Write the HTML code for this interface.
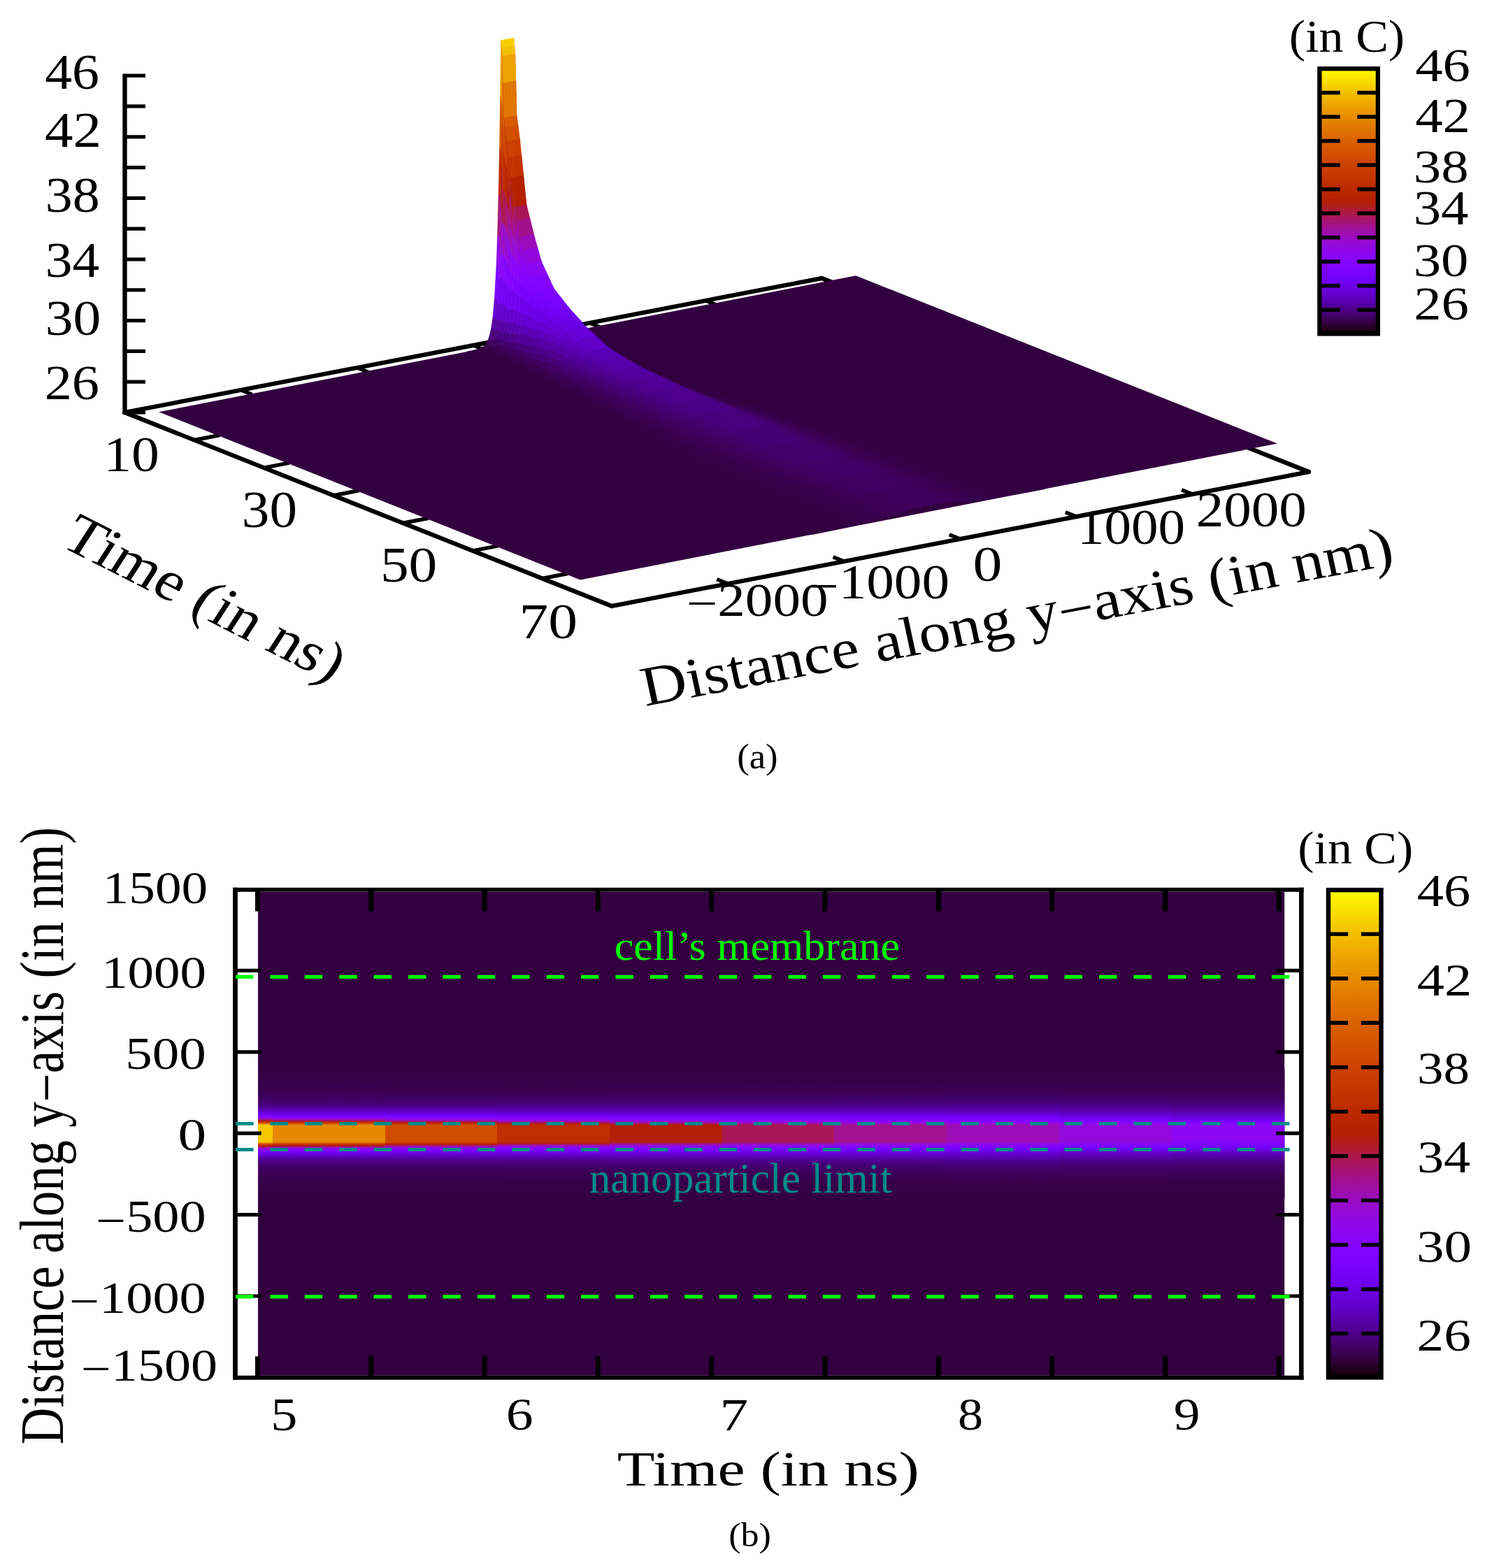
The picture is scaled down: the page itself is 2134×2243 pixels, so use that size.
<!DOCTYPE html>
<html><head><meta charset="utf-8"><title>Temperature plots</title>
<style>html,body{margin:0;padding:0;background:#fff;overflow:hidden;}svg{display:block;}</style></head>
<body><svg width="2134" height="2243" viewBox="0 0 2134 2243" font-family='"Liberation Serif", "DejaVu Serif", serif'>
<rect width="2134" height="2243" fill="#fff"/>
<g id="back">
<line x1="178.50" y1="590.00" x2="1175.50" y2="398.00" stroke="#000" stroke-width="6.2" stroke-linecap="round" />
<line x1="1175.50" y1="398.00" x2="1872.00" y2="675.00" stroke="#000" stroke-width="6.2" stroke-linecap="round" />
<line x1="178.50" y1="590.00" x2="194.30" y2="596.28" stroke="#000" stroke-width="5.5" stroke-linecap="butt" />
<line x1="344.67" y1="558.00" x2="360.46" y2="564.28" stroke="#000" stroke-width="5.5" stroke-linecap="butt" />
<line x1="510.83" y1="526.00" x2="526.63" y2="532.28" stroke="#000" stroke-width="5.5" stroke-linecap="butt" />
<line x1="677.00" y1="494.00" x2="692.80" y2="500.28" stroke="#000" stroke-width="5.5" stroke-linecap="butt" />
<line x1="843.17" y1="462.00" x2="858.96" y2="468.28" stroke="#000" stroke-width="5.5" stroke-linecap="butt" />
<line x1="1009.33" y1="430.00" x2="1025.13" y2="436.28" stroke="#000" stroke-width="5.5" stroke-linecap="butt" />
<line x1="1175.50" y1="398.00" x2="1191.30" y2="404.28" stroke="#000" stroke-width="5.5" stroke-linecap="butt" />
<line x1="1175.50" y1="398.00" x2="1139.17" y2="405.00" stroke="#000" stroke-width="5.5" stroke-linecap="butt" />
<line x1="1275.00" y1="437.57" x2="1238.67" y2="444.57" stroke="#000" stroke-width="5.5" stroke-linecap="butt" />
<line x1="1374.50" y1="477.14" x2="1338.17" y2="484.14" stroke="#000" stroke-width="5.5" stroke-linecap="butt" />
<line x1="1474.00" y1="516.71" x2="1437.67" y2="523.71" stroke="#000" stroke-width="5.5" stroke-linecap="butt" />
<line x1="1573.50" y1="556.29" x2="1537.17" y2="563.28" stroke="#000" stroke-width="5.5" stroke-linecap="butt" />
<line x1="1673.00" y1="595.86" x2="1636.67" y2="602.85" stroke="#000" stroke-width="5.5" stroke-linecap="butt" />
<line x1="1772.50" y1="635.43" x2="1736.17" y2="642.43" stroke="#000" stroke-width="5.5" stroke-linecap="butt" />
<line x1="1872.00" y1="675.00" x2="1835.67" y2="682.00" stroke="#000" stroke-width="5.5" stroke-linecap="butt" />
<line x1="178.50" y1="590.00" x2="214.83" y2="583.00" stroke="#000" stroke-width="5.5" stroke-linecap="butt" />
<line x1="278.00" y1="629.57" x2="314.33" y2="622.57" stroke="#000" stroke-width="5.5" stroke-linecap="butt" />
<line x1="377.50" y1="669.14" x2="413.83" y2="662.15" stroke="#000" stroke-width="5.5" stroke-linecap="butt" />
<line x1="477.00" y1="708.71" x2="513.33" y2="701.72" stroke="#000" stroke-width="5.5" stroke-linecap="butt" />
<line x1="576.50" y1="748.29" x2="612.83" y2="741.29" stroke="#000" stroke-width="5.5" stroke-linecap="butt" />
<line x1="676.00" y1="787.86" x2="712.33" y2="780.86" stroke="#000" stroke-width="5.5" stroke-linecap="butt" />
<line x1="775.50" y1="827.43" x2="811.83" y2="820.43" stroke="#000" stroke-width="5.5" stroke-linecap="butt" />
<line x1="875.00" y1="867.00" x2="911.33" y2="860.00" stroke="#000" stroke-width="5.5" stroke-linecap="butt" />
</g>
<polygon points="227.1,589.3 829.9,829.5 1826.9,634.5 1224.1,394.3" fill="#33003f" />
<g id="surf" stroke-linejoin="round">
<polygon points="775.5,481.9 776.4,482.3 784.8,480.8 783.8,480.4" fill="#330040" stroke="#330040" stroke-width="0.6"/>
<polygon points="768.8,482.9 769.8,483.3 776.4,482.3 775.5,481.9" fill="#330040" stroke="#330040" stroke-width="0.6"/>
<polygon points="763.8,483.1 764.8,483.4 769.8,483.3 768.8,482.9" fill="#340042" stroke="#340042" stroke-width="0.6"/>
<polygon points="758.8,481.9 759.8,482.1 764.8,483.4 763.8,483.1" fill="#360047" stroke="#360047" stroke-width="0.6"/>
<polygon points="755.5,479.4 756.5,479.5 759.8,482.1 758.8,481.9" fill="#390050" stroke="#390050" stroke-width="0.6"/>
<polygon points="752.2,473.9 753.2,473.7 756.5,479.5 755.5,479.4" fill="#3f005f" stroke="#3f005f" stroke-width="0.6"/>
<polygon points="748.9,462.5 749.9,461.9 753.2,473.7 752.2,473.9" fill="#48007a" stroke="#48007a" stroke-width="0.6"/>
<polygon points="746.4,446.9 747.4,446.0 749.9,461.9 748.9,462.5" fill="#5400a2" stroke="#5400a2" stroke-width="0.6"/>
<polygon points="743.9,420.8 744.9,419.7 747.4,446.0 746.4,446.9" fill="#6401d2" stroke="#6401d2" stroke-width="0.6"/>
<polygon points="741.4,377.6 742.4,376.6 744.9,419.7 743.9,420.8" fill="#7903fc" stroke="#7903fc" stroke-width="0.6"/>
<polygon points="739.7,334.0 740.7,333.4 742.4,376.6 741.4,377.6" fill="#9008e8" stroke="#9008e8" stroke-width="0.6"/>
<polygon points="738.1,272.9 739.1,273.8 740.7,333.4 739.7,334.0" fill="#a61473" stroke="#a61473" stroke-width="0.6"/>
<polygon points="736.7,207.1 737.7,210.0 739.1,273.8 738.1,272.9" fill="#be2c00" stroke="#be2c00" stroke-width="0.6"/>
<polygon points="735.6,133.0 736.6,139.3 737.7,210.0 736.7,207.1" fill="#d55700" stroke="#d55700" stroke-width="0.6"/>
<polygon points="734.6,54.2 735.6,65.6 736.6,139.3 735.6,133.0" fill="#ec9f00" stroke="#ec9f00" stroke-width="0.6"/>
<polygon points="733.1,54.5 734.1,65.9 735.6,65.6 734.6,54.2" fill="#f6cf00" stroke="#f6cf00" stroke-width="0.6"/>
<polygon points="730.6,55.0 731.6,66.4 734.1,65.9 733.1,54.5" fill="#f6cf00" stroke="#f6cf00" stroke-width="0.6"/>
<polygon points="728.1,55.5 729.1,66.9 731.6,66.4 730.6,55.0" fill="#f6cf00" stroke="#f6cf00" stroke-width="0.6"/>
<polygon points="725.6,56.0 726.6,67.3 729.1,66.9 728.1,55.5" fill="#f6cf00" stroke="#f6cf00" stroke-width="0.6"/>
<polygon points="723.1,56.5 724.1,67.8 726.6,67.3 725.6,56.0" fill="#f6cf00" stroke="#f6cf00" stroke-width="0.6"/>
<polygon points="720.6,57.0 721.6,68.3 724.1,67.8 723.1,56.5" fill="#f6cf00" stroke="#f6cf00" stroke-width="0.6"/>
<polygon points="718.1,57.5 719.1,68.8 721.6,68.3 720.6,57.0" fill="#f6cf00" stroke="#f6cf00" stroke-width="0.6"/>
<polygon points="716.6,57.7 717.6,69.1 719.1,68.8 718.1,57.5" fill="#f6cf00" stroke="#f6cf00" stroke-width="0.6"/>
<polygon points="715.6,136.9 716.6,143.2 717.6,69.1 716.6,57.7" fill="#ec9f00" stroke="#ec9f00" stroke-width="0.6"/>
<polygon points="714.5,211.4 715.5,214.4 716.6,143.2 715.6,136.9" fill="#d55700" stroke="#d55700" stroke-width="0.6"/>
<polygon points="713.1,277.8 714.1,278.6 715.5,214.4 714.5,211.4" fill="#be2c00" stroke="#be2c00" stroke-width="0.6"/>
<polygon points="711.5,339.5 712.5,339.0 714.1,278.6 713.1,277.8" fill="#a61473" stroke="#a61473" stroke-width="0.6"/>
<polygon points="709.8,383.8 710.8,382.7 712.5,339.0 711.5,339.5" fill="#9008e8" stroke="#9008e8" stroke-width="0.6"/>
<polygon points="707.3,428.0 708.3,426.9 710.8,382.7 709.8,383.8" fill="#7903fc" stroke="#7903fc" stroke-width="0.6"/>
<polygon points="704.8,455.0 705.8,454.2 708.3,426.9 707.3,428.0" fill="#6401d2" stroke="#6401d2" stroke-width="0.6"/>
<polygon points="702.3,471.6 703.3,471.0 705.8,454.2 704.8,455.0" fill="#5400a2" stroke="#5400a2" stroke-width="0.6"/>
<polygon points="699.0,484.3 700.0,484.1 703.3,471.0 702.3,471.6" fill="#48007a" stroke="#48007a" stroke-width="0.6"/>
<polygon points="695.7,491.1 696.7,491.2 700.0,484.1 699.0,484.3" fill="#3f005f" stroke="#3f005f" stroke-width="0.6"/>
<polygon points="692.4,494.9 693.4,495.1 696.7,491.2 695.7,491.1" fill="#390050" stroke="#390050" stroke-width="0.6"/>
<polygon points="687.4,498.0 688.4,498.4 693.4,495.1 692.4,494.9" fill="#360047" stroke="#360047" stroke-width="0.6"/>
<polygon points="682.4,499.8 683.4,500.2 688.4,498.4 687.4,498.0" fill="#340042" stroke="#340042" stroke-width="0.6"/>
<polygon points="675.8,501.4 676.7,501.8 683.4,500.2 682.4,499.8" fill="#330040" stroke="#330040" stroke-width="0.6"/>
<polygon points="667.4,503.2 668.4,503.5 676.7,501.8 675.8,501.4" fill="#330040" stroke="#330040" stroke-width="0.6"/>
<polygon points="776.4,482.3 777.4,482.7 785.8,481.2 784.8,480.8" fill="#330040" stroke="#330040" stroke-width="0.6"/>
<polygon points="769.8,483.3 770.8,483.6 777.4,482.7 776.4,482.3" fill="#330040" stroke="#330040" stroke-width="0.6"/>
<polygon points="764.8,483.4 765.8,483.7 770.8,483.6 769.8,483.3" fill="#340042" stroke="#340042" stroke-width="0.6"/>
<polygon points="759.8,482.1 760.8,482.3 765.8,483.7 764.8,483.4" fill="#360047" stroke="#360047" stroke-width="0.6"/>
<polygon points="756.5,479.5 757.5,479.5 760.8,482.3 759.8,482.1" fill="#3a0050" stroke="#3a0050" stroke-width="0.6"/>
<polygon points="753.2,473.7 754.2,473.5 757.5,479.5 756.5,479.5" fill="#3f0060" stroke="#3f0060" stroke-width="0.6"/>
<polygon points="749.9,461.9 750.9,461.4 754.2,473.5 753.2,473.7" fill="#49007d" stroke="#49007d" stroke-width="0.6"/>
<polygon points="747.4,446.0 748.4,445.3 750.9,461.4 749.9,461.9" fill="#5500a4" stroke="#5500a4" stroke-width="0.6"/>
<polygon points="744.9,419.7 745.9,418.8 748.4,445.3 747.4,446.0" fill="#6501d4" stroke="#6501d4" stroke-width="0.6"/>
<polygon points="742.4,376.6 743.4,375.8 745.9,418.8 744.9,419.7" fill="#7a03fd" stroke="#7a03fd" stroke-width="0.6"/>
<polygon points="740.7,333.4 741.7,333.2 743.4,375.8 742.4,376.6" fill="#9008e7" stroke="#9008e7" stroke-width="0.6"/>
<polygon points="739.1,273.8 740.1,274.9 741.7,333.2 740.7,333.4" fill="#a61472" stroke="#a61472" stroke-width="0.6"/>
<polygon points="737.7,210.0 738.7,213.4 740.1,274.9 739.1,273.8" fill="#be2b00" stroke="#be2b00" stroke-width="0.6"/>
<polygon points="736.6,139.3 737.6,145.9 738.7,213.4 737.7,210.0" fill="#d45400" stroke="#d45400" stroke-width="0.6"/>
<polygon points="735.6,65.6 736.6,76.9 737.6,145.9 736.6,139.3" fill="#e99500" stroke="#e99500" stroke-width="0.6"/>
<polygon points="734.1,65.9 735.1,77.2 736.6,76.9 735.6,65.6" fill="#f3c000" stroke="#f3c000" stroke-width="0.6"/>
<polygon points="731.6,66.4 732.6,77.7 735.1,77.2 734.1,65.9" fill="#f3c000" stroke="#f3c000" stroke-width="0.6"/>
<polygon points="729.1,66.9 730.1,78.2 732.6,77.7 731.6,66.4" fill="#f3c000" stroke="#f3c000" stroke-width="0.6"/>
<polygon points="726.6,67.3 727.6,78.7 730.1,78.2 729.1,66.9" fill="#f3c000" stroke="#f3c000" stroke-width="0.6"/>
<polygon points="724.1,67.8 725.1,79.2 727.6,78.7 726.6,67.3" fill="#f3c000" stroke="#f3c000" stroke-width="0.6"/>
<polygon points="721.6,68.3 722.6,79.7 725.1,79.2 724.1,67.8" fill="#f3c000" stroke="#f3c000" stroke-width="0.6"/>
<polygon points="719.1,68.8 720.1,80.1 722.6,79.7 721.6,68.3" fill="#f3c000" stroke="#f3c000" stroke-width="0.6"/>
<polygon points="717.6,69.1 718.6,80.4 720.1,80.1 719.1,68.8" fill="#f3c000" stroke="#f3c000" stroke-width="0.6"/>
<polygon points="716.6,143.2 717.6,149.8 718.6,80.4 717.6,69.1" fill="#e99500" stroke="#e99500" stroke-width="0.6"/>
<polygon points="715.5,214.4 716.5,217.7 717.6,149.8 716.6,143.2" fill="#d45400" stroke="#d45400" stroke-width="0.6"/>
<polygon points="714.1,278.6 715.1,279.8 716.5,217.7 715.5,214.4" fill="#be2b00" stroke="#be2b00" stroke-width="0.6"/>
<polygon points="712.5,339.0 713.5,338.8 715.1,279.8 714.1,278.6" fill="#a61472" stroke="#a61472" stroke-width="0.6"/>
<polygon points="710.8,382.7 711.8,381.9 713.5,338.8 712.5,339.0" fill="#9008e7" stroke="#9008e7" stroke-width="0.6"/>
<polygon points="708.3,426.9 709.3,425.9 711.8,381.9 710.8,382.7" fill="#7a03fd" stroke="#7a03fd" stroke-width="0.6"/>
<polygon points="705.8,454.2 706.8,453.4 709.3,425.9 708.3,426.9" fill="#6501d4" stroke="#6501d4" stroke-width="0.6"/>
<polygon points="703.3,471.0 704.3,470.5 706.8,453.4 705.8,454.2" fill="#5500a4" stroke="#5500a4" stroke-width="0.6"/>
<polygon points="700.0,484.1 701.0,483.9 704.3,470.5 703.3,471.0" fill="#49007d" stroke="#49007d" stroke-width="0.6"/>
<polygon points="696.7,491.2 697.7,491.2 701.0,483.9 700.0,484.1" fill="#3f0060" stroke="#3f0060" stroke-width="0.6"/>
<polygon points="693.4,495.1 694.4,495.3 697.7,491.2 696.7,491.2" fill="#3a0050" stroke="#3a0050" stroke-width="0.6"/>
<polygon points="688.4,498.4 689.4,498.7 694.4,495.3 693.4,495.1" fill="#360047" stroke="#360047" stroke-width="0.6"/>
<polygon points="683.4,500.2 684.4,500.5 689.4,498.7 688.4,498.4" fill="#340042" stroke="#340042" stroke-width="0.6"/>
<polygon points="676.7,501.8 677.7,502.2 684.4,500.5 683.4,500.2" fill="#330040" stroke="#330040" stroke-width="0.6"/>
<polygon points="668.4,503.5 669.4,503.9 677.7,502.2 676.7,501.8" fill="#330040" stroke="#330040" stroke-width="0.6"/>
<polygon points="777.4,482.7 778.4,483.1 786.8,481.6 785.8,481.2" fill="#330040" stroke="#330040" stroke-width="0.6"/>
<polygon points="770.8,483.6 771.8,484.0 778.4,483.1 777.4,482.7" fill="#330040" stroke="#330040" stroke-width="0.6"/>
<polygon points="765.8,483.7 766.8,484.1 771.8,484.0 770.8,483.6" fill="#340042" stroke="#340042" stroke-width="0.6"/>
<polygon points="760.8,482.3 761.8,482.8 766.8,484.1 765.8,483.7" fill="#360048" stroke="#360048" stroke-width="0.6"/>
<polygon points="757.5,479.5 758.5,480.1 761.8,482.8 760.8,482.3" fill="#3a0051" stroke="#3a0051" stroke-width="0.6"/>
<polygon points="754.2,473.5 755.2,474.3 758.5,480.1 757.5,479.5" fill="#3f0060" stroke="#3f0060" stroke-width="0.6"/>
<polygon points="750.9,461.4 751.9,462.9 755.2,474.3 754.2,473.5" fill="#49007d" stroke="#49007d" stroke-width="0.6"/>
<polygon points="748.4,445.3 749.4,447.6 751.9,462.9 750.9,461.4" fill="#5500a4" stroke="#5500a4" stroke-width="0.6"/>
<polygon points="745.9,418.8 746.9,422.8 749.4,447.6 748.4,445.3" fill="#6401d3" stroke="#6401d3" stroke-width="0.6"/>
<polygon points="743.4,375.8 744.4,382.9 746.9,422.8 745.9,418.8" fill="#7903fc" stroke="#7903fc" stroke-width="0.6"/>
<polygon points="741.7,333.2 742.7,343.9 744.4,382.9 743.4,375.8" fill="#8e08ec" stroke="#8e08ec" stroke-width="0.6"/>
<polygon points="740.1,274.9 741.1,290.9 742.7,343.9 741.7,333.2" fill="#a41285" stroke="#a41285" stroke-width="0.6"/>
<polygon points="738.7,213.4 739.7,235.5 741.1,290.9 740.1,274.9" fill="#ba2600" stroke="#ba2600" stroke-width="0.6"/>
<polygon points="737.6,145.9 738.6,175.5 739.7,235.5 738.7,213.4" fill="#cf4900" stroke="#cf4900" stroke-width="0.6"/>
<polygon points="736.6,76.9 737.6,115.4 738.6,175.5 737.6,145.9" fill="#e37f00" stroke="#e37f00" stroke-width="0.6"/>
<polygon points="735.1,77.2 736.1,115.7 737.6,115.4 736.6,76.9" fill="#eca200" stroke="#eca200" stroke-width="0.6"/>
<polygon points="732.6,77.7 733.6,116.2 736.1,115.7 735.1,77.2" fill="#eca200" stroke="#eca200" stroke-width="0.6"/>
<polygon points="730.1,78.2 731.1,116.7 733.6,116.2 732.6,77.7" fill="#eca200" stroke="#eca200" stroke-width="0.6"/>
<polygon points="727.6,78.7 728.6,117.2 731.1,116.7 730.1,78.2" fill="#eca200" stroke="#eca200" stroke-width="0.6"/>
<polygon points="725.1,79.2 726.1,117.7 728.6,117.2 727.6,78.7" fill="#eca200" stroke="#eca200" stroke-width="0.6"/>
<polygon points="722.6,79.7 723.6,118.1 726.1,117.7 725.1,79.2" fill="#eca200" stroke="#eca200" stroke-width="0.6"/>
<polygon points="720.1,80.1 721.1,118.6 723.6,118.1 722.6,79.7" fill="#eca200" stroke="#eca200" stroke-width="0.6"/>
<polygon points="718.6,80.4 719.6,118.9 721.1,118.6 720.1,80.1" fill="#eca200" stroke="#eca200" stroke-width="0.6"/>
<polygon points="717.6,149.8 718.6,179.4 719.6,118.9 718.6,80.4" fill="#e37f00" stroke="#e37f00" stroke-width="0.6"/>
<polygon points="716.5,217.7 717.5,239.9 718.6,179.4 717.6,149.8" fill="#cf4900" stroke="#cf4900" stroke-width="0.6"/>
<polygon points="715.1,279.8 716.1,295.8 717.5,239.9 716.5,217.7" fill="#ba2600" stroke="#ba2600" stroke-width="0.6"/>
<polygon points="713.5,338.8 714.5,349.4 716.1,295.8 715.1,279.8" fill="#a41285" stroke="#a41285" stroke-width="0.6"/>
<polygon points="711.8,381.9 712.8,389.1 714.5,349.4 713.5,338.8" fill="#8e08ec" stroke="#8e08ec" stroke-width="0.6"/>
<polygon points="709.3,425.9 710.3,430.0 712.8,389.1 711.8,381.9" fill="#7903fc" stroke="#7903fc" stroke-width="0.6"/>
<polygon points="706.8,453.4 707.8,455.7 710.3,430.0 709.3,425.9" fill="#6401d3" stroke="#6401d3" stroke-width="0.6"/>
<polygon points="704.3,470.5 705.3,472.0 707.8,455.7 706.8,453.4" fill="#5500a4" stroke="#5500a4" stroke-width="0.6"/>
<polygon points="701.0,483.9 702.0,484.7 705.3,472.0 704.3,470.5" fill="#49007d" stroke="#49007d" stroke-width="0.6"/>
<polygon points="697.7,491.2 698.7,491.8 702.0,484.7 701.0,483.9" fill="#3f0060" stroke="#3f0060" stroke-width="0.6"/>
<polygon points="694.4,495.3 695.4,495.8 698.7,491.8 697.7,491.2" fill="#3a0051" stroke="#3a0051" stroke-width="0.6"/>
<polygon points="689.4,498.7 690.4,499.1 695.4,495.8 694.4,495.3" fill="#360048" stroke="#360048" stroke-width="0.6"/>
<polygon points="684.4,500.5 685.4,500.9 690.4,499.1 689.4,498.7" fill="#340042" stroke="#340042" stroke-width="0.6"/>
<polygon points="677.7,502.2 678.7,502.6 685.4,500.9 684.4,500.5" fill="#330040" stroke="#330040" stroke-width="0.6"/>
<polygon points="669.4,503.9 670.4,504.3 678.7,502.6 677.7,502.2" fill="#330040" stroke="#330040" stroke-width="0.6"/>
<polygon points="778.4,483.1 779.7,483.6 788.1,482.1 786.8,481.6" fill="#330040" stroke="#330040" stroke-width="0.6"/>
<polygon points="771.8,484.0 773.1,484.6 779.7,483.6 778.4,483.1" fill="#330040" stroke="#330040" stroke-width="0.6"/>
<polygon points="766.8,484.1 768.1,484.7 773.1,484.6 771.8,484.0" fill="#340042" stroke="#340042" stroke-width="0.6"/>
<polygon points="761.8,482.8 763.1,483.5 768.1,484.7 766.8,484.1" fill="#360047" stroke="#360047" stroke-width="0.6"/>
<polygon points="758.5,480.1 759.8,481.0 763.1,483.5 761.8,482.8" fill="#3a0050" stroke="#3a0050" stroke-width="0.6"/>
<polygon points="755.2,474.3 756.5,475.7 759.8,481.0 758.5,480.1" fill="#3f005f" stroke="#3f005f" stroke-width="0.6"/>
<polygon points="751.9,462.9 753.2,465.1 756.5,475.7 755.2,474.3" fill="#48007a" stroke="#48007a" stroke-width="0.6"/>
<polygon points="749.4,447.6 750.7,451.2 753.2,465.1 751.9,462.9" fill="#53009f" stroke="#53009f" stroke-width="0.6"/>
<polygon points="746.9,422.8 748.2,428.9 750.7,451.2 749.4,447.6" fill="#6201cc" stroke="#6201cc" stroke-width="0.6"/>
<polygon points="744.4,382.9 745.7,393.4 748.2,428.9 746.9,422.8" fill="#7502f8" stroke="#7502f8" stroke-width="0.6"/>
<polygon points="742.7,343.9 744.0,359.1 745.7,393.4 744.4,382.9" fill="#8906f7" stroke="#8906f7" stroke-width="0.6"/>
<polygon points="741.1,290.9 742.4,313.0 744.0,359.1 742.7,343.9" fill="#9d0eae" stroke="#9d0eae" stroke-width="0.6"/>
<polygon points="739.7,235.5 741.0,265.6 742.4,313.0 741.1,290.9" fill="#b21d17" stroke="#b21d17" stroke-width="0.6"/>
<polygon points="738.6,175.5 739.9,214.9 741.0,265.6 739.7,235.5" fill="#c53600" stroke="#c53600" stroke-width="0.6"/>
<polygon points="737.6,115.4 738.9,165.4 739.9,214.9 738.6,175.5" fill="#d75c00" stroke="#d75c00" stroke-width="0.6"/>
<polygon points="736.1,115.7 737.4,165.7 738.9,165.4 737.6,115.4" fill="#e07400" stroke="#e07400" stroke-width="0.6"/>
<polygon points="733.6,116.2 734.9,166.2 737.4,165.7 736.1,115.7" fill="#e07400" stroke="#e07400" stroke-width="0.6"/>
<polygon points="731.1,116.7 732.4,166.7 734.9,166.2 733.6,116.2" fill="#e07400" stroke="#e07400" stroke-width="0.6"/>
<polygon points="728.6,117.2 729.9,167.2 732.4,166.7 731.1,116.7" fill="#e07400" stroke="#e07400" stroke-width="0.6"/>
<polygon points="726.1,117.7 727.4,167.7 729.9,167.2 728.6,117.2" fill="#e07400" stroke="#e07400" stroke-width="0.6"/>
<polygon points="723.6,118.1 724.9,168.2 727.4,167.7 726.1,117.7" fill="#e07400" stroke="#e07400" stroke-width="0.6"/>
<polygon points="721.1,118.6 722.4,168.7 724.9,168.2 723.6,118.1" fill="#e07400" stroke="#e07400" stroke-width="0.6"/>
<polygon points="719.6,118.9 720.9,169.0 722.4,168.7 721.1,118.6" fill="#e07400" stroke="#e07400" stroke-width="0.6"/>
<polygon points="718.6,179.4 719.9,218.8 720.9,169.0 719.6,118.9" fill="#d75c00" stroke="#d75c00" stroke-width="0.6"/>
<polygon points="717.5,239.9 718.8,269.9 719.9,218.8 718.6,179.4" fill="#c53600" stroke="#c53600" stroke-width="0.6"/>
<polygon points="716.1,295.8 717.4,317.9 718.8,269.9 717.5,239.9" fill="#b21d17" stroke="#b21d17" stroke-width="0.6"/>
<polygon points="714.5,349.4 715.8,364.6 717.4,317.9 716.1,295.8" fill="#9d0eae" stroke="#9d0eae" stroke-width="0.6"/>
<polygon points="712.8,389.1 714.1,399.6 715.8,364.6 714.5,349.4" fill="#8906f7" stroke="#8906f7" stroke-width="0.6"/>
<polygon points="710.3,430.0 711.6,436.0 714.1,399.6 712.8,389.1" fill="#7502f8" stroke="#7502f8" stroke-width="0.6"/>
<polygon points="707.8,455.7 709.1,459.3 711.6,436.0 710.3,430.0" fill="#6201cc" stroke="#6201cc" stroke-width="0.6"/>
<polygon points="705.3,472.0 706.6,474.2 709.1,459.3 707.8,455.7" fill="#53009f" stroke="#53009f" stroke-width="0.6"/>
<polygon points="702.0,484.7 703.3,486.1 706.6,474.2 705.3,472.0" fill="#48007a" stroke="#48007a" stroke-width="0.6"/>
<polygon points="698.7,491.8 700.0,492.7 703.3,486.1 702.0,484.7" fill="#3f005f" stroke="#3f005f" stroke-width="0.6"/>
<polygon points="695.4,495.8 696.7,496.5 700.0,492.7 698.7,491.8" fill="#3a0050" stroke="#3a0050" stroke-width="0.6"/>
<polygon points="690.4,499.1 691.7,499.7 696.7,496.5 695.4,495.8" fill="#360047" stroke="#360047" stroke-width="0.6"/>
<polygon points="685.4,500.9 686.7,501.5 691.7,499.7 690.4,499.1" fill="#340042" stroke="#340042" stroke-width="0.6"/>
<polygon points="678.7,502.6 680.0,503.1 686.7,501.5 685.4,500.9" fill="#330040" stroke="#330040" stroke-width="0.6"/>
<polygon points="670.4,504.3 671.7,504.9 680.0,503.1 678.7,502.6" fill="#330040" stroke="#330040" stroke-width="0.6"/>
<polygon points="779.7,483.6 781.4,484.3 789.8,482.8 788.1,482.1" fill="#330040" stroke="#330040" stroke-width="0.6"/>
<polygon points="773.1,484.6 774.8,485.2 781.4,484.3 779.7,483.6" fill="#330041" stroke="#330041" stroke-width="0.6"/>
<polygon points="768.1,484.7 769.8,485.3 774.8,485.2 773.1,484.6" fill="#340043" stroke="#340043" stroke-width="0.6"/>
<polygon points="763.1,483.5 764.8,483.9 769.8,485.3 768.1,484.7" fill="#360048" stroke="#360048" stroke-width="0.6"/>
<polygon points="759.8,481.0 761.5,481.1 764.8,483.9 763.1,483.5" fill="#3a0050" stroke="#3a0050" stroke-width="0.6"/>
<polygon points="756.5,475.7 758.2,475.5 761.5,481.1 759.8,481.0" fill="#3f005f" stroke="#3f005f" stroke-width="0.6"/>
<polygon points="753.2,465.1 754.9,464.5 758.2,475.5 756.5,475.7" fill="#480079" stroke="#480079" stroke-width="0.6"/>
<polygon points="750.7,451.2 752.4,450.3 754.9,464.5 753.2,465.1" fill="#53009d" stroke="#53009d" stroke-width="0.6"/>
<polygon points="748.2,428.9 749.9,427.8 752.4,450.3 750.7,451.2" fill="#6101c9" stroke="#6101c9" stroke-width="0.6"/>
<polygon points="745.7,393.4 747.4,392.6 749.9,427.8 748.2,428.9" fill="#7402f5" stroke="#7402f5" stroke-width="0.6"/>
<polygon points="744.0,359.1 745.7,359.0 747.4,392.6 745.7,393.4" fill="#8706fb" stroke="#8706fb" stroke-width="0.6"/>
<polygon points="742.4,313.0 744.1,314.7 745.7,359.0 744.0,359.1" fill="#990cc3" stroke="#990cc3" stroke-width="0.6"/>
<polygon points="741.0,265.6 742.7,269.9 744.1,314.7 742.4,313.0" fill="#ac1845" stroke="#ac1845" stroke-width="0.6"/>
<polygon points="739.9,214.9 741.6,222.9 742.7,269.9 741.0,265.6" fill="#be2c00" stroke="#be2c00" stroke-width="0.6"/>
<polygon points="738.9,165.4 740.6,178.4 741.6,222.9 739.9,214.9" fill="#ce4800" stroke="#ce4800" stroke-width="0.6"/>
<polygon points="737.4,165.7 739.1,178.7 740.6,178.4 738.9,165.4" fill="#d65900" stroke="#d65900" stroke-width="0.6"/>
<polygon points="734.9,166.2 736.6,179.2 739.1,178.7 737.4,165.7" fill="#d65900" stroke="#d65900" stroke-width="0.6"/>
<polygon points="732.4,166.7 734.1,179.7 736.6,179.2 734.9,166.2" fill="#d65900" stroke="#d65900" stroke-width="0.6"/>
<polygon points="729.9,167.2 731.6,180.1 734.1,179.7 732.4,166.7" fill="#d65900" stroke="#d65900" stroke-width="0.6"/>
<polygon points="727.4,167.7 729.1,180.6 731.6,180.1 729.9,167.2" fill="#d65900" stroke="#d65900" stroke-width="0.6"/>
<polygon points="724.9,168.2 726.6,181.1 729.1,180.6 727.4,167.7" fill="#d65900" stroke="#d65900" stroke-width="0.6"/>
<polygon points="722.4,168.7 724.1,181.6 726.6,181.1 724.9,168.2" fill="#d65900" stroke="#d65900" stroke-width="0.6"/>
<polygon points="720.9,169.0 722.6,181.9 724.1,181.6 722.4,168.7" fill="#d65900" stroke="#d65900" stroke-width="0.6"/>
<polygon points="719.9,218.8 721.6,226.8 722.6,181.9 720.9,169.0" fill="#ce4800" stroke="#ce4800" stroke-width="0.6"/>
<polygon points="718.8,269.9 720.5,274.2 721.6,226.8 719.9,218.8" fill="#be2c00" stroke="#be2c00" stroke-width="0.6"/>
<polygon points="717.4,317.9 719.1,319.6 720.5,274.2 718.8,269.9" fill="#ac1845" stroke="#ac1845" stroke-width="0.6"/>
<polygon points="715.8,364.6 717.5,364.5 719.1,319.6 717.4,317.9" fill="#990cc3" stroke="#990cc3" stroke-width="0.6"/>
<polygon points="714.1,399.6 715.8,398.7 717.5,364.5 715.8,364.6" fill="#8706fb" stroke="#8706fb" stroke-width="0.6"/>
<polygon points="711.6,436.0 713.3,434.9 715.8,398.7 714.1,399.6" fill="#7402f5" stroke="#7402f5" stroke-width="0.6"/>
<polygon points="709.1,459.3 710.8,458.4 713.3,434.9 711.6,436.0" fill="#6101c9" stroke="#6101c9" stroke-width="0.6"/>
<polygon points="706.6,474.2 708.3,473.6 710.8,458.4 709.1,459.3" fill="#53009d" stroke="#53009d" stroke-width="0.6"/>
<polygon points="703.3,486.1 705.0,485.9 708.3,473.6 706.6,474.2" fill="#480079" stroke="#480079" stroke-width="0.6"/>
<polygon points="700.0,492.7 701.7,492.8 705.0,485.9 703.3,486.1" fill="#3f005f" stroke="#3f005f" stroke-width="0.6"/>
<polygon points="696.7,496.5 698.4,496.9 701.7,492.8 700.0,492.7" fill="#3a0050" stroke="#3a0050" stroke-width="0.6"/>
<polygon points="691.7,499.7 693.4,500.2 698.4,496.9 696.7,496.5" fill="#360048" stroke="#360048" stroke-width="0.6"/>
<polygon points="686.7,501.5 688.4,502.1 693.4,500.2 691.7,499.7" fill="#340043" stroke="#340043" stroke-width="0.6"/>
<polygon points="680.0,503.1 681.7,503.8 688.4,502.1 686.7,501.5" fill="#330041" stroke="#330041" stroke-width="0.6"/>
<polygon points="671.7,504.9 673.4,505.5 681.7,503.8 680.0,503.1" fill="#330040" stroke="#330040" stroke-width="0.6"/>
<polygon points="781.4,484.3 784.1,485.3 792.5,483.9 789.8,482.8" fill="#330040" stroke="#330040" stroke-width="0.6"/>
<polygon points="774.8,485.2 777.5,486.2 784.1,485.3 781.4,484.3" fill="#340041" stroke="#340041" stroke-width="0.6"/>
<polygon points="769.8,485.3 772.5,486.1 777.5,486.2 774.8,485.2" fill="#340043" stroke="#340043" stroke-width="0.6"/>
<polygon points="764.8,483.9 767.5,484.5 772.5,486.1 769.8,485.3" fill="#370048" stroke="#370048" stroke-width="0.6"/>
<polygon points="761.5,481.1 764.2,481.5 767.5,484.5 764.8,483.9" fill="#3a0052" stroke="#3a0052" stroke-width="0.6"/>
<polygon points="758.2,475.5 760.9,475.4 764.2,481.5 761.5,481.1" fill="#400062" stroke="#400062" stroke-width="0.6"/>
<polygon points="754.9,464.5 757.6,463.9 760.9,475.4 758.2,475.5" fill="#49007d" stroke="#49007d" stroke-width="0.6"/>
<polygon points="752.4,450.3 755.1,449.3 757.6,463.9 754.9,464.5" fill="#5400a2" stroke="#5400a2" stroke-width="0.6"/>
<polygon points="749.9,427.8 752.6,426.6 755.1,449.3 752.4,450.3" fill="#6201cd" stroke="#6201cd" stroke-width="0.6"/>
<polygon points="747.4,392.6 750.1,392.1 752.6,426.6 749.9,427.8" fill="#7502f7" stroke="#7502f7" stroke-width="0.6"/>
<polygon points="745.7,359.0 748.4,360.1 750.1,392.1 747.4,392.6" fill="#8706fa" stroke="#8706fa" stroke-width="0.6"/>
<polygon points="744.1,314.7 746.8,318.7 748.4,360.1 745.7,359.0" fill="#990cc5" stroke="#990cc5" stroke-width="0.6"/>
<polygon points="742.7,269.9 745.4,277.9 746.8,318.7 744.1,314.7" fill="#ab1750" stroke="#ab1750" stroke-width="0.6"/>
<polygon points="741.6,222.9 744.3,236.4 745.4,277.9 742.7,269.9" fill="#bb2800" stroke="#bb2800" stroke-width="0.6"/>
<polygon points="740.6,178.4 743.3,199.0 744.3,236.4 741.6,222.9" fill="#ca3f00" stroke="#ca3f00" stroke-width="0.6"/>
<polygon points="739.1,178.7 741.8,199.2 743.3,199.0 740.6,178.4" fill="#d14d00" stroke="#d14d00" stroke-width="0.6"/>
<polygon points="736.6,179.2 739.3,199.7 741.8,199.2 739.1,178.7" fill="#d14d00" stroke="#d14d00" stroke-width="0.6"/>
<polygon points="734.1,179.7 736.8,200.2 739.3,199.7 736.6,179.2" fill="#d14d00" stroke="#d14d00" stroke-width="0.6"/>
<polygon points="731.6,180.1 734.3,200.7 736.8,200.2 734.1,179.7" fill="#d14d00" stroke="#d14d00" stroke-width="0.6"/>
<polygon points="729.1,180.6 731.8,201.2 734.3,200.7 731.6,180.1" fill="#d14d00" stroke="#d14d00" stroke-width="0.6"/>
<polygon points="726.6,181.1 729.3,201.7 731.8,201.2 729.1,180.6" fill="#d14d00" stroke="#d14d00" stroke-width="0.6"/>
<polygon points="724.1,181.6 726.8,202.2 729.3,201.7 726.6,181.1" fill="#d14d00" stroke="#d14d00" stroke-width="0.6"/>
<polygon points="722.6,181.9 725.3,202.5 726.8,202.2 724.1,181.6" fill="#d14d00" stroke="#d14d00" stroke-width="0.6"/>
<polygon points="721.6,226.8 724.3,240.3 725.3,202.5 722.6,181.9" fill="#ca3f00" stroke="#ca3f00" stroke-width="0.6"/>
<polygon points="720.5,274.2 723.2,282.2 724.3,240.3 721.6,226.8" fill="#bb2800" stroke="#bb2800" stroke-width="0.6"/>
<polygon points="719.1,319.6 721.8,323.6 723.2,282.2 720.5,274.2" fill="#ab1750" stroke="#ab1750" stroke-width="0.6"/>
<polygon points="717.5,364.5 720.2,365.6 721.8,323.6 719.1,319.6" fill="#990cc5" stroke="#990cc5" stroke-width="0.6"/>
<polygon points="715.8,398.7 718.5,398.3 720.2,365.6 717.5,364.5" fill="#8706fa" stroke="#8706fa" stroke-width="0.6"/>
<polygon points="713.3,434.9 716.0,433.8 718.5,398.3 715.8,398.7" fill="#7502f7" stroke="#7502f7" stroke-width="0.6"/>
<polygon points="710.8,458.4 713.5,457.4 716.0,433.8 713.3,434.9" fill="#6201cd" stroke="#6201cd" stroke-width="0.6"/>
<polygon points="708.3,473.6 711.0,473.0 713.5,457.4 710.8,458.4" fill="#5400a2" stroke="#5400a2" stroke-width="0.6"/>
<polygon points="705.0,485.9 707.7,485.8 711.0,473.0 708.3,473.6" fill="#49007d" stroke="#49007d" stroke-width="0.6"/>
<polygon points="701.7,492.8 704.4,493.2 707.7,485.8 705.0,485.9" fill="#400062" stroke="#400062" stroke-width="0.6"/>
<polygon points="698.4,496.9 701.1,497.5 704.4,493.2 701.7,492.8" fill="#3a0052" stroke="#3a0052" stroke-width="0.6"/>
<polygon points="693.4,500.2 696.1,501.1 701.1,497.5 698.4,496.9" fill="#370048" stroke="#370048" stroke-width="0.6"/>
<polygon points="688.4,502.1 691.1,503.1 696.1,501.1 693.4,500.2" fill="#340043" stroke="#340043" stroke-width="0.6"/>
<polygon points="681.7,503.8 684.4,504.8 691.1,503.1 688.4,502.1" fill="#340041" stroke="#340041" stroke-width="0.6"/>
<polygon points="673.4,505.5 676.1,506.6 684.4,504.8 681.7,503.8" fill="#330040" stroke="#330040" stroke-width="0.6"/>
<polygon points="784.1,485.3 786.4,486.2 794.8,484.8 792.5,483.9" fill="#330040" stroke="#330040" stroke-width="0.6"/>
<polygon points="777.5,486.2 779.8,487.0 786.4,486.2 784.1,485.3" fill="#340041" stroke="#340041" stroke-width="0.6"/>
<polygon points="772.5,486.1 774.8,486.9 779.8,487.0 777.5,486.2" fill="#350043" stroke="#350043" stroke-width="0.6"/>
<polygon points="767.5,484.5 769.8,485.1 774.8,486.9 772.5,486.1" fill="#370049" stroke="#370049" stroke-width="0.6"/>
<polygon points="764.2,481.5 766.5,482.0 769.8,485.1 767.5,484.5" fill="#3b0053" stroke="#3b0053" stroke-width="0.6"/>
<polygon points="760.9,475.4 763.2,475.7 766.5,482.0 764.2,481.5" fill="#410064" stroke="#410064" stroke-width="0.6"/>
<polygon points="757.6,463.9 759.9,464.1 763.2,475.7 760.9,475.4" fill="#4a0080" stroke="#4a0080" stroke-width="0.6"/>
<polygon points="755.1,449.3 757.4,449.6 759.9,464.1 757.6,463.9" fill="#5500a5" stroke="#5500a5" stroke-width="0.6"/>
<polygon points="752.6,426.6 754.9,427.5 757.4,449.6 755.1,449.3" fill="#6301d0" stroke="#6301d0" stroke-width="0.6"/>
<polygon points="750.1,392.1 752.4,394.5 754.9,427.5 752.6,426.6" fill="#7502f7" stroke="#7502f7" stroke-width="0.6"/>
<polygon points="748.4,360.1 750.7,364.4 752.4,394.5 750.1,392.1" fill="#8706fb" stroke="#8706fb" stroke-width="0.6"/>
<polygon points="746.8,318.7 749.1,326.4 750.7,364.4 748.4,360.1" fill="#970bcc" stroke="#970bcc" stroke-width="0.6"/>
<polygon points="745.4,277.9 747.7,289.6 749.1,326.4 746.8,318.7" fill="#a81565" stroke="#a81565" stroke-width="0.6"/>
<polygon points="744.3,236.4 746.6,253.1 747.7,289.6 745.4,277.9" fill="#b72300" stroke="#b72300" stroke-width="0.6"/>
<polygon points="743.3,199.0 745.6,221.5 746.6,253.1 744.3,236.4" fill="#c43500" stroke="#c43500" stroke-width="0.6"/>
<polygon points="741.8,199.2 744.1,221.8 745.6,221.5 743.3,199.0" fill="#ca3f00" stroke="#ca3f00" stroke-width="0.6"/>
<polygon points="739.3,199.7 741.6,222.3 744.1,221.8 741.8,199.2" fill="#ca3f00" stroke="#ca3f00" stroke-width="0.6"/>
<polygon points="736.8,200.2 739.1,222.8 741.6,222.3 739.3,199.7" fill="#ca3f00" stroke="#ca3f00" stroke-width="0.6"/>
<polygon points="734.3,200.7 736.6,223.2 739.1,222.8 736.8,200.2" fill="#ca3f00" stroke="#ca3f00" stroke-width="0.6"/>
<polygon points="731.8,201.2 734.1,223.7 736.6,223.2 734.3,200.7" fill="#ca3f00" stroke="#ca3f00" stroke-width="0.6"/>
<polygon points="729.3,201.7 731.6,224.2 734.1,223.7 731.8,201.2" fill="#ca3f00" stroke="#ca3f00" stroke-width="0.6"/>
<polygon points="726.8,202.2 729.1,224.7 731.6,224.2 729.3,201.7" fill="#ca3f00" stroke="#ca3f00" stroke-width="0.6"/>
<polygon points="725.3,202.5 727.6,225.0 729.1,224.7 726.8,202.2" fill="#ca3f00" stroke="#ca3f00" stroke-width="0.6"/>
<polygon points="724.3,240.3 726.6,257.0 727.6,225.0 725.3,202.5" fill="#c43500" stroke="#c43500" stroke-width="0.6"/>
<polygon points="723.2,282.2 725.5,294.0 726.6,257.0 724.3,240.3" fill="#b72300" stroke="#b72300" stroke-width="0.6"/>
<polygon points="721.8,323.6 724.1,331.3 725.5,294.0 723.2,282.2" fill="#a81565" stroke="#a81565" stroke-width="0.6"/>
<polygon points="720.2,365.6 722.5,370.0 724.1,331.3 721.8,323.6" fill="#970bcc" stroke="#970bcc" stroke-width="0.6"/>
<polygon points="718.5,398.3 720.8,400.7 722.5,370.0 720.2,365.6" fill="#8706fb" stroke="#8706fb" stroke-width="0.6"/>
<polygon points="716.0,433.8 718.3,434.6 720.8,400.7 718.5,398.3" fill="#7502f7" stroke="#7502f7" stroke-width="0.6"/>
<polygon points="713.5,457.4 715.8,457.7 718.3,434.6 716.0,433.8" fill="#6301d0" stroke="#6301d0" stroke-width="0.6"/>
<polygon points="711.0,473.0 713.3,473.2 715.8,457.7 713.5,457.4" fill="#5500a5" stroke="#5500a5" stroke-width="0.6"/>
<polygon points="707.7,485.8 710.0,486.1 713.3,473.2 711.0,473.0" fill="#4a0080" stroke="#4a0080" stroke-width="0.6"/>
<polygon points="704.4,493.2 706.7,493.7 710.0,486.1 707.7,485.8" fill="#410064" stroke="#410064" stroke-width="0.6"/>
<polygon points="701.1,497.5 703.4,498.1 706.7,493.7 704.4,493.2" fill="#3b0053" stroke="#3b0053" stroke-width="0.6"/>
<polygon points="696.1,501.1 698.4,501.9 703.4,498.1 701.1,497.5" fill="#370049" stroke="#370049" stroke-width="0.6"/>
<polygon points="691.1,503.1 693.4,503.9 698.4,501.9 696.1,501.1" fill="#350043" stroke="#350043" stroke-width="0.6"/>
<polygon points="684.4,504.8 686.7,505.7 693.4,503.9 691.1,503.1" fill="#340041" stroke="#340041" stroke-width="0.6"/>
<polygon points="676.1,506.6 678.4,507.5 686.7,505.7 684.4,504.8" fill="#330040" stroke="#330040" stroke-width="0.6"/>
<polygon points="786.4,486.2 789.4,487.4 797.8,486.0 794.8,484.8" fill="#330040" stroke="#330040" stroke-width="0.6"/>
<polygon points="779.8,487.0 782.8,488.2 789.4,487.4 786.4,486.2" fill="#340041" stroke="#340041" stroke-width="0.6"/>
<polygon points="774.8,486.9 777.8,488.0 782.8,488.2 779.8,487.0" fill="#350044" stroke="#350044" stroke-width="0.6"/>
<polygon points="769.8,485.1 772.8,486.0 777.8,488.0 774.8,486.9" fill="#37004a" stroke="#37004a" stroke-width="0.6"/>
<polygon points="766.5,482.0 769.5,482.7 772.8,486.0 769.8,485.1" fill="#3b0055" stroke="#3b0055" stroke-width="0.6"/>
<polygon points="763.2,475.7 766.2,476.4 769.5,482.7 766.5,482.0" fill="#410065" stroke="#410065" stroke-width="0.6"/>
<polygon points="759.9,464.1 762.9,464.8 766.2,476.4 763.2,475.7" fill="#4a0082" stroke="#4a0082" stroke-width="0.6"/>
<polygon points="757.4,449.6 760.4,450.7 762.9,464.8 759.9,464.1" fill="#5600a6" stroke="#5600a6" stroke-width="0.6"/>
<polygon points="754.9,427.5 757.9,429.7 760.4,450.7 757.4,449.6" fill="#6301cf" stroke="#6301cf" stroke-width="0.6"/>
<polygon points="752.4,394.5 755.4,399.1 757.9,429.7 754.9,427.5" fill="#7402f6" stroke="#7402f6" stroke-width="0.6"/>
<polygon points="750.7,364.4 753.7,371.9 755.4,399.1 752.4,394.5" fill="#8505fd" stroke="#8505fd" stroke-width="0.6"/>
<polygon points="749.1,326.4 752.1,338.2 753.7,371.9 750.7,364.4" fill="#940ad8" stroke="#940ad8" stroke-width="0.6"/>
<polygon points="747.7,289.6 750.7,306.6 752.1,338.2 749.1,326.4" fill="#a41286" stroke="#a41286" stroke-width="0.6"/>
<polygon points="746.6,253.1 749.6,276.0 750.7,306.6 747.7,289.6" fill="#b11d1b" stroke="#b11d1b" stroke-width="0.6"/>
<polygon points="745.6,221.5 748.6,250.9 749.6,276.0 746.6,253.1" fill="#bd2a00" stroke="#bd2a00" stroke-width="0.6"/>
<polygon points="744.1,221.8 747.1,251.2 748.6,250.9 745.6,221.5" fill="#c23100" stroke="#c23100" stroke-width="0.6"/>
<polygon points="741.6,222.3 744.6,251.7 747.1,251.2 744.1,221.8" fill="#c23100" stroke="#c23100" stroke-width="0.6"/>
<polygon points="739.1,222.8 742.1,252.1 744.6,251.7 741.6,222.3" fill="#c23100" stroke="#c23100" stroke-width="0.6"/>
<polygon points="736.6,223.2 739.6,252.6 742.1,252.1 739.1,222.8" fill="#c23100" stroke="#c23100" stroke-width="0.6"/>
<polygon points="734.1,223.7 737.1,253.1 739.6,252.6 736.6,223.2" fill="#c23100" stroke="#c23100" stroke-width="0.6"/>
<polygon points="731.6,224.2 734.6,253.6 737.1,253.1 734.1,223.7" fill="#c23100" stroke="#c23100" stroke-width="0.6"/>
<polygon points="729.1,224.7 732.1,254.1 734.6,253.6 731.6,224.2" fill="#c23100" stroke="#c23100" stroke-width="0.6"/>
<polygon points="727.6,225.0 730.6,254.4 732.1,254.1 729.1,224.7" fill="#c23100" stroke="#c23100" stroke-width="0.6"/>
<polygon points="726.6,257.0 729.6,279.9 730.6,254.4 727.6,225.0" fill="#bd2a00" stroke="#bd2a00" stroke-width="0.6"/>
<polygon points="725.5,294.0 728.5,310.9 729.6,279.9 726.6,257.0" fill="#b11d1b" stroke="#b11d1b" stroke-width="0.6"/>
<polygon points="724.1,331.3 727.1,343.1 728.5,310.9 725.5,294.0" fill="#a41286" stroke="#a41286" stroke-width="0.6"/>
<polygon points="722.5,370.0 725.5,377.4 727.1,343.1 724.1,331.3" fill="#940ad8" stroke="#940ad8" stroke-width="0.6"/>
<polygon points="720.8,400.7 723.8,405.3 725.5,377.4 722.5,370.0" fill="#8505fd" stroke="#8505fd" stroke-width="0.6"/>
<polygon points="718.3,434.6 721.3,436.8 723.8,405.3 720.8,400.7" fill="#7402f6" stroke="#7402f6" stroke-width="0.6"/>
<polygon points="715.8,457.7 718.8,458.8 721.3,436.8 718.3,434.6" fill="#6301cf" stroke="#6301cf" stroke-width="0.6"/>
<polygon points="713.3,473.2 716.3,473.9 718.8,458.8 715.8,457.7" fill="#5600a6" stroke="#5600a6" stroke-width="0.6"/>
<polygon points="710.0,486.1 713.0,486.8 716.3,473.9 713.3,473.2" fill="#4a0082" stroke="#4a0082" stroke-width="0.6"/>
<polygon points="706.7,493.7 709.7,494.4 713.0,486.8 710.0,486.1" fill="#410065" stroke="#410065" stroke-width="0.6"/>
<polygon points="703.4,498.1 706.4,499.0 709.7,494.4 706.7,493.7" fill="#3b0055" stroke="#3b0055" stroke-width="0.6"/>
<polygon points="698.4,501.9 701.4,502.9 706.4,499.0 703.4,498.1" fill="#37004a" stroke="#37004a" stroke-width="0.6"/>
<polygon points="693.4,503.9 696.4,505.1 701.4,502.9 698.4,501.9" fill="#350044" stroke="#350044" stroke-width="0.6"/>
<polygon points="686.7,505.7 689.7,506.9 696.4,505.1 693.4,503.9" fill="#340041" stroke="#340041" stroke-width="0.6"/>
<polygon points="678.4,507.5 681.4,508.7 689.7,506.9 686.7,505.7" fill="#330040" stroke="#330040" stroke-width="0.6"/>
<polygon points="789.4,487.4 793.7,489.1 802.1,487.7 797.8,486.0" fill="#330040" stroke="#330040" stroke-width="0.6"/>
<polygon points="782.8,488.2 787.1,489.8 793.7,489.1 789.4,487.4" fill="#340041" stroke="#340041" stroke-width="0.6"/>
<polygon points="777.8,488.0 782.1,489.6 787.1,489.8 782.8,488.2" fill="#350044" stroke="#350044" stroke-width="0.6"/>
<polygon points="772.8,486.0 777.1,487.6 782.1,489.6 777.8,488.0" fill="#37004b" stroke="#37004b" stroke-width="0.6"/>
<polygon points="769.5,482.7 773.8,484.2 777.1,487.6 772.8,486.0" fill="#3b0055" stroke="#3b0055" stroke-width="0.6"/>
<polygon points="766.2,476.4 770.5,478.0 773.8,484.2 769.5,482.7" fill="#410066" stroke="#410066" stroke-width="0.6"/>
<polygon points="762.9,464.8 767.2,467.0 770.5,478.0 766.2,476.4" fill="#4a0082" stroke="#4a0082" stroke-width="0.6"/>
<polygon points="760.4,450.7 764.7,454.0 767.2,467.0 762.9,464.8" fill="#5500a5" stroke="#5500a5" stroke-width="0.6"/>
<polygon points="757.9,429.7 762.2,435.2 764.7,454.0 760.4,450.7" fill="#6201cc" stroke="#6201cc" stroke-width="0.6"/>
<polygon points="755.4,399.1 759.7,408.6 762.2,435.2 757.9,429.7" fill="#7202f2" stroke="#7202f2" stroke-width="0.6"/>
<polygon points="753.7,371.9 758.0,385.8 759.7,408.6 755.4,399.1" fill="#8104ff" stroke="#8104ff" stroke-width="0.6"/>
<polygon points="752.1,338.2 756.4,358.5 758.0,385.8 753.7,371.9" fill="#8f08eb" stroke="#8f08eb" stroke-width="0.6"/>
<polygon points="750.7,306.6 755.0,333.7 756.4,358.5 752.1,338.2" fill="#9c0eb4" stroke="#9c0eb4" stroke-width="0.6"/>
<polygon points="749.6,276.0 753.9,310.7 755.0,333.7 750.7,306.6" fill="#a81568" stroke="#a81568" stroke-width="0.6"/>
<polygon points="748.6,250.9 752.9,293.0 753.9,310.7 749.6,276.0" fill="#b11d1a" stroke="#b11d1a" stroke-width="0.6"/>
<polygon points="747.1,251.2 751.4,293.3 752.9,293.0 748.6,250.9" fill="#b52100" stroke="#b52100" stroke-width="0.6"/>
<polygon points="744.6,251.7 748.9,293.8 751.4,293.3 747.1,251.2" fill="#b52100" stroke="#b52100" stroke-width="0.6"/>
<polygon points="742.1,252.1 746.4,294.3 748.9,293.8 744.6,251.7" fill="#b52100" stroke="#b52100" stroke-width="0.6"/>
<polygon points="739.6,252.6 743.9,294.8 746.4,294.3 742.1,252.1" fill="#b52100" stroke="#b52100" stroke-width="0.6"/>
<polygon points="737.1,253.1 741.4,295.3 743.9,294.8 739.6,252.6" fill="#b52100" stroke="#b52100" stroke-width="0.6"/>
<polygon points="734.6,253.6 738.9,295.7 741.4,295.3 737.1,253.1" fill="#b52100" stroke="#b52100" stroke-width="0.6"/>
<polygon points="732.1,254.1 736.4,296.2 738.9,295.7 734.6,253.6" fill="#b52100" stroke="#b52100" stroke-width="0.6"/>
<polygon points="730.6,254.4 734.9,296.5 736.4,296.2 732.1,254.1" fill="#b52100" stroke="#b52100" stroke-width="0.6"/>
<polygon points="729.6,279.9 733.9,314.6 734.9,296.5 730.6,254.4" fill="#b11d1a" stroke="#b11d1a" stroke-width="0.6"/>
<polygon points="728.5,310.9 732.8,338.0 733.9,314.6 729.6,279.9" fill="#a81568" stroke="#a81568" stroke-width="0.6"/>
<polygon points="727.1,343.1 731.4,363.4 732.8,338.0 728.5,310.9" fill="#9c0eb4" stroke="#9c0eb4" stroke-width="0.6"/>
<polygon points="725.5,377.4 729.8,391.3 731.4,363.4 727.1,343.1" fill="#8f08eb" stroke="#8f08eb" stroke-width="0.6"/>
<polygon points="723.8,405.3 728.1,414.8 729.8,391.3 725.5,377.4" fill="#8104ff" stroke="#8104ff" stroke-width="0.6"/>
<polygon points="721.3,436.8 725.6,442.3 728.1,414.8 723.8,405.3" fill="#7202f2" stroke="#7202f2" stroke-width="0.6"/>
<polygon points="718.8,458.8 723.1,462.1 725.6,442.3 721.3,436.8" fill="#6201cc" stroke="#6201cc" stroke-width="0.6"/>
<polygon points="716.3,473.9 720.6,476.1 723.1,462.1 718.8,458.8" fill="#5500a5" stroke="#5500a5" stroke-width="0.6"/>
<polygon points="713.0,486.8 717.3,488.4 720.6,476.1 716.3,473.9" fill="#4a0082" stroke="#4a0082" stroke-width="0.6"/>
<polygon points="709.7,494.4 714.0,495.9 717.3,488.4 713.0,486.8" fill="#410066" stroke="#410066" stroke-width="0.6"/>
<polygon points="706.4,499.0 710.7,500.6 714.0,495.9 709.7,494.4" fill="#3b0055" stroke="#3b0055" stroke-width="0.6"/>
<polygon points="701.4,502.9 705.7,504.5 710.7,500.6 706.4,499.0" fill="#37004b" stroke="#37004b" stroke-width="0.6"/>
<polygon points="696.4,505.1 700.7,506.7 705.7,504.5 701.4,502.9" fill="#350044" stroke="#350044" stroke-width="0.6"/>
<polygon points="689.7,506.9 694.0,508.6 700.7,506.7 696.4,505.1" fill="#340041" stroke="#340041" stroke-width="0.6"/>
<polygon points="681.4,508.7 685.7,510.4 694.0,508.6 689.7,506.9" fill="#330040" stroke="#330040" stroke-width="0.6"/>
<polygon points="802.1,487.7 806.8,489.5 815.1,488.0 810.4,486.1" fill="#330040" stroke="#330040" stroke-width="0.6"/>
<polygon points="793.7,489.1 798.4,490.9 806.8,489.5 802.1,487.7" fill="#330040" stroke="#330040" stroke-width="0.6"/>
<polygon points="787.1,489.8 791.8,491.5 798.4,490.9 793.7,489.1" fill="#340041" stroke="#340041" stroke-width="0.6"/>
<polygon points="782.1,489.6 786.8,491.1 791.8,491.5 787.1,489.8" fill="#350044" stroke="#350044" stroke-width="0.6"/>
<polygon points="777.1,487.6 781.8,488.7 786.8,491.1 782.1,489.6" fill="#38004c" stroke="#38004c" stroke-width="0.6"/>
<polygon points="773.8,484.2 778.5,485.0 781.8,488.7 777.1,487.6" fill="#3c0057" stroke="#3c0057" stroke-width="0.6"/>
<polygon points="770.5,478.0 775.2,478.3 778.5,485.0 773.8,484.2" fill="#420069" stroke="#420069" stroke-width="0.6"/>
<polygon points="767.2,467.0 771.9,466.9 775.2,478.3 770.5,478.0" fill="#4b0084" stroke="#4b0084" stroke-width="0.6"/>
<polygon points="764.7,454.0 769.4,453.7 771.9,466.9 767.2,467.0" fill="#5600a7" stroke="#5600a7" stroke-width="0.6"/>
<polygon points="762.2,435.2 766.9,435.3 769.4,453.7 764.7,454.0" fill="#6201cc" stroke="#6201cc" stroke-width="0.6"/>
<polygon points="759.7,408.6 764.4,410.2 766.9,435.3 762.2,435.2" fill="#7002f0" stroke="#7002f0" stroke-width="0.6"/>
<polygon points="758.0,385.8 762.7,389.4 764.4,410.2 759.7,408.6" fill="#7e04ff" stroke="#7e04ff" stroke-width="0.6"/>
<polygon points="756.4,358.5 761.1,365.3 762.7,389.4 758.0,385.8" fill="#8a07f5" stroke="#8a07f5" stroke-width="0.6"/>
<polygon points="755.0,333.7 759.7,344.2 761.1,365.3 756.4,358.5" fill="#960bd2" stroke="#960bd2" stroke-width="0.6"/>
<polygon points="753.9,310.7 758.6,325.5 759.7,344.2 755.0,333.7" fill="#a00fa0" stroke="#a00fa0" stroke-width="0.6"/>
<polygon points="752.9,293.0 757.6,312.0 758.6,325.5 753.9,310.7" fill="#a7146d" stroke="#a7146d" stroke-width="0.6"/>
<polygon points="751.4,293.3 756.1,312.3 757.6,312.0 752.9,293.0" fill="#aa1754" stroke="#aa1754" stroke-width="0.6"/>
<polygon points="748.9,293.8 753.6,312.8 756.1,312.3 751.4,293.3" fill="#aa1754" stroke="#aa1754" stroke-width="0.6"/>
<polygon points="746.4,294.3 751.1,313.3 753.6,312.8 748.9,293.8" fill="#aa1754" stroke="#aa1754" stroke-width="0.6"/>
<polygon points="743.9,294.8 748.6,313.8 751.1,313.3 746.4,294.3" fill="#aa1754" stroke="#aa1754" stroke-width="0.6"/>
<polygon points="741.4,295.3 746.1,314.3 748.6,313.8 743.9,294.8" fill="#aa1754" stroke="#aa1754" stroke-width="0.6"/>
<polygon points="738.9,295.7 743.6,314.8 746.1,314.3 741.4,295.3" fill="#aa1754" stroke="#aa1754" stroke-width="0.6"/>
<polygon points="736.4,296.2 741.1,315.3 743.6,314.8 738.9,295.7" fill="#aa1754" stroke="#aa1754" stroke-width="0.6"/>
<polygon points="734.9,296.5 739.6,315.5 741.1,315.3 736.4,296.2" fill="#aa1754" stroke="#aa1754" stroke-width="0.6"/>
<polygon points="733.9,314.6 738.6,329.4 739.6,315.5 734.9,296.5" fill="#a7146d" stroke="#a7146d" stroke-width="0.6"/>
<polygon points="732.8,338.0 737.5,348.5 738.6,329.4 733.9,314.6" fill="#a00fa0" stroke="#a00fa0" stroke-width="0.6"/>
<polygon points="731.4,363.4 736.1,370.2 737.5,348.5 732.8,338.0" fill="#960bd2" stroke="#960bd2" stroke-width="0.6"/>
<polygon points="729.8,391.3 734.5,394.9 736.1,370.2 731.4,363.4" fill="#8a07f5" stroke="#8a07f5" stroke-width="0.6"/>
<polygon points="728.1,414.8 732.8,416.4 734.5,394.9 729.8,391.3" fill="#7e04ff" stroke="#7e04ff" stroke-width="0.6"/>
<polygon points="725.6,442.3 730.3,442.4 732.8,416.4 728.1,414.8" fill="#7002f0" stroke="#7002f0" stroke-width="0.6"/>
<polygon points="723.1,462.1 727.8,461.8 730.3,442.4 725.6,442.3" fill="#6201cc" stroke="#6201cc" stroke-width="0.6"/>
<polygon points="720.6,476.1 725.3,476.0 727.8,461.8 723.1,462.1" fill="#5600a7" stroke="#5600a7" stroke-width="0.6"/>
<polygon points="717.3,488.4 722.0,488.7 725.3,476.0 720.6,476.1" fill="#4b0084" stroke="#4b0084" stroke-width="0.6"/>
<polygon points="714.0,495.9 718.7,496.7 722.0,488.7 717.3,488.4" fill="#420069" stroke="#420069" stroke-width="0.6"/>
<polygon points="710.7,500.6 715.4,501.7 718.7,496.7 714.0,495.9" fill="#3c0057" stroke="#3c0057" stroke-width="0.6"/>
<polygon points="705.7,504.5 710.4,506.0 715.4,501.7 710.7,500.6" fill="#38004c" stroke="#38004c" stroke-width="0.6"/>
<polygon points="700.7,506.7 705.4,508.4 710.4,506.0 705.7,504.5" fill="#350044" stroke="#350044" stroke-width="0.6"/>
<polygon points="694.0,508.6 698.7,510.4 705.4,508.4 700.7,506.7" fill="#340041" stroke="#340041" stroke-width="0.6"/>
<polygon points="685.7,510.4 690.4,512.3 698.7,510.4 694.0,508.6" fill="#330040" stroke="#330040" stroke-width="0.6"/>
<polygon points="677.4,512.1 682.1,514.0 690.4,512.3 685.7,510.4" fill="#330040" stroke="#330040" stroke-width="0.6"/>
<polygon points="806.8,489.5 812.5,491.8 820.9,490.3 815.1,488.0" fill="#330040" stroke="#330040" stroke-width="0.6"/>
<polygon points="798.4,490.9 804.2,493.2 812.5,491.8 806.8,489.5" fill="#330040" stroke="#330040" stroke-width="0.6"/>
<polygon points="791.8,491.5 797.6,493.7 804.2,493.2 798.4,490.9" fill="#340042" stroke="#340042" stroke-width="0.6"/>
<polygon points="786.8,491.1 792.6,493.1 797.6,493.7 791.8,491.5" fill="#350045" stroke="#350045" stroke-width="0.6"/>
<polygon points="781.8,488.7 787.6,490.4 792.6,493.1 786.8,491.1" fill="#38004d" stroke="#38004d" stroke-width="0.6"/>
<polygon points="778.5,485.0 784.3,486.3 787.6,490.4 781.8,488.7" fill="#3d005a" stroke="#3d005a" stroke-width="0.6"/>
<polygon points="775.2,478.3 781.0,479.2 784.3,486.3 778.5,485.0" fill="#43006c" stroke="#43006c" stroke-width="0.6"/>
<polygon points="771.9,466.9 777.7,467.4 781.0,479.2 775.2,478.3" fill="#4d0089" stroke="#4d0089" stroke-width="0.6"/>
<polygon points="769.4,453.7 775.2,454.4 777.7,467.4 771.9,466.9" fill="#5700ab" stroke="#5700ab" stroke-width="0.6"/>
<polygon points="766.9,435.3 772.7,436.8 775.2,454.4 769.4,453.7" fill="#6301cf" stroke="#6301cf" stroke-width="0.6"/>
<polygon points="764.4,410.2 770.2,413.9 772.7,436.8 766.9,435.3" fill="#7102f0" stroke="#7102f0" stroke-width="0.6"/>
<polygon points="762.7,389.4 768.5,395.6 770.2,413.9 764.4,410.2" fill="#7d04ff" stroke="#7d04ff" stroke-width="0.6"/>
<polygon points="761.1,365.3 766.9,375.5 768.5,395.6 762.7,389.4" fill="#8806f9" stroke="#8806f9" stroke-width="0.6"/>
<polygon points="759.7,344.2 765.5,358.7 766.9,375.5 761.1,365.3" fill="#9209e1" stroke="#9209e1" stroke-width="0.6"/>
<polygon points="758.6,325.5 764.4,344.6 765.5,358.7 759.7,344.2" fill="#9a0cbf" stroke="#9a0cbf" stroke-width="0.6"/>
<polygon points="757.6,312.0 763.4,335.5 764.4,344.6 758.6,325.5" fill="#a0109d" stroke="#a0109d" stroke-width="0.6"/>
<polygon points="756.1,312.3 761.9,335.8 763.4,335.5 757.6,312.0" fill="#a3118d" stroke="#a3118d" stroke-width="0.6"/>
<polygon points="753.6,312.8 759.4,336.3 761.9,335.8 756.1,312.3" fill="#a3118d" stroke="#a3118d" stroke-width="0.6"/>
<polygon points="751.1,313.3 756.9,336.8 759.4,336.3 753.6,312.8" fill="#a3118d" stroke="#a3118d" stroke-width="0.6"/>
<polygon points="748.6,313.8 754.4,337.3 756.9,336.8 751.1,313.3" fill="#a3118d" stroke="#a3118d" stroke-width="0.6"/>
<polygon points="746.1,314.3 751.9,337.8 754.4,337.3 748.6,313.8" fill="#a3118d" stroke="#a3118d" stroke-width="0.6"/>
<polygon points="743.6,314.8 749.4,338.2 751.9,337.8 746.1,314.3" fill="#a3118d" stroke="#a3118d" stroke-width="0.6"/>
<polygon points="741.1,315.3 746.9,338.7 749.4,338.2 743.6,314.8" fill="#a3118d" stroke="#a3118d" stroke-width="0.6"/>
<polygon points="739.6,315.5 745.4,339.0 746.9,338.7 741.1,315.3" fill="#a3118d" stroke="#a3118d" stroke-width="0.6"/>
<polygon points="738.6,329.4 744.4,348.5 745.4,339.0 739.6,315.5" fill="#a0109d" stroke="#a0109d" stroke-width="0.6"/>
<polygon points="737.5,348.5 743.3,363.0 744.4,348.5 738.6,329.4" fill="#9a0cbf" stroke="#9a0cbf" stroke-width="0.6"/>
<polygon points="736.1,370.2 741.9,380.3 743.3,363.0 737.5,348.5" fill="#9209e1" stroke="#9209e1" stroke-width="0.6"/>
<polygon points="734.5,394.9 740.3,401.2 741.9,380.3 736.1,370.2" fill="#8806f9" stroke="#8806f9" stroke-width="0.6"/>
<polygon points="732.8,416.4 738.6,420.1 740.3,401.2 734.5,394.9" fill="#7d04ff" stroke="#7d04ff" stroke-width="0.6"/>
<polygon points="730.3,442.4 736.1,443.9 738.6,420.1 732.8,416.4" fill="#7102f0" stroke="#7102f0" stroke-width="0.6"/>
<polygon points="727.8,461.8 733.6,462.5 736.1,443.9 730.3,442.4" fill="#6301cf" stroke="#6301cf" stroke-width="0.6"/>
<polygon points="725.3,476.0 731.1,476.5 733.6,462.5 727.8,461.8" fill="#5700ab" stroke="#5700ab" stroke-width="0.6"/>
<polygon points="722.0,488.7 727.8,489.6 731.1,476.5 725.3,476.0" fill="#4d0089" stroke="#4d0089" stroke-width="0.6"/>
<polygon points="718.7,496.7 724.5,498.0 727.8,489.6 722.0,488.7" fill="#43006c" stroke="#43006c" stroke-width="0.6"/>
<polygon points="715.4,501.7 721.2,503.4 724.5,498.0 718.7,496.7" fill="#3d005a" stroke="#3d005a" stroke-width="0.6"/>
<polygon points="710.4,506.0 716.2,508.1 721.2,503.4 715.4,501.7" fill="#38004d" stroke="#38004d" stroke-width="0.6"/>
<polygon points="705.4,508.4 711.2,510.6 716.2,508.1 710.4,506.0" fill="#350045" stroke="#350045" stroke-width="0.6"/>
<polygon points="698.7,510.4 704.5,512.7 711.2,510.6 705.4,508.4" fill="#340042" stroke="#340042" stroke-width="0.6"/>
<polygon points="690.4,512.3 696.2,514.6 704.5,512.7 698.7,510.4" fill="#330040" stroke="#330040" stroke-width="0.6"/>
<polygon points="682.1,514.0 687.9,516.3 696.2,514.6 690.4,512.3" fill="#330040" stroke="#330040" stroke-width="0.6"/>
<polygon points="812.5,491.8 817.7,493.9 826.1,492.3 820.9,490.3" fill="#330040" stroke="#330040" stroke-width="0.6"/>
<polygon points="804.2,493.2 809.4,495.3 817.7,493.9 812.5,491.8" fill="#330040" stroke="#330040" stroke-width="0.6"/>
<polygon points="797.6,493.7 802.8,495.7 809.4,495.3 804.2,493.2" fill="#340042" stroke="#340042" stroke-width="0.6"/>
<polygon points="792.6,493.1 797.8,494.9 802.8,495.7 797.6,493.7" fill="#360046" stroke="#360046" stroke-width="0.6"/>
<polygon points="787.6,490.4 792.8,491.9 797.8,494.9 792.6,493.1" fill="#39004f" stroke="#39004f" stroke-width="0.6"/>
<polygon points="784.3,486.3 789.5,487.5 792.8,491.9 787.6,490.4" fill="#3e005c" stroke="#3e005c" stroke-width="0.6"/>
<polygon points="781.0,479.2 786.2,480.1 789.5,487.5 784.3,486.3" fill="#450070" stroke="#450070" stroke-width="0.6"/>
<polygon points="777.7,467.4 782.9,468.2 786.2,480.1 781.0,479.2" fill="#4e008d" stroke="#4e008d" stroke-width="0.6"/>
<polygon points="775.2,454.4 780.4,455.4 782.9,468.2 777.7,467.4" fill="#5800af" stroke="#5800af" stroke-width="0.6"/>
<polygon points="772.7,436.8 777.9,438.7 780.4,455.4 775.2,454.4" fill="#6401d1" stroke="#6401d1" stroke-width="0.6"/>
<polygon points="770.2,413.9 775.4,417.8 777.9,438.7 772.7,436.8" fill="#7002ef" stroke="#7002ef" stroke-width="0.6"/>
<polygon points="768.5,395.6 773.7,401.8 775.4,417.8 770.2,413.9" fill="#7c03fe" stroke="#7c03fe" stroke-width="0.6"/>
<polygon points="766.9,375.5 772.1,384.7 773.7,401.8 768.5,395.6" fill="#8505fc" stroke="#8505fc" stroke-width="0.6"/>
<polygon points="765.5,358.7 770.7,371.1 772.1,384.7 766.9,375.5" fill="#8e08ee" stroke="#8e08ee" stroke-width="0.6"/>
<polygon points="764.4,344.6 769.6,360.3 770.7,371.1 765.5,358.7" fill="#940ad9" stroke="#940ad9" stroke-width="0.6"/>
<polygon points="763.4,335.5 768.6,353.9 769.6,360.3 764.4,344.6" fill="#990cc5" stroke="#990cc5" stroke-width="0.6"/>
<polygon points="761.9,335.8 767.1,354.2 768.6,353.9 763.4,335.5" fill="#9b0dbc" stroke="#9b0dbc" stroke-width="0.6"/>
<polygon points="759.4,336.3 764.6,354.7 767.1,354.2 761.9,335.8" fill="#9b0dbc" stroke="#9b0dbc" stroke-width="0.6"/>
<polygon points="756.9,336.8 762.1,355.2 764.6,354.7 759.4,336.3" fill="#9b0dbc" stroke="#9b0dbc" stroke-width="0.6"/>
<polygon points="754.4,337.3 759.6,355.6 762.1,355.2 756.9,336.8" fill="#9b0dbc" stroke="#9b0dbc" stroke-width="0.6"/>
<polygon points="751.9,337.8 757.1,356.1 759.6,355.6 754.4,337.3" fill="#9b0dbc" stroke="#9b0dbc" stroke-width="0.6"/>
<polygon points="749.4,338.2 754.6,356.6 757.1,356.1 751.9,337.8" fill="#9b0dbc" stroke="#9b0dbc" stroke-width="0.6"/>
<polygon points="746.9,338.7 752.1,357.1 754.6,356.6 749.4,338.2" fill="#9b0dbc" stroke="#9b0dbc" stroke-width="0.6"/>
<polygon points="745.4,339.0 750.6,357.4 752.1,357.1 746.9,338.7" fill="#9b0dbc" stroke="#9b0dbc" stroke-width="0.6"/>
<polygon points="744.4,348.5 749.6,364.2 750.6,357.4 745.4,339.0" fill="#990cc5" stroke="#990cc5" stroke-width="0.6"/>
<polygon points="743.3,363.0 748.5,375.5 749.6,364.2 744.4,348.5" fill="#940ad9" stroke="#940ad9" stroke-width="0.6"/>
<polygon points="741.9,380.3 747.1,389.6 748.5,375.5 743.3,363.0" fill="#8e08ee" stroke="#8e08ee" stroke-width="0.6"/>
<polygon points="740.3,401.2 745.5,407.3 747.1,389.6 741.9,380.3" fill="#8505fc" stroke="#8505fc" stroke-width="0.6"/>
<polygon points="738.6,420.1 743.8,424.0 745.5,407.3 740.3,401.2" fill="#7c03fe" stroke="#7c03fe" stroke-width="0.6"/>
<polygon points="736.1,443.9 741.3,445.9 743.8,424.0 738.6,420.1" fill="#7002ef" stroke="#7002ef" stroke-width="0.6"/>
<polygon points="733.6,462.5 738.8,463.6 741.3,445.9 736.1,443.9" fill="#6401d1" stroke="#6401d1" stroke-width="0.6"/>
<polygon points="731.1,476.5 736.3,477.3 738.8,463.6 733.6,462.5" fill="#5800af" stroke="#5800af" stroke-width="0.6"/>
<polygon points="727.8,489.6 733.0,490.5 736.3,477.3 731.1,476.5" fill="#4e008d" stroke="#4e008d" stroke-width="0.6"/>
<polygon points="724.5,498.0 729.7,499.2 733.0,490.5 727.8,489.6" fill="#450070" stroke="#450070" stroke-width="0.6"/>
<polygon points="721.2,503.4 726.4,504.9 729.7,499.2 724.5,498.0" fill="#3e005c" stroke="#3e005c" stroke-width="0.6"/>
<polygon points="716.2,508.1 721.4,509.9 726.4,504.9 721.2,503.4" fill="#39004f" stroke="#39004f" stroke-width="0.6"/>
<polygon points="711.2,510.6 716.4,512.6 721.4,509.9 716.2,508.1" fill="#360046" stroke="#360046" stroke-width="0.6"/>
<polygon points="704.5,512.7 709.7,514.8 716.4,512.6 711.2,510.6" fill="#340042" stroke="#340042" stroke-width="0.6"/>
<polygon points="696.2,514.6 701.4,516.7 709.7,514.8 704.5,512.7" fill="#330040" stroke="#330040" stroke-width="0.6"/>
<polygon points="687.9,516.3 693.1,518.3 701.4,516.7 696.2,514.6" fill="#330040" stroke="#330040" stroke-width="0.6"/>
<polygon points="817.7,493.9 823.4,496.2 831.8,494.6 826.1,492.3" fill="#330040" stroke="#330040" stroke-width="0.6"/>
<polygon points="809.4,495.3 815.1,497.5 823.4,496.2 817.7,493.9" fill="#330040" stroke="#330040" stroke-width="0.6"/>
<polygon points="802.8,495.7 808.5,497.9 815.1,497.5 809.4,495.3" fill="#340042" stroke="#340042" stroke-width="0.6"/>
<polygon points="797.8,494.9 803.5,496.9 808.5,497.9 802.8,495.7" fill="#360046" stroke="#360046" stroke-width="0.6"/>
<polygon points="792.8,491.9 798.5,493.7 803.5,496.9 797.8,494.9" fill="#390050" stroke="#390050" stroke-width="0.6"/>
<polygon points="789.5,487.5 795.2,489.1 798.5,493.7 792.8,491.9" fill="#3f005e" stroke="#3f005e" stroke-width="0.6"/>
<polygon points="786.2,480.1 791.9,481.5 795.2,489.1 789.5,487.5" fill="#450072" stroke="#450072" stroke-width="0.6"/>
<polygon points="782.9,468.2 788.6,469.9 791.9,481.5 786.2,480.1" fill="#4f0090" stroke="#4f0090" stroke-width="0.6"/>
<polygon points="780.4,455.4 786.1,457.8 788.6,469.9 782.9,468.2" fill="#5900b1" stroke="#5900b1" stroke-width="0.6"/>
<polygon points="777.9,438.7 783.6,442.5 786.1,457.8 780.4,455.4" fill="#6301d0" stroke="#6301d0" stroke-width="0.6"/>
<polygon points="775.4,417.8 781.1,424.1 783.6,442.5 777.9,438.7" fill="#6f02ed" stroke="#6f02ed" stroke-width="0.6"/>
<polygon points="773.7,401.8 779.4,410.6 781.1,424.1 775.4,417.8" fill="#7903fc" stroke="#7903fc" stroke-width="0.6"/>
<polygon points="772.1,384.7 777.7,396.8 779.4,410.6 773.7,401.8" fill="#8204ff" stroke="#8204ff" stroke-width="0.6"/>
<polygon points="770.7,371.1 776.4,386.2 777.7,396.8 772.1,384.7" fill="#8906f8" stroke="#8906f8" stroke-width="0.6"/>
<polygon points="769.6,360.3 775.3,378.3 776.4,386.2 770.7,371.1" fill="#8e08ed" stroke="#8e08ed" stroke-width="0.6"/>
<polygon points="768.6,353.9 774.3,374.0 775.3,378.3 769.6,360.3" fill="#9209e2" stroke="#9209e2" stroke-width="0.6"/>
<polygon points="767.1,354.2 772.8,374.3 774.3,374.0 768.6,353.9" fill="#9309de" stroke="#9309de" stroke-width="0.6"/>
<polygon points="764.6,354.7 770.3,374.8 772.8,374.3 767.1,354.2" fill="#9309de" stroke="#9309de" stroke-width="0.6"/>
<polygon points="762.1,355.2 767.8,375.3 770.3,374.8 764.6,354.7" fill="#9309de" stroke="#9309de" stroke-width="0.6"/>
<polygon points="759.6,355.6 765.3,375.8 767.8,375.3 762.1,355.2" fill="#9309de" stroke="#9309de" stroke-width="0.6"/>
<polygon points="757.1,356.1 762.8,376.3 765.3,375.8 759.6,355.6" fill="#9309de" stroke="#9309de" stroke-width="0.6"/>
<polygon points="754.6,356.6 760.3,376.8 762.8,376.3 757.1,356.1" fill="#9309de" stroke="#9309de" stroke-width="0.6"/>
<polygon points="752.1,357.1 757.8,377.2 760.3,376.8 754.6,356.6" fill="#9309de" stroke="#9309de" stroke-width="0.6"/>
<polygon points="750.6,357.4 756.3,377.5 757.8,377.2 752.1,357.1" fill="#9309de" stroke="#9309de" stroke-width="0.6"/>
<polygon points="749.6,364.2 755.3,382.2 756.3,377.5 750.6,357.4" fill="#9209e2" stroke="#9209e2" stroke-width="0.6"/>
<polygon points="748.5,375.5 754.2,390.6 755.3,382.2 749.6,364.2" fill="#8e08ed" stroke="#8e08ed" stroke-width="0.6"/>
<polygon points="747.1,389.6 752.8,401.6 754.2,390.6 748.5,375.5" fill="#8906f8" stroke="#8906f8" stroke-width="0.6"/>
<polygon points="745.5,407.3 751.2,416.1 752.8,401.6 747.1,389.6" fill="#8204ff" stroke="#8204ff" stroke-width="0.6"/>
<polygon points="743.8,424.0 749.5,430.3 751.2,416.1 745.5,407.3" fill="#7903fc" stroke="#7903fc" stroke-width="0.6"/>
<polygon points="741.3,445.9 747.0,449.6 749.5,430.3 743.8,424.0" fill="#6f02ed" stroke="#6f02ed" stroke-width="0.6"/>
<polygon points="738.8,463.6 744.5,465.9 747.0,449.6 741.3,445.9" fill="#6301d0" stroke="#6301d0" stroke-width="0.6"/>
<polygon points="736.3,477.3 742.0,479.0 744.5,465.9 738.8,463.6" fill="#5900b1" stroke="#5900b1" stroke-width="0.6"/>
<polygon points="733.0,490.5 738.7,491.9 742.0,479.0 736.3,477.3" fill="#4f0090" stroke="#4f0090" stroke-width="0.6"/>
<polygon points="729.7,499.2 735.4,500.8 738.7,491.9 733.0,490.5" fill="#450072" stroke="#450072" stroke-width="0.6"/>
<polygon points="726.4,504.9 732.1,506.7 735.4,500.8 729.7,499.2" fill="#3f005e" stroke="#3f005e" stroke-width="0.6"/>
<polygon points="721.4,509.9 727.1,511.9 732.1,506.7 726.4,504.9" fill="#390050" stroke="#390050" stroke-width="0.6"/>
<polygon points="716.4,512.6 722.1,514.8 727.1,511.9 721.4,509.9" fill="#360046" stroke="#360046" stroke-width="0.6"/>
<polygon points="709.7,514.8 715.4,517.0 722.1,514.8 716.4,512.6" fill="#340042" stroke="#340042" stroke-width="0.6"/>
<polygon points="701.4,516.7 707.1,518.9 715.4,517.0 709.7,514.8" fill="#330040" stroke="#330040" stroke-width="0.6"/>
<polygon points="693.1,518.3 698.8,520.6 707.1,518.9 701.4,516.7" fill="#330040" stroke="#330040" stroke-width="0.6"/>
<polygon points="823.4,496.2 831.7,499.5 840.1,497.9 831.8,494.6" fill="#330040" stroke="#330040" stroke-width="0.6"/>
<polygon points="815.1,497.5 823.4,500.8 831.7,499.5 823.4,496.2" fill="#330040" stroke="#330040" stroke-width="0.6"/>
<polygon points="808.5,497.9 816.8,500.9 823.4,500.8 815.1,497.5" fill="#340042" stroke="#340042" stroke-width="0.6"/>
<polygon points="803.5,496.9 811.8,499.7 816.8,500.9 808.5,497.9" fill="#360047" stroke="#360047" stroke-width="0.6"/>
<polygon points="798.5,493.7 806.8,495.8 811.8,499.7 803.5,496.9" fill="#3a0052" stroke="#3a0052" stroke-width="0.6"/>
<polygon points="795.2,489.1 803.5,490.7 806.8,495.8 798.5,493.7" fill="#400061" stroke="#400061" stroke-width="0.6"/>
<polygon points="791.9,481.5 800.2,482.6 803.5,490.7 795.2,489.1" fill="#470076" stroke="#470076" stroke-width="0.6"/>
<polygon points="788.6,469.9 796.8,470.9 800.2,482.6 791.9,481.5" fill="#500094" stroke="#500094" stroke-width="0.6"/>
<polygon points="786.1,457.8 794.4,459.2 796.8,470.9 788.6,469.9" fill="#5a00b3" stroke="#5a00b3" stroke-width="0.6"/>
<polygon points="783.6,442.5 791.9,445.2 794.4,459.2 786.1,457.8" fill="#6401d1" stroke="#6401d1" stroke-width="0.6"/>
<polygon points="781.1,424.1 789.4,429.4 791.9,445.2 783.6,442.5" fill="#6e02eb" stroke="#6e02eb" stroke-width="0.6"/>
<polygon points="779.4,410.6 787.7,418.4 789.4,429.4 781.1,424.1" fill="#7703fa" stroke="#7703fa" stroke-width="0.6"/>
<polygon points="777.7,396.8 786.0,407.8 787.7,418.4 779.4,410.6" fill="#7e04ff" stroke="#7e04ff" stroke-width="0.6"/>
<polygon points="776.4,386.2 784.7,400.2 786.0,407.8 777.7,396.8" fill="#8405fe" stroke="#8405fe" stroke-width="0.6"/>
<polygon points="775.3,378.3 783.6,394.8 784.7,400.2 776.4,386.2" fill="#8806f9" stroke="#8806f9" stroke-width="0.6"/>
<polygon points="774.3,374.0 782.6,392.4 783.6,394.8 775.3,378.3" fill="#8a07f5" stroke="#8a07f5" stroke-width="0.6"/>
<polygon points="772.8,374.3 781.1,392.6 782.6,392.4 774.3,374.0" fill="#8b07f3" stroke="#8b07f3" stroke-width="0.6"/>
<polygon points="770.3,374.8 778.6,393.1 781.1,392.6 772.8,374.3" fill="#8b07f3" stroke="#8b07f3" stroke-width="0.6"/>
<polygon points="767.8,375.3 776.1,393.6 778.6,393.1 770.3,374.8" fill="#8b07f3" stroke="#8b07f3" stroke-width="0.6"/>
<polygon points="765.3,375.8 773.6,394.1 776.1,393.6 767.8,375.3" fill="#8b07f3" stroke="#8b07f3" stroke-width="0.6"/>
<polygon points="762.8,376.3 771.1,394.6 773.6,394.1 765.3,375.8" fill="#8b07f3" stroke="#8b07f3" stroke-width="0.6"/>
<polygon points="760.3,376.8 768.6,395.1 771.1,394.6 762.8,376.3" fill="#8b07f3" stroke="#8b07f3" stroke-width="0.6"/>
<polygon points="757.8,377.2 766.1,395.6 768.6,395.1 760.3,376.8" fill="#8b07f3" stroke="#8b07f3" stroke-width="0.6"/>
<polygon points="756.3,377.5 764.6,395.9 766.1,395.6 757.8,377.2" fill="#8b07f3" stroke="#8b07f3" stroke-width="0.6"/>
<polygon points="755.3,382.2 763.6,398.7 764.6,395.9 756.3,377.5" fill="#8a07f5" stroke="#8a07f5" stroke-width="0.6"/>
<polygon points="754.2,390.6 762.5,404.5 763.6,398.7 755.3,382.2" fill="#8806f9" stroke="#8806f9" stroke-width="0.6"/>
<polygon points="752.8,401.6 761.1,412.6 762.5,404.5 754.2,390.6" fill="#8405fe" stroke="#8405fe" stroke-width="0.6"/>
<polygon points="751.2,416.1 759.5,423.9 761.1,412.6 752.8,401.6" fill="#7e04ff" stroke="#7e04ff" stroke-width="0.6"/>
<polygon points="749.5,430.3 757.8,435.6 759.5,423.9 751.2,416.1" fill="#7703fa" stroke="#7703fa" stroke-width="0.6"/>
<polygon points="747.0,449.6 755.3,452.4 757.8,435.6 749.5,430.3" fill="#6e02eb" stroke="#6e02eb" stroke-width="0.6"/>
<polygon points="744.5,465.9 752.8,467.4 755.3,452.4 747.0,449.6" fill="#6401d1" stroke="#6401d1" stroke-width="0.6"/>
<polygon points="742.0,479.0 750.3,480.0 752.8,467.4 744.5,465.9" fill="#5a00b3" stroke="#5a00b3" stroke-width="0.6"/>
<polygon points="738.7,491.9 747.0,493.0 750.3,480.0 742.0,479.0" fill="#500094" stroke="#500094" stroke-width="0.6"/>
<polygon points="735.4,500.8 743.7,502.4 747.0,493.0 738.7,491.9" fill="#470076" stroke="#470076" stroke-width="0.6"/>
<polygon points="732.1,506.7 740.4,508.8 743.7,502.4 735.4,500.8" fill="#400061" stroke="#400061" stroke-width="0.6"/>
<polygon points="727.1,511.9 735.4,514.6 740.4,508.8 732.1,506.7" fill="#3a0052" stroke="#3a0052" stroke-width="0.6"/>
<polygon points="722.1,514.8 730.4,517.8 735.4,514.6 727.1,511.9" fill="#360047" stroke="#360047" stroke-width="0.6"/>
<polygon points="715.4,517.0 723.7,520.3 730.4,517.8 722.1,514.8" fill="#340042" stroke="#340042" stroke-width="0.6"/>
<polygon points="707.1,518.9 715.4,522.2 723.7,520.3 715.4,517.0" fill="#330040" stroke="#330040" stroke-width="0.6"/>
<polygon points="698.8,520.6 707.1,523.9 715.4,522.2 707.1,518.9" fill="#330040" stroke="#330040" stroke-width="0.6"/>
<polygon points="831.7,499.5 840.7,503.1 849.0,501.5 840.1,497.9" fill="#330040" stroke="#330040" stroke-width="0.6"/>
<polygon points="823.4,500.8 832.4,504.3 840.7,503.1 831.7,499.5" fill="#330040" stroke="#330040" stroke-width="0.6"/>
<polygon points="816.8,500.9 825.8,504.3 832.4,504.3 823.4,500.8" fill="#340043" stroke="#340043" stroke-width="0.6"/>
<polygon points="811.8,499.7 820.8,502.7 825.8,504.3 816.8,500.9" fill="#370049" stroke="#370049" stroke-width="0.6"/>
<polygon points="806.8,495.8 815.8,498.4 820.8,502.7 811.8,499.7" fill="#3b0054" stroke="#3b0054" stroke-width="0.6"/>
<polygon points="803.5,490.7 812.5,493.0 815.8,498.4 806.8,495.8" fill="#410065" stroke="#410065" stroke-width="0.6"/>
<polygon points="800.2,482.6 809.2,484.9 812.5,493.0 803.5,490.7" fill="#48007b" stroke="#48007b" stroke-width="0.6"/>
<polygon points="796.8,470.9 805.8,473.6 809.2,484.9 800.2,482.6" fill="#510098" stroke="#510098" stroke-width="0.6"/>
<polygon points="794.4,459.2 803.4,463.1 805.8,473.6 796.8,470.9" fill="#5b01b6" stroke="#5b01b6" stroke-width="0.6"/>
<polygon points="791.9,445.2 800.9,451.0 803.4,463.1 794.4,459.2" fill="#6401d1" stroke="#6401d1" stroke-width="0.6"/>
<polygon points="789.4,429.4 798.4,438.2 800.9,451.0 791.9,445.2" fill="#6d02e8" stroke="#6d02e8" stroke-width="0.6"/>
<polygon points="787.7,418.4 796.7,429.7 798.4,438.2 789.4,429.4" fill="#7402f6" stroke="#7402f6" stroke-width="0.6"/>
<polygon points="786.0,407.8 795.0,422.0 796.7,429.7 787.7,418.4" fill="#7a03fd" stroke="#7a03fd" stroke-width="0.6"/>
<polygon points="784.7,400.2 793.7,416.9 795.0,422.0 786.0,407.8" fill="#7e04ff" stroke="#7e04ff" stroke-width="0.6"/>
<polygon points="783.6,394.8 792.6,413.6 793.7,416.9 784.7,400.2" fill="#8104ff" stroke="#8104ff" stroke-width="0.6"/>
<polygon points="782.6,392.4 791.6,412.2 792.6,413.6 783.6,394.8" fill="#8305fe" stroke="#8305fe" stroke-width="0.6"/>
<polygon points="781.1,392.6 790.1,412.5 791.6,412.2 782.6,392.4" fill="#8305fe" stroke="#8305fe" stroke-width="0.6"/>
<polygon points="778.6,393.1 787.6,413.0 790.1,412.5 781.1,392.6" fill="#8305fe" stroke="#8305fe" stroke-width="0.6"/>
<polygon points="776.1,393.6 785.1,413.5 787.6,413.0 778.6,393.1" fill="#8305fe" stroke="#8305fe" stroke-width="0.6"/>
<polygon points="773.6,394.1 782.6,414.0 785.1,413.5 776.1,393.6" fill="#8305fe" stroke="#8305fe" stroke-width="0.6"/>
<polygon points="771.1,394.6 780.1,414.5 782.6,414.0 773.6,394.1" fill="#8305fe" stroke="#8305fe" stroke-width="0.6"/>
<polygon points="768.6,395.1 777.6,415.0 780.1,414.5 771.1,394.6" fill="#8305fe" stroke="#8305fe" stroke-width="0.6"/>
<polygon points="766.1,395.6 775.1,415.4 777.6,415.0 768.6,395.1" fill="#8305fe" stroke="#8305fe" stroke-width="0.6"/>
<polygon points="764.6,395.9 773.6,415.7 775.1,415.4 766.1,395.6" fill="#8305fe" stroke="#8305fe" stroke-width="0.6"/>
<polygon points="763.6,398.7 772.6,417.5 773.6,415.7 764.6,395.9" fill="#8305fe" stroke="#8305fe" stroke-width="0.6"/>
<polygon points="762.5,404.5 771.4,421.2 772.6,417.5 763.6,398.7" fill="#8104ff" stroke="#8104ff" stroke-width="0.6"/>
<polygon points="761.1,412.6 770.1,426.9 771.4,421.2 762.5,404.5" fill="#7e04ff" stroke="#7e04ff" stroke-width="0.6"/>
<polygon points="759.5,423.9 768.5,435.3 770.1,426.9 761.1,412.6" fill="#7a03fd" stroke="#7a03fd" stroke-width="0.6"/>
<polygon points="757.8,435.6 766.8,444.3 768.5,435.3 759.5,423.9" fill="#7402f6" stroke="#7402f6" stroke-width="0.6"/>
<polygon points="755.3,452.4 764.3,458.2 766.8,444.3 757.8,435.6" fill="#6d02e8" stroke="#6d02e8" stroke-width="0.6"/>
<polygon points="752.8,467.4 761.8,471.2 764.3,458.2 755.3,452.4" fill="#6401d1" stroke="#6401d1" stroke-width="0.6"/>
<polygon points="750.3,480.0 759.3,482.7 761.8,471.2 752.8,467.4" fill="#5b01b6" stroke="#5b01b6" stroke-width="0.6"/>
<polygon points="747.0,493.0 756.0,495.3 759.3,482.7 750.3,480.0" fill="#510098" stroke="#510098" stroke-width="0.6"/>
<polygon points="743.7,502.4 752.7,504.7 756.0,495.3 747.0,493.0" fill="#48007b" stroke="#48007b" stroke-width="0.6"/>
<polygon points="740.4,508.8 749.3,511.4 752.7,504.7 743.7,502.4" fill="#410065" stroke="#410065" stroke-width="0.6"/>
<polygon points="735.4,514.6 744.4,517.7 749.3,511.4 740.4,508.8" fill="#3b0054" stroke="#3b0054" stroke-width="0.6"/>
<polygon points="730.4,517.8 739.4,521.2 744.4,517.7 735.4,514.6" fill="#370049" stroke="#370049" stroke-width="0.6"/>
<polygon points="723.7,520.3 732.7,523.8 739.4,521.2 730.4,517.8" fill="#340043" stroke="#340043" stroke-width="0.6"/>
<polygon points="715.4,522.2 724.4,525.8 732.7,523.8 723.7,520.3" fill="#330040" stroke="#330040" stroke-width="0.6"/>
<polygon points="707.1,523.9 716.1,527.5 724.4,525.8 715.4,522.2" fill="#330040" stroke="#330040" stroke-width="0.6"/>
<polygon points="840.7,503.1 850.7,507.0 859.0,505.5 849.0,501.5" fill="#330040" stroke="#330040" stroke-width="0.6"/>
<polygon points="832.4,504.3 842.4,508.1 850.7,507.0 840.7,503.1" fill="#330040" stroke="#330040" stroke-width="0.6"/>
<polygon points="825.8,504.3 835.8,507.8 842.4,508.1 832.4,504.3" fill="#350043" stroke="#350043" stroke-width="0.6"/>
<polygon points="820.8,502.7 830.8,505.8 835.8,507.8 825.8,504.3" fill="#37004a" stroke="#37004a" stroke-width="0.6"/>
<polygon points="815.8,498.4 825.8,500.6 830.8,505.8 820.8,502.7" fill="#3c0058" stroke="#3c0058" stroke-width="0.6"/>
<polygon points="812.5,493.0 822.5,494.7 825.8,500.6 815.8,498.4" fill="#43006a" stroke="#43006a" stroke-width="0.6"/>
<polygon points="809.2,484.9 819.2,486.2 822.5,494.7 812.5,493.0" fill="#4a0081" stroke="#4a0081" stroke-width="0.6"/>
<polygon points="805.8,473.6 815.8,475.0 819.2,486.2 809.2,484.9" fill="#53009d" stroke="#53009d" stroke-width="0.6"/>
<polygon points="803.4,463.1 813.3,465.2 815.8,475.0 805.8,473.6" fill="#5c01b9" stroke="#5c01b9" stroke-width="0.6"/>
<polygon points="800.9,451.0 810.9,454.5 813.3,465.2 803.4,463.1" fill="#6401d1" stroke="#6401d1" stroke-width="0.6"/>
<polygon points="798.4,438.2 808.4,443.9 810.9,454.5 800.9,451.0" fill="#6b01e5" stroke="#6b01e5" stroke-width="0.6"/>
<polygon points="796.7,429.7 806.7,437.3 808.4,443.9 798.4,438.2" fill="#7202f2" stroke="#7202f2" stroke-width="0.6"/>
<polygon points="795.0,422.0 805.0,431.7 806.7,437.3 796.7,429.7" fill="#7602f8" stroke="#7602f8" stroke-width="0.6"/>
<polygon points="793.7,416.9 803.7,428.2 805.0,431.7 795.0,422.0" fill="#7903fc" stroke="#7903fc" stroke-width="0.6"/>
<polygon points="792.6,413.6 802.5,426.1 803.7,428.2 793.7,416.9" fill="#7b03fe" stroke="#7b03fe" stroke-width="0.6"/>
<polygon points="791.6,412.2 801.6,425.5 802.5,426.1 792.6,413.6" fill="#7c03fe" stroke="#7c03fe" stroke-width="0.6"/>
<polygon points="790.1,412.5 800.1,425.7 801.6,425.5 791.6,412.2" fill="#7d03fe" stroke="#7d03fe" stroke-width="0.6"/>
<polygon points="787.6,413.0 797.6,426.2 800.1,425.7 790.1,412.5" fill="#7d03fe" stroke="#7d03fe" stroke-width="0.6"/>
<polygon points="785.1,413.5 795.1,426.7 797.6,426.2 787.6,413.0" fill="#7d03fe" stroke="#7d03fe" stroke-width="0.6"/>
<polygon points="782.6,414.0 792.6,427.2 795.1,426.7 785.1,413.5" fill="#7d03fe" stroke="#7d03fe" stroke-width="0.6"/>
<polygon points="780.1,414.5 790.1,427.7 792.6,427.2 782.6,414.0" fill="#7d03fe" stroke="#7d03fe" stroke-width="0.6"/>
<polygon points="777.6,415.0 787.6,428.2 790.1,427.7 780.1,414.5" fill="#7d03fe" stroke="#7d03fe" stroke-width="0.6"/>
<polygon points="775.1,415.4 785.1,428.7 787.6,428.2 777.6,415.0" fill="#7d03fe" stroke="#7d03fe" stroke-width="0.6"/>
<polygon points="773.6,415.7 783.6,429.0 785.1,428.7 775.1,415.4" fill="#7d03fe" stroke="#7d03fe" stroke-width="0.6"/>
<polygon points="772.6,417.5 782.6,430.0 783.6,429.0 773.6,415.7" fill="#7c03fe" stroke="#7c03fe" stroke-width="0.6"/>
<polygon points="771.4,421.2 781.4,432.5 782.6,430.0 772.6,417.5" fill="#7b03fe" stroke="#7b03fe" stroke-width="0.6"/>
<polygon points="770.1,426.9 780.1,436.6 781.4,432.5 771.4,421.2" fill="#7903fc" stroke="#7903fc" stroke-width="0.6"/>
<polygon points="768.5,435.3 778.5,442.9 780.1,436.6 770.1,426.9" fill="#7602f8" stroke="#7602f8" stroke-width="0.6"/>
<polygon points="766.8,444.3 776.8,450.1 778.5,442.9 768.5,435.3" fill="#7202f2" stroke="#7202f2" stroke-width="0.6"/>
<polygon points="764.3,458.2 774.3,461.7 776.8,450.1 766.8,444.3" fill="#6b01e5" stroke="#6b01e5" stroke-width="0.6"/>
<polygon points="761.8,471.2 771.8,473.3 774.3,461.7 764.3,458.2" fill="#6401d1" stroke="#6401d1" stroke-width="0.6"/>
<polygon points="759.3,482.7 769.3,484.1 771.8,473.3 761.8,471.2" fill="#5c01b9" stroke="#5c01b9" stroke-width="0.6"/>
<polygon points="756.0,495.3 766.0,496.6 769.3,484.1 759.3,482.7" fill="#53009d" stroke="#53009d" stroke-width="0.6"/>
<polygon points="752.7,504.7 762.7,506.4 766.0,496.6 756.0,495.3" fill="#4a0081" stroke="#4a0081" stroke-width="0.6"/>
<polygon points="749.3,511.4 759.3,513.6 762.7,506.4 752.7,504.7" fill="#43006a" stroke="#43006a" stroke-width="0.6"/>
<polygon points="744.4,517.7 754.4,520.7 759.3,513.6 749.3,511.4" fill="#3c0058" stroke="#3c0058" stroke-width="0.6"/>
<polygon points="739.4,521.2 749.4,524.7 754.4,520.7 744.4,517.7" fill="#37004a" stroke="#37004a" stroke-width="0.6"/>
<polygon points="732.7,523.8 742.7,527.6 749.4,524.7 739.4,521.2" fill="#350043" stroke="#350043" stroke-width="0.6"/>
<polygon points="724.4,525.8 734.4,529.8 742.7,527.6 732.7,523.8" fill="#330040" stroke="#330040" stroke-width="0.6"/>
<polygon points="716.1,527.5 726.1,531.5 734.4,529.8 724.4,525.8" fill="#330040" stroke="#330040" stroke-width="0.6"/>
<polygon points="850.7,507.0 861.8,511.4 870.1,509.9 859.0,505.5" fill="#330040" stroke="#330040" stroke-width="0.6"/>
<polygon points="842.4,508.1 853.5,512.4 861.8,511.4 850.7,507.0" fill="#340041" stroke="#340041" stroke-width="0.6"/>
<polygon points="835.8,507.8 846.9,511.7 853.5,512.4 842.4,508.1" fill="#350044" stroke="#350044" stroke-width="0.6"/>
<polygon points="830.8,505.8 841.9,509.1 846.9,511.7 835.8,507.8" fill="#38004d" stroke="#38004d" stroke-width="0.6"/>
<polygon points="825.8,500.6 836.9,503.2 841.9,509.1 830.8,505.8" fill="#3e005c" stroke="#3e005c" stroke-width="0.6"/>
<polygon points="822.5,494.7 833.6,496.9 836.9,503.2 825.8,500.6" fill="#450070" stroke="#450070" stroke-width="0.6"/>
<polygon points="819.2,486.2 830.3,488.4 833.6,496.9 822.5,494.7" fill="#4c0087" stroke="#4c0087" stroke-width="0.6"/>
<polygon points="815.8,475.0 826.9,478.0 830.3,488.4 819.2,486.2" fill="#5500a3" stroke="#5500a3" stroke-width="0.6"/>
<polygon points="813.3,465.2 824.4,469.3 826.9,478.0 815.8,475.0" fill="#5d01bc" stroke="#5d01bc" stroke-width="0.6"/>
<polygon points="810.9,454.5 822.0,460.5 824.4,469.3 813.3,465.2" fill="#6401d1" stroke="#6401d1" stroke-width="0.6"/>
<polygon points="808.4,443.9 819.5,452.3 822.0,460.5 810.9,454.5" fill="#6a01e2" stroke="#6a01e2" stroke-width="0.6"/>
<polygon points="806.7,437.3 817.8,447.5 819.5,452.3 808.4,443.9" fill="#6f02ed" stroke="#6f02ed" stroke-width="0.6"/>
<polygon points="805.0,431.7 816.1,443.7 817.8,447.5 806.7,437.3" fill="#7302f3" stroke="#7302f3" stroke-width="0.6"/>
<polygon points="803.7,428.2 814.8,441.5 816.1,443.7 805.0,431.7" fill="#7502f7" stroke="#7502f7" stroke-width="0.6"/>
<polygon points="802.5,426.1 813.6,440.4 814.8,441.5 803.7,428.2" fill="#7603f9" stroke="#7603f9" stroke-width="0.6"/>
<polygon points="801.6,425.5 812.6,440.1 813.6,440.4 802.5,426.1" fill="#7703fa" stroke="#7703fa" stroke-width="0.6"/>
<polygon points="800.1,425.7 811.2,440.4 812.6,440.1 801.6,425.5" fill="#7703fa" stroke="#7703fa" stroke-width="0.6"/>
<polygon points="797.6,426.2 808.7,440.9 811.2,440.4 800.1,425.7" fill="#7703fa" stroke="#7703fa" stroke-width="0.6"/>
<polygon points="795.1,426.7 806.2,441.4 808.7,440.9 797.6,426.2" fill="#7703fa" stroke="#7703fa" stroke-width="0.6"/>
<polygon points="792.6,427.2 803.7,441.9 806.2,441.4 795.1,426.7" fill="#7703fa" stroke="#7703fa" stroke-width="0.6"/>
<polygon points="790.1,427.7 801.2,442.4 803.7,441.9 792.6,427.2" fill="#7703fa" stroke="#7703fa" stroke-width="0.6"/>
<polygon points="787.6,428.2 798.7,442.9 801.2,442.4 790.1,427.7" fill="#7703fa" stroke="#7703fa" stroke-width="0.6"/>
<polygon points="785.1,428.7 796.2,443.3 798.7,442.9 787.6,428.2" fill="#7703fa" stroke="#7703fa" stroke-width="0.6"/>
<polygon points="783.6,429.0 794.7,443.6 796.2,443.3 785.1,428.7" fill="#7703fa" stroke="#7703fa" stroke-width="0.6"/>
<polygon points="782.6,430.0 793.7,444.3 794.7,443.6 783.6,429.0" fill="#7703fa" stroke="#7703fa" stroke-width="0.6"/>
<polygon points="781.4,432.5 792.5,445.9 793.7,444.3 782.6,430.0" fill="#7603f9" stroke="#7603f9" stroke-width="0.6"/>
<polygon points="780.1,436.6 791.2,448.6 792.5,445.9 781.4,432.5" fill="#7502f7" stroke="#7502f7" stroke-width="0.6"/>
<polygon points="778.5,442.9 789.5,453.1 791.2,448.6 780.1,436.6" fill="#7302f3" stroke="#7302f3" stroke-width="0.6"/>
<polygon points="776.8,450.1 787.9,458.4 789.5,453.1 778.5,442.9" fill="#6f02ed" stroke="#6f02ed" stroke-width="0.6"/>
<polygon points="774.3,461.7 785.4,467.7 787.9,458.4 776.8,450.1" fill="#6a01e2" stroke="#6a01e2" stroke-width="0.6"/>
<polygon points="771.8,473.3 782.9,477.4 785.4,467.7 774.3,461.7" fill="#6401d1" stroke="#6401d1" stroke-width="0.6"/>
<polygon points="769.3,484.1 780.4,487.1 782.9,477.4 771.8,473.3" fill="#5d01bc" stroke="#5d01bc" stroke-width="0.6"/>
<polygon points="766.0,496.6 777.1,498.8 780.4,487.1 769.3,484.1" fill="#5500a3" stroke="#5500a3" stroke-width="0.6"/>
<polygon points="762.7,506.4 773.8,508.6 777.1,498.8 766.0,496.6" fill="#4c0087" stroke="#4c0087" stroke-width="0.6"/>
<polygon points="759.3,513.6 770.4,516.2 773.8,508.6 762.7,506.4" fill="#450070" stroke="#450070" stroke-width="0.6"/>
<polygon points="754.4,520.7 765.5,524.1 770.4,516.2 759.3,513.6" fill="#3e005c" stroke="#3e005c" stroke-width="0.6"/>
<polygon points="749.4,524.7 760.5,528.6 765.5,524.1 754.4,520.7" fill="#38004d" stroke="#38004d" stroke-width="0.6"/>
<polygon points="742.7,527.6 753.8,531.9 760.5,528.6 749.4,524.7" fill="#350044" stroke="#350044" stroke-width="0.6"/>
<polygon points="734.4,529.8 745.5,534.2 753.8,531.9 742.7,527.6" fill="#340041" stroke="#340041" stroke-width="0.6"/>
<polygon points="726.1,531.5 737.2,535.9 745.5,534.2 734.4,529.8" fill="#330040" stroke="#330040" stroke-width="0.6"/>
<polygon points="861.8,511.4 872.7,515.7 881.0,514.2 870.1,509.9" fill="#330040" stroke="#330040" stroke-width="0.6"/>
<polygon points="853.5,512.4 864.4,516.5 872.7,515.7 861.8,511.4" fill="#340041" stroke="#340041" stroke-width="0.6"/>
<polygon points="846.9,511.7 857.8,515.4 864.4,516.5 853.5,512.4" fill="#360046" stroke="#360046" stroke-width="0.6"/>
<polygon points="841.9,509.1 852.8,512.3 857.8,515.4 846.9,511.7" fill="#39004f" stroke="#39004f" stroke-width="0.6"/>
<polygon points="836.9,503.2 847.8,505.8 852.8,512.3 841.9,509.1" fill="#3f0061" stroke="#3f0061" stroke-width="0.6"/>
<polygon points="833.6,496.9 844.5,499.3 847.8,505.8 836.9,503.2" fill="#470076" stroke="#470076" stroke-width="0.6"/>
<polygon points="830.3,488.4 841.2,491.1 844.5,499.3 833.6,496.9" fill="#4e008d" stroke="#4e008d" stroke-width="0.6"/>
<polygon points="826.9,478.0 837.8,481.6 841.2,491.1 830.3,488.4" fill="#5600a7" stroke="#5600a7" stroke-width="0.6"/>
<polygon points="824.4,469.3 835.3,474.2 837.8,481.6 826.9,478.0" fill="#5d01be" stroke="#5d01be" stroke-width="0.6"/>
<polygon points="822.0,460.5 832.8,467.1 835.3,474.2 824.4,469.3" fill="#6301cf" stroke="#6301cf" stroke-width="0.6"/>
<polygon points="819.5,452.3 830.4,460.9 832.8,467.1 822.0,460.5" fill="#6801de" stroke="#6801de" stroke-width="0.6"/>
<polygon points="817.8,447.5 828.7,457.6 830.4,460.9 819.5,452.3" fill="#6c01e7" stroke="#6c01e7" stroke-width="0.6"/>
<polygon points="816.1,443.7 827.0,455.0 828.7,457.6 817.8,447.5" fill="#6f02ec" stroke="#6f02ec" stroke-width="0.6"/>
<polygon points="814.8,441.5 825.7,453.7 827.0,455.0 816.1,443.7" fill="#7002ef" stroke="#7002ef" stroke-width="0.6"/>
<polygon points="813.6,440.4 824.5,453.1 825.7,453.7 814.8,441.5" fill="#7102f1" stroke="#7102f1" stroke-width="0.6"/>
<polygon points="812.6,440.1 823.5,453.1 824.5,453.1 813.6,440.4" fill="#7202f2" stroke="#7202f2" stroke-width="0.6"/>
<polygon points="811.2,440.4 822.0,453.4 823.5,453.1 812.6,440.1" fill="#7202f2" stroke="#7202f2" stroke-width="0.6"/>
<polygon points="808.7,440.9 819.6,453.9 822.0,453.4 811.2,440.4" fill="#7202f2" stroke="#7202f2" stroke-width="0.6"/>
<polygon points="806.2,441.4 817.1,454.4 819.6,453.9 808.7,440.9" fill="#7202f2" stroke="#7202f2" stroke-width="0.6"/>
<polygon points="803.7,441.9 814.6,454.8 817.1,454.4 806.2,441.4" fill="#7202f2" stroke="#7202f2" stroke-width="0.6"/>
<polygon points="801.2,442.4 812.1,455.3 814.6,454.8 803.7,441.9" fill="#7202f2" stroke="#7202f2" stroke-width="0.6"/>
<polygon points="798.7,442.9 809.6,455.8 812.1,455.3 801.2,442.4" fill="#7202f2" stroke="#7202f2" stroke-width="0.6"/>
<polygon points="796.2,443.3 807.1,456.3 809.6,455.8 798.7,442.9" fill="#7202f2" stroke="#7202f2" stroke-width="0.6"/>
<polygon points="794.7,443.6 805.6,456.6 807.1,456.3 796.2,443.3" fill="#7202f2" stroke="#7202f2" stroke-width="0.6"/>
<polygon points="793.7,444.3 804.6,457.0 805.6,456.6 794.7,443.6" fill="#7202f2" stroke="#7202f2" stroke-width="0.6"/>
<polygon points="792.5,445.9 803.4,458.1 804.6,457.0 793.7,444.3" fill="#7102f1" stroke="#7102f1" stroke-width="0.6"/>
<polygon points="791.2,448.6 802.1,459.9 803.4,458.1 792.5,445.9" fill="#7002ef" stroke="#7002ef" stroke-width="0.6"/>
<polygon points="789.5,453.1 800.4,463.1 802.1,459.9 791.2,448.6" fill="#6f02ec" stroke="#6f02ec" stroke-width="0.6"/>
<polygon points="787.9,458.4 798.8,467.1 800.4,463.1 789.5,453.1" fill="#6c01e7" stroke="#6c01e7" stroke-width="0.6"/>
<polygon points="785.4,467.7 796.3,474.3 798.8,467.1 787.9,458.4" fill="#6801de" stroke="#6801de" stroke-width="0.6"/>
<polygon points="782.9,477.4 793.8,482.4 796.3,474.3 785.4,467.7" fill="#6301cf" stroke="#6301cf" stroke-width="0.6"/>
<polygon points="780.4,487.1 791.3,490.7 793.8,482.4 782.9,477.4" fill="#5d01be" stroke="#5d01be" stroke-width="0.6"/>
<polygon points="777.1,498.8 788.0,501.5 791.3,490.7 780.4,487.1" fill="#5600a7" stroke="#5600a7" stroke-width="0.6"/>
<polygon points="773.8,508.6 784.7,511.0 788.0,501.5 777.1,498.8" fill="#4e008d" stroke="#4e008d" stroke-width="0.6"/>
<polygon points="770.4,516.2 781.3,518.8 784.7,511.0 773.8,508.6" fill="#470076" stroke="#470076" stroke-width="0.6"/>
<polygon points="765.5,524.1 776.4,527.2 781.3,518.8 770.4,516.2" fill="#3f0061" stroke="#3f0061" stroke-width="0.6"/>
<polygon points="760.5,528.6 771.4,532.3 776.4,527.2 765.5,524.1" fill="#39004f" stroke="#39004f" stroke-width="0.6"/>
<polygon points="753.8,531.9 764.7,536.0 771.4,532.3 760.5,528.6" fill="#360046" stroke="#360046" stroke-width="0.6"/>
<polygon points="745.5,534.2 756.4,538.5 764.7,536.0 753.8,531.9" fill="#340041" stroke="#340041" stroke-width="0.6"/>
<polygon points="737.2,535.9 748.1,540.2 756.4,538.5 745.5,534.2" fill="#330040" stroke="#330040" stroke-width="0.6"/>
<polygon points="872.7,515.7 883.4,519.9 891.7,518.5 881.0,514.2" fill="#330040" stroke="#330040" stroke-width="0.6"/>
<polygon points="864.4,516.5 875.1,520.5 883.4,519.9 872.7,515.7" fill="#340041" stroke="#340041" stroke-width="0.6"/>
<polygon points="857.8,515.4 868.5,519.0 875.1,520.5 864.4,516.5" fill="#360047" stroke="#360047" stroke-width="0.6"/>
<polygon points="852.8,512.3 863.5,515.5 868.5,519.0 857.8,515.4" fill="#3a0052" stroke="#3a0052" stroke-width="0.6"/>
<polygon points="847.8,505.8 858.5,509.1 863.5,515.5 852.8,512.3" fill="#410064" stroke="#410064" stroke-width="0.6"/>
<polygon points="844.5,499.3 855.2,502.9 858.5,509.1 847.8,505.8" fill="#48007a" stroke="#48007a" stroke-width="0.6"/>
<polygon points="841.2,491.1 851.9,495.6 855.2,502.9 844.5,499.3" fill="#4f0090" stroke="#4f0090" stroke-width="0.6"/>
<polygon points="837.8,481.6 848.5,487.5 851.9,495.6 841.2,491.1" fill="#5600a7" stroke="#5600a7" stroke-width="0.6"/>
<polygon points="835.3,474.2 846.0,481.4 848.5,487.5 837.8,481.6" fill="#5c01bb" stroke="#5c01bb" stroke-width="0.6"/>
<polygon points="832.8,467.1 843.5,475.8 846.0,481.4 835.3,474.2" fill="#6101ca" stroke="#6101ca" stroke-width="0.6"/>
<polygon points="830.4,460.9 841.1,471.1 843.5,475.8 832.8,467.1" fill="#6601d6" stroke="#6601d6" stroke-width="0.6"/>
<polygon points="828.7,457.6 839.4,468.7 841.1,471.1 830.4,460.9" fill="#6901de" stroke="#6901de" stroke-width="0.6"/>
<polygon points="827.0,455.0 837.7,466.9 839.4,468.7 828.7,457.6" fill="#6a01e3" stroke="#6a01e3" stroke-width="0.6"/>
<polygon points="825.7,453.7 836.4,466.1 837.7,466.9 827.0,455.0" fill="#6c01e6" stroke="#6c01e6" stroke-width="0.6"/>
<polygon points="824.5,453.1 835.2,465.8 836.4,466.1 825.7,453.7" fill="#6c01e7" stroke="#6c01e7" stroke-width="0.6"/>
<polygon points="823.5,453.1 834.2,465.8 835.2,465.8 824.5,453.1" fill="#6d02e8" stroke="#6d02e8" stroke-width="0.6"/>
<polygon points="822.0,453.4 832.7,466.1 834.2,465.8 823.5,453.1" fill="#6d02e8" stroke="#6d02e8" stroke-width="0.6"/>
<polygon points="819.6,453.9 830.3,466.6 832.7,466.1 822.0,453.4" fill="#6d02e8" stroke="#6d02e8" stroke-width="0.6"/>
<polygon points="817.1,454.4 827.8,467.1 830.3,466.6 819.6,453.9" fill="#6d02e8" stroke="#6d02e8" stroke-width="0.6"/>
<polygon points="814.6,454.8 825.3,467.6 827.8,467.1 817.1,454.4" fill="#6d02e8" stroke="#6d02e8" stroke-width="0.6"/>
<polygon points="812.1,455.3 822.8,468.1 825.3,467.6 814.6,454.8" fill="#6d02e8" stroke="#6d02e8" stroke-width="0.6"/>
<polygon points="809.6,455.8 820.3,468.5 822.8,468.1 812.1,455.3" fill="#6d02e8" stroke="#6d02e8" stroke-width="0.6"/>
<polygon points="807.1,456.3 817.8,469.0 820.3,468.5 809.6,455.8" fill="#6d02e8" stroke="#6d02e8" stroke-width="0.6"/>
<polygon points="805.6,456.6 816.3,469.3 817.8,469.0 807.1,456.3" fill="#6d02e8" stroke="#6d02e8" stroke-width="0.6"/>
<polygon points="804.6,457.0 815.3,469.7 816.3,469.3 805.6,456.6" fill="#6d02e8" stroke="#6d02e8" stroke-width="0.6"/>
<polygon points="803.4,458.1 814.1,470.4 815.3,469.7 804.6,457.0" fill="#6c01e7" stroke="#6c01e7" stroke-width="0.6"/>
<polygon points="802.1,459.9 812.8,471.8 814.1,470.4 803.4,458.1" fill="#6c01e6" stroke="#6c01e6" stroke-width="0.6"/>
<polygon points="800.4,463.1 811.1,474.2 812.8,471.8 802.1,459.9" fill="#6a01e3" stroke="#6a01e3" stroke-width="0.6"/>
<polygon points="798.8,467.1 809.5,477.3 811.1,474.2 800.4,463.1" fill="#6901de" stroke="#6901de" stroke-width="0.6"/>
<polygon points="796.3,474.3 807.0,483.0 809.5,477.3 798.8,467.1" fill="#6601d6" stroke="#6601d6" stroke-width="0.6"/>
<polygon points="793.8,482.4 804.5,489.5 807.0,483.0 796.3,474.3" fill="#6101ca" stroke="#6101ca" stroke-width="0.6"/>
<polygon points="791.3,490.7 802.0,496.6 804.5,489.5 793.8,482.4" fill="#5c01bb" stroke="#5c01bb" stroke-width="0.6"/>
<polygon points="788.0,501.5 798.7,506.0 802.0,496.6 791.3,490.7" fill="#5600a7" stroke="#5600a7" stroke-width="0.6"/>
<polygon points="784.7,511.0 795.4,514.6 798.7,506.0 788.0,501.5" fill="#4f0090" stroke="#4f0090" stroke-width="0.6"/>
<polygon points="781.3,518.8 792.0,522.1 795.4,514.6 784.7,511.0" fill="#48007a" stroke="#48007a" stroke-width="0.6"/>
<polygon points="776.4,527.2 787.0,530.5 792.0,522.1 781.3,518.8" fill="#410064" stroke="#410064" stroke-width="0.6"/>
<polygon points="771.4,532.3 782.1,535.9 787.0,530.5 776.4,527.2" fill="#3a0052" stroke="#3a0052" stroke-width="0.6"/>
<polygon points="764.7,536.0 775.4,540.0 782.1,535.9 771.4,532.3" fill="#360047" stroke="#360047" stroke-width="0.6"/>
<polygon points="756.4,538.5 767.1,542.7 775.4,540.0 764.7,536.0" fill="#340041" stroke="#340041" stroke-width="0.6"/>
<polygon points="748.1,540.2 758.8,544.5 767.1,542.7 756.4,538.5" fill="#330040" stroke="#330040" stroke-width="0.6"/>
<polygon points="883.4,519.9 898.7,525.8 907.0,524.5 891.7,518.5" fill="#330040" stroke="#330040" stroke-width="0.6"/>
<polygon points="875.1,520.5 890.4,526.0 898.7,525.8 883.4,519.9" fill="#340042" stroke="#340042" stroke-width="0.6"/>
<polygon points="868.5,519.0 883.8,524.1 890.4,526.0 875.1,520.5" fill="#370049" stroke="#370049" stroke-width="0.6"/>
<polygon points="863.5,515.5 878.8,520.5 883.8,524.1 868.5,519.0" fill="#3b0055" stroke="#3b0055" stroke-width="0.6"/>
<polygon points="858.5,509.1 873.8,514.5 878.8,520.5 863.5,515.5" fill="#420067" stroke="#420067" stroke-width="0.6"/>
<polygon points="855.2,502.9 870.5,509.3 873.8,514.5 858.5,509.1" fill="#48007b" stroke="#48007b" stroke-width="0.6"/>
<polygon points="851.9,495.6 867.1,503.2 870.5,509.3 855.2,502.9" fill="#4e008f" stroke="#4e008f" stroke-width="0.6"/>
<polygon points="848.5,487.5 863.8,496.8 867.1,503.2 851.9,495.6" fill="#5500a3" stroke="#5500a3" stroke-width="0.6"/>
<polygon points="846.0,481.4 861.3,492.2 863.8,496.8 848.5,487.5" fill="#5a00b4" stroke="#5a00b4" stroke-width="0.6"/>
<polygon points="843.5,475.8 858.8,488.0 861.3,492.2 846.0,481.4" fill="#5e01c1" stroke="#5e01c1" stroke-width="0.6"/>
<polygon points="841.1,471.1 856.3,484.5 858.8,488.0 843.5,475.8" fill="#6201cb" stroke="#6201cb" stroke-width="0.6"/>
<polygon points="839.4,468.7 854.7,482.8 856.3,484.5 841.1,471.1" fill="#6401d2" stroke="#6401d2" stroke-width="0.6"/>
<polygon points="837.7,466.9 853.0,481.6 854.7,482.8 839.4,468.7" fill="#6501d6" stroke="#6501d6" stroke-width="0.6"/>
<polygon points="836.4,466.1 851.7,481.0 853.0,481.6 837.7,466.9" fill="#6601d8" stroke="#6601d8" stroke-width="0.6"/>
<polygon points="835.2,465.8 850.5,480.8 851.7,481.0 836.4,466.1" fill="#6701da" stroke="#6701da" stroke-width="0.6"/>
<polygon points="834.2,465.8 849.5,480.9 850.5,480.8 835.2,465.8" fill="#6701da" stroke="#6701da" stroke-width="0.6"/>
<polygon points="832.7,466.1 848.0,481.2 849.5,480.9 834.2,465.8" fill="#6701da" stroke="#6701da" stroke-width="0.6"/>
<polygon points="830.3,466.6 845.5,481.7 848.0,481.2 832.7,466.1" fill="#6701da" stroke="#6701da" stroke-width="0.6"/>
<polygon points="827.8,467.1 843.1,482.2 845.5,481.7 830.3,466.6" fill="#6701da" stroke="#6701da" stroke-width="0.6"/>
<polygon points="825.3,467.6 840.6,482.7 843.1,482.2 827.8,467.1" fill="#6701da" stroke="#6701da" stroke-width="0.6"/>
<polygon points="822.8,468.1 838.1,483.2 840.6,482.7 825.3,467.6" fill="#6701da" stroke="#6701da" stroke-width="0.6"/>
<polygon points="820.3,468.5 835.6,483.7 838.1,483.2 822.8,468.1" fill="#6701da" stroke="#6701da" stroke-width="0.6"/>
<polygon points="817.8,469.0 833.1,484.1 835.6,483.7 820.3,468.5" fill="#6701da" stroke="#6701da" stroke-width="0.6"/>
<polygon points="816.3,469.3 831.6,484.4 833.1,484.1 817.8,469.0" fill="#6701da" stroke="#6701da" stroke-width="0.6"/>
<polygon points="815.3,469.7 830.6,484.7 831.6,484.4 816.3,469.3" fill="#6701da" stroke="#6701da" stroke-width="0.6"/>
<polygon points="814.1,470.4 829.4,485.4 830.6,484.7 815.3,469.7" fill="#6701da" stroke="#6701da" stroke-width="0.6"/>
<polygon points="812.8,471.8 828.1,486.5 829.4,485.4 814.1,470.4" fill="#6601d8" stroke="#6601d8" stroke-width="0.6"/>
<polygon points="811.1,474.2 826.4,488.3 828.1,486.5 812.8,471.8" fill="#6501d6" stroke="#6501d6" stroke-width="0.6"/>
<polygon points="809.5,477.3 824.8,490.7 826.4,488.3 811.1,474.2" fill="#6401d2" stroke="#6401d2" stroke-width="0.6"/>
<polygon points="807.0,483.0 822.3,495.1 824.8,490.7 809.5,477.3" fill="#6201cb" stroke="#6201cb" stroke-width="0.6"/>
<polygon points="804.5,489.5 819.8,500.3 822.3,495.1 807.0,483.0" fill="#5e01c1" stroke="#5e01c1" stroke-width="0.6"/>
<polygon points="802.0,496.6 817.3,505.9 819.8,500.3 804.5,489.5" fill="#5a00b4" stroke="#5a00b4" stroke-width="0.6"/>
<polygon points="798.7,506.0 814.0,513.6 817.3,505.9 802.0,496.6" fill="#5500a3" stroke="#5500a3" stroke-width="0.6"/>
<polygon points="795.4,514.6 810.7,521.0 814.0,513.6 798.7,506.0" fill="#4e008f" stroke="#4e008f" stroke-width="0.6"/>
<polygon points="792.0,522.1 807.3,527.5 810.7,521.0 795.4,514.6" fill="#48007b" stroke="#48007b" stroke-width="0.6"/>
<polygon points="787.0,530.5 802.3,535.5 807.3,527.5 792.0,522.1" fill="#420067" stroke="#420067" stroke-width="0.6"/>
<polygon points="782.1,535.9 797.4,541.0 802.3,535.5 787.0,530.5" fill="#3b0055" stroke="#3b0055" stroke-width="0.6"/>
<polygon points="775.4,540.0 790.7,545.5 797.4,541.0 782.1,535.9" fill="#370049" stroke="#370049" stroke-width="0.6"/>
<polygon points="767.1,542.7 782.4,548.6 790.7,545.5 775.4,540.0" fill="#340042" stroke="#340042" stroke-width="0.6"/>
<polygon points="758.8,544.5 774.1,550.5 782.4,548.6 767.1,542.7" fill="#330040" stroke="#330040" stroke-width="0.6"/>
<polygon points="907.0,524.5 924.0,531.2 934.0,529.4 917.0,522.7" fill="#330040" stroke="#330040" stroke-width="0.6"/>
<polygon points="898.7,525.8 915.7,532.4 924.0,531.2 907.0,524.5" fill="#330040" stroke="#330040" stroke-width="0.6"/>
<polygon points="890.4,526.0 907.4,532.2 915.7,532.4 898.7,525.8" fill="#350044" stroke="#350044" stroke-width="0.6"/>
<polygon points="883.8,524.1 900.8,530.1 907.4,532.2 890.4,526.0" fill="#38004b" stroke="#38004b" stroke-width="0.6"/>
<polygon points="878.8,520.5 895.8,526.8 900.8,530.1 883.8,524.1" fill="#3c0058" stroke="#3c0058" stroke-width="0.6"/>
<polygon points="873.8,514.5 890.8,521.8 895.8,526.8 878.8,520.5" fill="#420068" stroke="#420068" stroke-width="0.6"/>
<polygon points="870.5,509.3 887.5,517.7 890.8,521.8 873.8,514.5" fill="#48007a" stroke="#48007a" stroke-width="0.6"/>
<polygon points="867.1,503.2 884.1,513.1 887.5,517.7 870.5,509.3" fill="#4d008a" stroke="#4d008a" stroke-width="0.6"/>
<polygon points="863.8,496.8 880.8,508.4 884.1,513.1 867.1,503.2" fill="#52009b" stroke="#52009b" stroke-width="0.6"/>
<polygon points="861.3,492.2 878.3,505.1 880.8,508.4 863.8,496.8" fill="#5600a8" stroke="#5600a8" stroke-width="0.6"/>
<polygon points="858.8,488.0 875.8,502.2 878.3,505.1 861.3,492.2" fill="#5a00b3" stroke="#5a00b3" stroke-width="0.6"/>
<polygon points="856.3,484.5 873.3,499.9 875.8,502.2 858.8,488.0" fill="#5c01bb" stroke="#5c01bb" stroke-width="0.6"/>
<polygon points="854.7,482.8 871.7,498.8 873.3,499.9 856.3,484.5" fill="#5e01c1" stroke="#5e01c1" stroke-width="0.6"/>
<polygon points="853.0,481.6 870.0,498.0 871.7,498.8 854.7,482.8" fill="#5f01c4" stroke="#5f01c4" stroke-width="0.6"/>
<polygon points="851.7,481.0 868.7,497.7 870.0,498.0 853.0,481.6" fill="#6001c6" stroke="#6001c6" stroke-width="0.6"/>
<polygon points="850.5,480.8 867.5,497.6 868.7,497.7 851.7,481.0" fill="#6001c8" stroke="#6001c8" stroke-width="0.6"/>
<polygon points="849.5,480.9 866.5,497.7 867.5,497.6 850.5,480.8" fill="#6101c8" stroke="#6101c8" stroke-width="0.6"/>
<polygon points="848.0,481.2 865.0,498.0 866.5,497.7 849.5,480.9" fill="#6101c8" stroke="#6101c8" stroke-width="0.6"/>
<polygon points="845.5,481.7 862.5,498.5 865.0,498.0 848.0,481.2" fill="#6101c8" stroke="#6101c8" stroke-width="0.6"/>
<polygon points="843.1,482.2 860.0,499.0 862.5,498.5 845.5,481.7" fill="#6101c8" stroke="#6101c8" stroke-width="0.6"/>
<polygon points="840.6,482.7 857.6,499.5 860.0,499.0 843.1,482.2" fill="#6101c8" stroke="#6101c8" stroke-width="0.6"/>
<polygon points="838.1,483.2 855.1,500.0 857.6,499.5 840.6,482.7" fill="#6101c8" stroke="#6101c8" stroke-width="0.6"/>
<polygon points="835.6,483.7 852.6,500.5 855.1,500.0 838.1,483.2" fill="#6101c8" stroke="#6101c8" stroke-width="0.6"/>
<polygon points="833.1,484.1 850.1,500.9 852.6,500.5 835.6,483.7" fill="#6101c8" stroke="#6101c8" stroke-width="0.6"/>
<polygon points="831.6,484.4 848.6,501.2 850.1,500.9 833.1,484.1" fill="#6101c8" stroke="#6101c8" stroke-width="0.6"/>
<polygon points="830.6,484.7 847.6,501.5 848.6,501.2 831.6,484.4" fill="#6101c8" stroke="#6101c8" stroke-width="0.6"/>
<polygon points="829.4,485.4 846.4,502.0 847.6,501.5 830.6,484.7" fill="#6001c8" stroke="#6001c8" stroke-width="0.6"/>
<polygon points="828.1,486.5 845.1,502.9 846.4,502.0 829.4,485.4" fill="#6001c6" stroke="#6001c6" stroke-width="0.6"/>
<polygon points="826.4,488.3 843.4,504.3 845.1,502.9 828.1,486.5" fill="#5f01c4" stroke="#5f01c4" stroke-width="0.6"/>
<polygon points="824.8,490.7 841.8,506.1 843.4,504.3 826.4,488.3" fill="#5e01c1" stroke="#5e01c1" stroke-width="0.6"/>
<polygon points="822.3,495.1 839.3,509.4 841.8,506.1 824.8,490.7" fill="#5c01bb" stroke="#5c01bb" stroke-width="0.6"/>
<polygon points="819.8,500.3 836.8,513.2 839.3,509.4 822.3,495.1" fill="#5a00b3" stroke="#5a00b3" stroke-width="0.6"/>
<polygon points="817.3,505.9 834.3,517.5 836.8,513.2 819.8,500.3" fill="#5600a8" stroke="#5600a8" stroke-width="0.6"/>
<polygon points="814.0,513.6 831.0,523.5 834.3,517.5 817.3,505.9" fill="#52009b" stroke="#52009b" stroke-width="0.6"/>
<polygon points="810.7,521.0 827.6,529.4 831.0,523.5 814.0,513.6" fill="#4d008a" stroke="#4d008a" stroke-width="0.6"/>
<polygon points="807.3,527.5 824.3,534.8 827.6,529.4 810.7,521.0" fill="#48007a" stroke="#48007a" stroke-width="0.6"/>
<polygon points="802.3,535.5 819.3,541.8 824.3,534.8 807.3,527.5" fill="#420068" stroke="#420068" stroke-width="0.6"/>
<polygon points="797.4,541.0 814.4,547.0 819.3,541.8 802.3,535.5" fill="#3c0058" stroke="#3c0058" stroke-width="0.6"/>
<polygon points="790.7,545.5 807.7,551.7 814.4,547.0 797.4,541.0" fill="#38004b" stroke="#38004b" stroke-width="0.6"/>
<polygon points="782.4,548.6 799.4,555.1 807.7,551.7 790.7,545.5" fill="#350044" stroke="#350044" stroke-width="0.6"/>
<polygon points="774.1,550.5 791.1,557.2 799.4,555.1 782.4,548.6" fill="#330040" stroke="#330040" stroke-width="0.6"/>
<polygon points="764.1,552.6 781.1,559.3 791.1,557.2 774.1,550.5" fill="#330040" stroke="#330040" stroke-width="0.6"/>
<polygon points="924.0,531.2 945.0,539.4 955.0,537.7 934.0,529.4" fill="#330040" stroke="#330040" stroke-width="0.6"/>
<polygon points="915.7,532.4 936.7,540.2 945.0,539.4 924.0,531.2" fill="#340041" stroke="#340041" stroke-width="0.6"/>
<polygon points="907.4,532.2 928.4,539.6 936.7,540.2 915.7,532.4" fill="#350046" stroke="#350046" stroke-width="0.6"/>
<polygon points="900.8,530.1 921.8,537.1 928.4,539.6 907.4,532.2" fill="#39004e" stroke="#39004e" stroke-width="0.6"/>
<polygon points="895.8,526.8 916.8,533.9 921.8,537.1 900.8,530.1" fill="#3d005b" stroke="#3d005b" stroke-width="0.6"/>
<polygon points="890.8,521.8 911.8,529.4 916.8,533.9 895.8,526.8" fill="#43006a" stroke="#43006a" stroke-width="0.6"/>
<polygon points="887.5,517.7 908.5,525.9 911.8,529.4 890.8,521.8" fill="#480079" stroke="#480079" stroke-width="0.6"/>
<polygon points="884.1,513.1 905.1,522.1 908.5,525.9 887.5,517.7" fill="#4c0087" stroke="#4c0087" stroke-width="0.6"/>
<polygon points="880.8,508.4 901.8,518.5 905.1,522.1 884.1,513.1" fill="#500094" stroke="#500094" stroke-width="0.6"/>
<polygon points="878.3,505.1 899.3,516.0 901.8,518.5 880.8,508.4" fill="#53009f" stroke="#53009f" stroke-width="0.6"/>
<polygon points="875.8,502.2 896.8,513.9 899.3,516.0 878.3,505.1" fill="#5600a7" stroke="#5600a7" stroke-width="0.6"/>
<polygon points="873.3,499.9 894.3,512.2 896.8,513.9 875.8,502.2" fill="#5800ae" stroke="#5800ae" stroke-width="0.6"/>
<polygon points="871.7,498.8 892.7,511.4 894.3,512.2 873.3,499.9" fill="#5900b2" stroke="#5900b2" stroke-width="0.6"/>
<polygon points="870.0,498.0 891.0,510.9 892.7,511.4 871.7,498.8" fill="#5a01b5" stroke="#5a01b5" stroke-width="0.6"/>
<polygon points="868.7,497.7 889.7,510.8 891.0,510.9 870.0,498.0" fill="#5b01b7" stroke="#5b01b7" stroke-width="0.6"/>
<polygon points="867.5,497.6 888.5,510.8 889.7,510.8 868.7,497.7" fill="#5b01b7" stroke="#5b01b7" stroke-width="0.6"/>
<polygon points="866.5,497.7 887.5,510.9 888.5,510.8 867.5,497.6" fill="#5b01b8" stroke="#5b01b8" stroke-width="0.6"/>
<polygon points="865.0,498.0 886.0,511.2 887.5,510.9 866.5,497.7" fill="#5b01b8" stroke="#5b01b8" stroke-width="0.6"/>
<polygon points="862.5,498.5 883.5,511.7 886.0,511.2 865.0,498.0" fill="#5b01b8" stroke="#5b01b8" stroke-width="0.6"/>
<polygon points="860.0,499.0 881.0,512.2 883.5,511.7 862.5,498.5" fill="#5b01b8" stroke="#5b01b8" stroke-width="0.6"/>
<polygon points="857.6,499.5 878.5,512.7 881.0,512.2 860.0,499.0" fill="#5b01b8" stroke="#5b01b8" stroke-width="0.6"/>
<polygon points="855.1,500.0 876.1,513.2 878.5,512.7 857.6,499.5" fill="#5b01b8" stroke="#5b01b8" stroke-width="0.6"/>
<polygon points="852.6,500.5 873.6,513.6 876.1,513.2 855.1,500.0" fill="#5b01b8" stroke="#5b01b8" stroke-width="0.6"/>
<polygon points="850.1,500.9 871.1,514.1 873.6,513.6 852.6,500.5" fill="#5b01b8" stroke="#5b01b8" stroke-width="0.6"/>
<polygon points="848.6,501.2 869.6,514.4 871.1,514.1 850.1,500.9" fill="#5b01b8" stroke="#5b01b8" stroke-width="0.6"/>
<polygon points="847.6,501.5 868.6,514.7 869.6,514.4 848.6,501.2" fill="#5b01b8" stroke="#5b01b8" stroke-width="0.6"/>
<polygon points="846.4,502.0 867.4,515.1 868.6,514.7 847.6,501.5" fill="#5b01b7" stroke="#5b01b7" stroke-width="0.6"/>
<polygon points="845.1,502.9 866.1,515.8 867.4,515.1 846.4,502.0" fill="#5b01b7" stroke="#5b01b7" stroke-width="0.6"/>
<polygon points="843.4,504.3 864.4,517.0 866.1,515.8 845.1,502.9" fill="#5a01b5" stroke="#5a01b5" stroke-width="0.6"/>
<polygon points="841.8,506.1 862.8,518.4 864.4,517.0 843.4,504.3" fill="#5900b2" stroke="#5900b2" stroke-width="0.6"/>
<polygon points="839.3,509.4 860.3,521.0 862.8,518.4 841.8,506.1" fill="#5800ae" stroke="#5800ae" stroke-width="0.6"/>
<polygon points="836.8,513.2 857.8,524.1 860.3,521.0 839.3,509.4" fill="#5600a7" stroke="#5600a7" stroke-width="0.6"/>
<polygon points="834.3,517.5 855.3,527.6 857.8,524.1 836.8,513.2" fill="#53009f" stroke="#53009f" stroke-width="0.6"/>
<polygon points="831.0,523.5 852.0,532.5 855.3,527.6 834.3,517.5" fill="#500094" stroke="#500094" stroke-width="0.6"/>
<polygon points="827.6,529.4 848.6,537.6 852.0,532.5 831.0,523.5" fill="#4c0087" stroke="#4c0087" stroke-width="0.6"/>
<polygon points="824.3,534.8 845.3,542.4 848.6,537.6 827.6,529.4" fill="#480079" stroke="#480079" stroke-width="0.6"/>
<polygon points="819.3,541.8 840.3,548.8 845.3,542.4 824.3,534.8" fill="#43006a" stroke="#43006a" stroke-width="0.6"/>
<polygon points="814.4,547.0 835.3,554.0 840.3,548.8 819.3,541.8" fill="#3d005b" stroke="#3d005b" stroke-width="0.6"/>
<polygon points="807.7,551.7 828.7,559.1 835.3,554.0 814.4,547.0" fill="#39004e" stroke="#39004e" stroke-width="0.6"/>
<polygon points="799.4,555.1 820.4,563.0 828.7,559.1 807.7,551.7" fill="#350046" stroke="#350046" stroke-width="0.6"/>
<polygon points="791.1,557.2 812.1,565.4 820.4,563.0 799.4,555.1" fill="#340041" stroke="#340041" stroke-width="0.6"/>
<polygon points="781.1,559.3 802.1,567.6 812.1,565.4 791.1,557.2" fill="#330040" stroke="#330040" stroke-width="0.6"/>
<polygon points="955.0,537.7 977.0,546.4 988.6,544.3 966.6,535.5" fill="#330040" stroke="#330040" stroke-width="0.6"/>
<polygon points="945.0,539.4 967.0,547.9 977.0,546.4 955.0,537.7" fill="#330040" stroke="#330040" stroke-width="0.6"/>
<polygon points="936.7,540.2 958.7,548.3 967.0,547.9 945.0,539.4" fill="#340043" stroke="#340043" stroke-width="0.6"/>
<polygon points="928.4,539.6 950.4,547.2 958.7,548.3 936.7,540.2" fill="#360048" stroke="#360048" stroke-width="0.6"/>
<polygon points="921.8,537.1 943.7,544.7 950.4,547.2 928.4,539.6" fill="#3a0052" stroke="#3a0052" stroke-width="0.6"/>
<polygon points="916.8,533.9 938.8,541.7 943.7,544.7 921.8,537.1" fill="#3f005e" stroke="#3f005e" stroke-width="0.6"/>
<polygon points="911.8,529.4 933.8,537.9 938.8,541.7 916.8,533.9" fill="#43006c" stroke="#43006c" stroke-width="0.6"/>
<polygon points="908.5,525.9 930.5,535.2 933.8,537.9 911.8,529.4" fill="#48007a" stroke="#48007a" stroke-width="0.6"/>
<polygon points="905.1,522.1 927.1,532.3 930.5,535.2 908.5,525.9" fill="#4b0085" stroke="#4b0085" stroke-width="0.6"/>
<polygon points="901.8,518.5 923.8,529.7 927.1,532.3 905.1,522.1" fill="#4f0090" stroke="#4f0090" stroke-width="0.6"/>
<polygon points="899.3,516.0 921.3,527.9 923.8,529.7 901.8,518.5" fill="#510098" stroke="#510098" stroke-width="0.6"/>
<polygon points="896.8,513.9 918.8,526.4 921.3,527.9 899.3,516.0" fill="#53009f" stroke="#53009f" stroke-width="0.6"/>
<polygon points="894.3,512.2 916.3,525.3 918.8,526.4 896.8,513.9" fill="#5500a4" stroke="#5500a4" stroke-width="0.6"/>
<polygon points="892.7,511.4 914.7,524.8 916.3,525.3 894.3,512.2" fill="#5600a8" stroke="#5600a8" stroke-width="0.6"/>
<polygon points="891.0,510.9 913.0,524.6 914.7,524.8 892.7,511.4" fill="#5700aa" stroke="#5700aa" stroke-width="0.6"/>
<polygon points="889.7,510.8 911.7,524.5 913.0,524.6 891.0,510.9" fill="#5700ab" stroke="#5700ab" stroke-width="0.6"/>
<polygon points="888.5,510.8 910.5,524.6 911.7,524.5 889.7,510.8" fill="#5700ac" stroke="#5700ac" stroke-width="0.6"/>
<polygon points="887.5,510.9 909.5,524.7 910.5,524.6 888.5,510.8" fill="#5800ac" stroke="#5800ac" stroke-width="0.6"/>
<polygon points="886.0,511.2 908.0,525.0 909.5,524.7 887.5,510.9" fill="#5800ac" stroke="#5800ac" stroke-width="0.6"/>
<polygon points="883.5,511.7 905.5,525.5 908.0,525.0 886.0,511.2" fill="#5800ac" stroke="#5800ac" stroke-width="0.6"/>
<polygon points="881.0,512.2 903.0,526.0 905.5,525.5 883.5,511.7" fill="#5800ac" stroke="#5800ac" stroke-width="0.6"/>
<polygon points="878.5,512.7 900.5,526.5 903.0,526.0 881.0,512.2" fill="#5800ac" stroke="#5800ac" stroke-width="0.6"/>
<polygon points="876.1,513.2 898.0,527.0 900.5,526.5 878.5,512.7" fill="#5800ac" stroke="#5800ac" stroke-width="0.6"/>
<polygon points="873.6,513.6 895.6,527.4 898.0,527.0 876.1,513.2" fill="#5800ac" stroke="#5800ac" stroke-width="0.6"/>
<polygon points="871.1,514.1 893.1,527.9 895.6,527.4 873.6,513.6" fill="#5800ac" stroke="#5800ac" stroke-width="0.6"/>
<polygon points="869.6,514.4 891.6,528.2 893.1,527.9 871.1,514.1" fill="#5800ac" stroke="#5800ac" stroke-width="0.6"/>
<polygon points="868.6,514.7 890.6,528.5 891.6,528.2 869.6,514.4" fill="#5800ac" stroke="#5800ac" stroke-width="0.6"/>
<polygon points="867.4,515.1 889.4,528.8 890.6,528.5 868.6,514.7" fill="#5700ac" stroke="#5700ac" stroke-width="0.6"/>
<polygon points="866.1,515.8 888.1,529.4 889.4,528.8 867.4,515.1" fill="#5700ab" stroke="#5700ab" stroke-width="0.6"/>
<polygon points="864.4,517.0 886.4,530.4 888.1,529.4 866.1,515.8" fill="#5700aa" stroke="#5700aa" stroke-width="0.6"/>
<polygon points="862.8,518.4 884.8,531.5 886.4,530.4 864.4,517.0" fill="#5600a8" stroke="#5600a8" stroke-width="0.6"/>
<polygon points="860.3,521.0 882.3,533.6 884.8,531.5 862.8,518.4" fill="#5500a4" stroke="#5500a4" stroke-width="0.6"/>
<polygon points="857.8,524.1 879.8,536.0 882.3,533.6 860.3,521.0" fill="#53009f" stroke="#53009f" stroke-width="0.6"/>
<polygon points="855.3,527.6 877.3,538.8 879.8,536.0 857.8,524.1" fill="#510098" stroke="#510098" stroke-width="0.6"/>
<polygon points="852.0,532.5 874.0,542.7 877.3,538.8 855.3,527.6" fill="#4f0090" stroke="#4f0090" stroke-width="0.6"/>
<polygon points="848.6,537.6 870.6,546.9 874.0,542.7 852.0,532.5" fill="#4b0085" stroke="#4b0085" stroke-width="0.6"/>
<polygon points="845.3,542.4 867.3,550.9 870.6,546.9 848.6,537.6" fill="#48007a" stroke="#48007a" stroke-width="0.6"/>
<polygon points="840.3,548.8 862.3,556.7 867.3,550.9 845.3,542.4" fill="#43006c" stroke="#43006c" stroke-width="0.6"/>
<polygon points="835.3,554.0 857.3,561.6 862.3,556.7 840.3,548.8" fill="#3f005e" stroke="#3f005e" stroke-width="0.6"/>
<polygon points="828.7,559.1 850.7,566.7 857.3,561.6 835.3,554.0" fill="#3a0052" stroke="#3a0052" stroke-width="0.6"/>
<polygon points="820.4,563.0 842.4,571.1 850.7,566.7 828.7,559.1" fill="#360048" stroke="#360048" stroke-width="0.6"/>
<polygon points="812.1,565.4 834.1,573.9 842.4,571.1 820.4,563.0" fill="#340043" stroke="#340043" stroke-width="0.6"/>
<polygon points="802.1,567.6 824.1,576.3 834.1,573.9 812.1,565.4" fill="#330040" stroke="#330040" stroke-width="0.6"/>
<polygon points="790.5,570.0 812.5,578.7 824.1,576.3 802.1,567.6" fill="#330040" stroke="#330040" stroke-width="0.6"/>
<polygon points="977.0,546.4 1002.0,556.2 1013.6,554.2 988.6,544.3" fill="#330040" stroke="#330040" stroke-width="0.6"/>
<polygon points="967.0,547.9 992.0,557.2 1002.0,556.2 977.0,546.4" fill="#340041" stroke="#340041" stroke-width="0.6"/>
<polygon points="958.7,548.3 983.7,557.1 992.0,557.2 967.0,547.9" fill="#350045" stroke="#350045" stroke-width="0.6"/>
<polygon points="950.4,547.2 975.4,555.5 983.7,557.1 958.7,548.3" fill="#38004c" stroke="#38004c" stroke-width="0.6"/>
<polygon points="943.7,544.7 968.7,552.8 975.4,555.5 950.4,547.2" fill="#3c0057" stroke="#3c0057" stroke-width="0.6"/>
<polygon points="938.8,541.7 963.8,550.1 968.7,552.8 943.7,544.7" fill="#400063" stroke="#400063" stroke-width="0.6"/>
<polygon points="933.8,537.9 958.8,546.9 963.8,550.1 938.8,541.7" fill="#44006f" stroke="#44006f" stroke-width="0.6"/>
<polygon points="930.5,535.2 955.4,544.6 958.8,546.9 933.8,537.9" fill="#48007b" stroke="#48007b" stroke-width="0.6"/>
<polygon points="927.1,532.3 952.1,542.4 955.4,544.6 930.5,535.2" fill="#4b0084" stroke="#4b0084" stroke-width="0.6"/>
<polygon points="923.8,529.7 948.8,540.5 952.1,542.4 927.1,532.3" fill="#4e008c" stroke="#4e008c" stroke-width="0.6"/>
<polygon points="921.3,527.9 946.3,539.2 948.8,540.5 923.8,529.7" fill="#500093" stroke="#500093" stroke-width="0.6"/>
<polygon points="918.8,526.4 943.8,538.2 946.3,539.2 921.3,527.9" fill="#510098" stroke="#510098" stroke-width="0.6"/>
<polygon points="916.3,525.3 941.3,537.5 943.8,538.2 918.8,526.4" fill="#53009c" stroke="#53009c" stroke-width="0.6"/>
<polygon points="914.7,524.8 939.7,537.2 941.3,537.5 916.3,525.3" fill="#53009f" stroke="#53009f" stroke-width="0.6"/>
<polygon points="913.0,524.6 938.0,537.1 939.7,537.2 914.7,524.8" fill="#5400a1" stroke="#5400a1" stroke-width="0.6"/>
<polygon points="911.7,524.5 936.7,537.1 938.0,537.1 913.0,524.6" fill="#5400a2" stroke="#5400a2" stroke-width="0.6"/>
<polygon points="910.5,524.6 935.5,537.2 936.7,537.1 911.7,524.5" fill="#5400a2" stroke="#5400a2" stroke-width="0.6"/>
<polygon points="909.5,524.7 934.5,537.4 935.5,537.2 910.5,524.6" fill="#5500a2" stroke="#5500a2" stroke-width="0.6"/>
<polygon points="908.0,525.0 933.0,537.7 934.5,537.4 909.5,524.7" fill="#5500a2" stroke="#5500a2" stroke-width="0.6"/>
<polygon points="905.5,525.5 930.5,538.2 933.0,537.7 908.0,525.0" fill="#5500a2" stroke="#5500a2" stroke-width="0.6"/>
<polygon points="903.0,526.0 928.0,538.6 930.5,538.2 905.5,525.5" fill="#5500a2" stroke="#5500a2" stroke-width="0.6"/>
<polygon points="900.5,526.5 925.5,539.1 928.0,538.6 903.0,526.0" fill="#5500a2" stroke="#5500a2" stroke-width="0.6"/>
<polygon points="898.0,527.0 923.0,539.6 925.5,539.1 900.5,526.5" fill="#5500a2" stroke="#5500a2" stroke-width="0.6"/>
<polygon points="895.6,527.4 920.5,540.1 923.0,539.6 898.0,527.0" fill="#5500a2" stroke="#5500a2" stroke-width="0.6"/>
<polygon points="893.1,527.9 918.1,540.6 920.5,540.1 895.6,527.4" fill="#5500a2" stroke="#5500a2" stroke-width="0.6"/>
<polygon points="891.6,528.2 916.6,540.9 918.1,540.6 893.1,527.9" fill="#5500a2" stroke="#5500a2" stroke-width="0.6"/>
<polygon points="890.6,528.5 915.6,541.1 916.6,540.9 891.6,528.2" fill="#5500a2" stroke="#5500a2" stroke-width="0.6"/>
<polygon points="889.4,528.8 914.4,541.5 915.6,541.1 890.6,528.5" fill="#5400a2" stroke="#5400a2" stroke-width="0.6"/>
<polygon points="888.1,529.4 913.1,542.0 914.4,541.5 889.4,528.8" fill="#5400a2" stroke="#5400a2" stroke-width="0.6"/>
<polygon points="886.4,530.4 911.4,542.7 913.1,542.0 888.1,529.4" fill="#5400a1" stroke="#5400a1" stroke-width="0.6"/>
<polygon points="884.8,531.5 909.7,543.7 911.4,542.7 886.4,530.4" fill="#53009f" stroke="#53009f" stroke-width="0.6"/>
<polygon points="882.3,533.6 907.3,545.4 909.7,543.7 884.8,531.5" fill="#53009c" stroke="#53009c" stroke-width="0.6"/>
<polygon points="879.8,536.0 904.8,547.3 907.3,545.4 882.3,533.6" fill="#510098" stroke="#510098" stroke-width="0.6"/>
<polygon points="877.3,538.8 902.3,549.6 904.8,547.3 879.8,536.0" fill="#500093" stroke="#500093" stroke-width="0.6"/>
<polygon points="874.0,542.7 898.9,552.8 902.3,549.6 877.3,538.8" fill="#4e008c" stroke="#4e008c" stroke-width="0.6"/>
<polygon points="870.6,546.9 895.6,556.3 898.9,552.8 874.0,542.7" fill="#4b0084" stroke="#4b0084" stroke-width="0.6"/>
<polygon points="867.3,550.9 892.3,559.9 895.6,556.3 870.6,546.9" fill="#48007b" stroke="#48007b" stroke-width="0.6"/>
<polygon points="862.3,556.7 887.3,565.0 892.3,559.9 867.3,550.9" fill="#44006f" stroke="#44006f" stroke-width="0.6"/>
<polygon points="857.3,561.6 882.3,569.7 887.3,565.0 862.3,556.7" fill="#400063" stroke="#400063" stroke-width="0.6"/>
<polygon points="850.7,566.7 875.7,575.0 882.3,569.7 857.3,561.6" fill="#3c0057" stroke="#3c0057" stroke-width="0.6"/>
<polygon points="842.4,571.1 867.4,579.9 875.7,575.0 850.7,566.7" fill="#38004c" stroke="#38004c" stroke-width="0.6"/>
<polygon points="834.1,573.9 859.1,583.2 867.4,579.9 842.4,571.1" fill="#350045" stroke="#350045" stroke-width="0.6"/>
<polygon points="824.1,576.3 849.1,586.1 859.1,583.2 834.1,573.9" fill="#340041" stroke="#340041" stroke-width="0.6"/>
<polygon points="812.5,578.7 837.5,588.6 849.1,586.1 824.1,576.3" fill="#330040" stroke="#330040" stroke-width="0.6"/>
<polygon points="1013.6,554.2 1043.6,566.0 1058.5,563.2 1028.6,551.3" fill="#330040" stroke="#330040" stroke-width="0.6"/>
<polygon points="1002.0,556.2 1032.0,567.6 1043.6,566.0 1013.6,554.2" fill="#330041" stroke="#330041" stroke-width="0.6"/>
<polygon points="992.0,557.2 1022.0,568.2 1032.0,567.6 1002.0,556.2" fill="#350043" stroke="#350043" stroke-width="0.6"/>
<polygon points="983.7,557.1 1013.7,567.6 1022.0,568.2 992.0,557.2" fill="#360048" stroke="#360048" stroke-width="0.6"/>
<polygon points="975.4,555.5 1005.4,565.8 1013.7,567.6 983.7,557.1" fill="#3a0051" stroke="#3a0051" stroke-width="0.6"/>
<polygon points="968.7,552.8 998.7,563.3 1005.4,565.8 975.4,555.5" fill="#3e005c" stroke="#3e005c" stroke-width="0.6"/>
<polygon points="963.8,550.1 993.7,561.0 998.7,563.3 968.7,552.8" fill="#420067" stroke="#420067" stroke-width="0.6"/>
<polygon points="958.8,546.9 988.8,558.5 993.7,561.0 963.8,550.1" fill="#450072" stroke="#450072" stroke-width="0.6"/>
<polygon points="955.4,544.6 985.4,556.9 988.8,558.5 958.8,546.9" fill="#48007c" stroke="#48007c" stroke-width="0.6"/>
<polygon points="952.1,542.4 982.1,555.4 985.4,556.9 955.4,544.6" fill="#4b0083" stroke="#4b0083" stroke-width="0.6"/>
<polygon points="948.8,540.5 978.8,554.1 982.1,555.4 952.1,542.4" fill="#4d008a" stroke="#4d008a" stroke-width="0.6"/>
<polygon points="946.3,539.2 976.3,553.3 978.8,554.1 948.8,540.5" fill="#4e008f" stroke="#4e008f" stroke-width="0.6"/>
<polygon points="943.8,538.2 973.8,552.7 976.3,553.3 946.3,539.2" fill="#500093" stroke="#500093" stroke-width="0.6"/>
<polygon points="941.3,537.5 971.3,552.3 973.8,552.7 943.8,538.2" fill="#510096" stroke="#510096" stroke-width="0.6"/>
<polygon points="939.7,537.2 969.6,552.2 971.3,552.3 941.3,537.5" fill="#510098" stroke="#510098" stroke-width="0.6"/>
<polygon points="938.0,537.1 968.0,552.2 969.6,552.2 939.7,537.2" fill="#520099" stroke="#520099" stroke-width="0.6"/>
<polygon points="936.7,537.1 966.7,552.3 968.0,552.2 938.0,537.1" fill="#52009a" stroke="#52009a" stroke-width="0.6"/>
<polygon points="935.5,537.2 965.5,552.4 966.7,552.3 936.7,537.1" fill="#52009a" stroke="#52009a" stroke-width="0.6"/>
<polygon points="934.5,537.4 964.5,552.6 965.5,552.4 935.5,537.2" fill="#52009b" stroke="#52009b" stroke-width="0.6"/>
<polygon points="933.0,537.7 963.0,552.9 964.5,552.6 934.5,537.4" fill="#52009b" stroke="#52009b" stroke-width="0.6"/>
<polygon points="930.5,538.2 960.5,553.4 963.0,552.9 933.0,537.7" fill="#52009b" stroke="#52009b" stroke-width="0.6"/>
<polygon points="928.0,538.6 958.0,553.8 960.5,553.4 930.5,538.2" fill="#52009b" stroke="#52009b" stroke-width="0.6"/>
<polygon points="925.5,539.1 955.5,554.3 958.0,553.8 928.0,538.6" fill="#52009b" stroke="#52009b" stroke-width="0.6"/>
<polygon points="923.0,539.6 953.0,554.8 955.5,554.3 925.5,539.1" fill="#52009b" stroke="#52009b" stroke-width="0.6"/>
<polygon points="920.5,540.1 950.5,555.3 953.0,554.8 923.0,539.6" fill="#52009b" stroke="#52009b" stroke-width="0.6"/>
<polygon points="918.1,540.6 948.0,555.8 950.5,555.3 920.5,540.1" fill="#52009b" stroke="#52009b" stroke-width="0.6"/>
<polygon points="916.6,540.9 946.6,556.1 948.0,555.8 918.1,540.6" fill="#52009b" stroke="#52009b" stroke-width="0.6"/>
<polygon points="915.6,541.1 945.6,556.3 946.6,556.1 916.6,540.9" fill="#52009b" stroke="#52009b" stroke-width="0.6"/>
<polygon points="914.4,541.5 944.4,556.6 945.6,556.3 915.6,541.1" fill="#52009a" stroke="#52009a" stroke-width="0.6"/>
<polygon points="913.1,542.0 943.1,557.0 944.4,556.6 914.4,541.5" fill="#52009a" stroke="#52009a" stroke-width="0.6"/>
<polygon points="911.4,542.7 941.4,557.7 943.1,557.0 913.1,542.0" fill="#520099" stroke="#520099" stroke-width="0.6"/>
<polygon points="909.7,543.7 939.7,558.5 941.4,557.7 911.4,542.7" fill="#510098" stroke="#510098" stroke-width="0.6"/>
<polygon points="907.3,545.4 937.2,559.8 939.7,558.5 909.7,543.7" fill="#510096" stroke="#510096" stroke-width="0.6"/>
<polygon points="904.8,547.3 934.8,561.4 937.2,559.8 907.3,545.4" fill="#500093" stroke="#500093" stroke-width="0.6"/>
<polygon points="902.3,549.6 932.3,563.2 934.8,561.4 904.8,547.3" fill="#4e008f" stroke="#4e008f" stroke-width="0.6"/>
<polygon points="898.9,552.8 928.9,565.8 932.3,563.2 902.3,549.6" fill="#4d008a" stroke="#4d008a" stroke-width="0.6"/>
<polygon points="895.6,556.3 925.6,568.6 928.9,565.8 898.9,552.8" fill="#4b0083" stroke="#4b0083" stroke-width="0.6"/>
<polygon points="892.3,559.9 922.3,571.5 925.6,568.6 895.6,556.3" fill="#48007c" stroke="#48007c" stroke-width="0.6"/>
<polygon points="887.3,565.0 917.3,576.0 922.3,571.5 892.3,559.9" fill="#450072" stroke="#450072" stroke-width="0.6"/>
<polygon points="882.3,569.7 912.3,580.2 917.3,576.0 887.3,565.0" fill="#420067" stroke="#420067" stroke-width="0.6"/>
<polygon points="875.7,575.0 905.7,585.3 912.3,580.2 882.3,569.7" fill="#3e005c" stroke="#3e005c" stroke-width="0.6"/>
<polygon points="867.4,579.9 897.4,590.4 905.7,585.3 875.7,575.0" fill="#3a0051" stroke="#3a0051" stroke-width="0.6"/>
<polygon points="859.1,583.2 889.1,594.2 897.4,590.4 867.4,579.9" fill="#360048" stroke="#360048" stroke-width="0.6"/>
<polygon points="849.1,586.1 879.1,597.5 889.1,594.2 859.1,583.2" fill="#350043" stroke="#350043" stroke-width="0.6"/>
<polygon points="837.5,588.6 867.5,600.4 879.1,597.5 849.1,586.1" fill="#330041" stroke="#330041" stroke-width="0.6"/>
<polygon points="822.5,591.6 852.5,603.5 867.5,600.4 837.5,588.6" fill="#330040" stroke="#330040" stroke-width="0.6"/>
<polygon points="1058.5,563.2 1094.5,577.5 1111.2,574.3 1075.2,560.0" fill="#330040" stroke="#330040" stroke-width="0.6"/>
<polygon points="1043.6,566.0 1079.6,579.9 1094.5,577.5 1058.5,563.2" fill="#330040" stroke="#330040" stroke-width="0.6"/>
<polygon points="1032.0,567.6 1067.9,581.0 1079.6,579.9 1043.6,566.0" fill="#340042" stroke="#340042" stroke-width="0.6"/>
<polygon points="1022.0,568.2 1058.0,581.1 1067.9,581.0 1032.0,567.6" fill="#360046" stroke="#360046" stroke-width="0.6"/>
<polygon points="1013.7,567.6 1049.7,580.2 1058.0,581.1 1022.0,568.2" fill="#38004d" stroke="#38004d" stroke-width="0.6"/>
<polygon points="1005.4,565.8 1041.4,578.5 1049.7,580.2 1013.7,567.6" fill="#3c0056" stroke="#3c0056" stroke-width="0.6"/>
<polygon points="998.7,563.3 1034.7,576.6 1041.4,578.5 1005.4,565.8" fill="#3f0060" stroke="#3f0060" stroke-width="0.6"/>
<polygon points="993.7,561.0 1029.7,575.0 1034.7,576.6 998.7,563.3" fill="#43006a" stroke="#43006a" stroke-width="0.6"/>
<polygon points="988.8,558.5 1024.7,573.4 1029.7,575.0 993.7,561.0" fill="#460073" stroke="#460073" stroke-width="0.6"/>
<polygon points="985.4,556.9 1021.4,572.4 1024.7,573.4 988.8,558.5" fill="#48007a" stroke="#48007a" stroke-width="0.6"/>
<polygon points="982.1,555.4 1018.1,571.5 1021.4,572.4 985.4,556.9" fill="#4a0080" stroke="#4a0080" stroke-width="0.6"/>
<polygon points="978.8,554.1 1014.8,570.8 1018.1,571.5 982.1,555.4" fill="#4b0085" stroke="#4b0085" stroke-width="0.6"/>
<polygon points="976.3,553.3 1012.3,570.5 1014.8,570.8 978.8,554.1" fill="#4d0089" stroke="#4d0089" stroke-width="0.6"/>
<polygon points="973.8,552.7 1009.8,570.2 1012.3,570.5 976.3,553.3" fill="#4d008b" stroke="#4d008b" stroke-width="0.6"/>
<polygon points="971.3,552.3 1007.3,570.2 1009.8,570.2 973.8,552.7" fill="#4e008e" stroke="#4e008e" stroke-width="0.6"/>
<polygon points="969.6,552.2 1005.6,570.2 1007.3,570.2 971.3,552.3" fill="#4f008f" stroke="#4f008f" stroke-width="0.6"/>
<polygon points="968.0,552.2 1004.0,570.3 1005.6,570.2 969.6,552.2" fill="#4f0090" stroke="#4f0090" stroke-width="0.6"/>
<polygon points="966.7,552.3 1002.6,570.5 1004.0,570.3 968.0,552.2" fill="#4f0091" stroke="#4f0091" stroke-width="0.6"/>
<polygon points="965.5,552.4 1001.5,570.6 1002.6,570.5 966.7,552.3" fill="#4f0091" stroke="#4f0091" stroke-width="0.6"/>
<polygon points="964.5,552.6 1000.5,570.8 1001.5,570.6 965.5,552.4" fill="#4f0091" stroke="#4f0091" stroke-width="0.6"/>
<polygon points="963.0,552.9 999.0,571.1 1000.5,570.8 964.5,552.6" fill="#4f0091" stroke="#4f0091" stroke-width="0.6"/>
<polygon points="960.5,553.4 996.5,571.6 999.0,571.1 963.0,552.9" fill="#4f0091" stroke="#4f0091" stroke-width="0.6"/>
<polygon points="958.0,553.8 994.0,572.1 996.5,571.6 960.5,553.4" fill="#4f0091" stroke="#4f0091" stroke-width="0.6"/>
<polygon points="955.5,554.3 991.5,572.6 994.0,572.1 958.0,553.8" fill="#4f0091" stroke="#4f0091" stroke-width="0.6"/>
<polygon points="953.0,554.8 989.0,573.1 991.5,572.6 955.5,554.3" fill="#4f0091" stroke="#4f0091" stroke-width="0.6"/>
<polygon points="950.5,555.3 986.5,573.5 989.0,573.1 953.0,554.8" fill="#4f0091" stroke="#4f0091" stroke-width="0.6"/>
<polygon points="948.0,555.8 984.0,574.0 986.5,573.5 950.5,555.3" fill="#4f0091" stroke="#4f0091" stroke-width="0.6"/>
<polygon points="946.6,556.1 982.5,574.3 984.0,574.0 948.0,555.8" fill="#4f0091" stroke="#4f0091" stroke-width="0.6"/>
<polygon points="945.6,556.3 981.5,574.5 982.5,574.3 946.6,556.1" fill="#4f0091" stroke="#4f0091" stroke-width="0.6"/>
<polygon points="944.4,556.6 980.4,574.8 981.5,574.5 945.6,556.3" fill="#4f0091" stroke="#4f0091" stroke-width="0.6"/>
<polygon points="943.1,557.0 979.0,575.2 980.4,574.8 944.4,556.6" fill="#4f0091" stroke="#4f0091" stroke-width="0.6"/>
<polygon points="941.4,557.7 977.4,575.7 979.0,575.2 943.1,557.0" fill="#4f0090" stroke="#4f0090" stroke-width="0.6"/>
<polygon points="939.7,558.5 975.7,576.3 977.4,575.7 941.4,557.7" fill="#4f008f" stroke="#4f008f" stroke-width="0.6"/>
<polygon points="937.2,559.8 973.2,577.4 975.7,576.3 939.7,558.5" fill="#4e008e" stroke="#4e008e" stroke-width="0.6"/>
<polygon points="934.8,561.4 970.7,578.6 973.2,577.4 937.2,559.8" fill="#4d008b" stroke="#4d008b" stroke-width="0.6"/>
<polygon points="932.3,563.2 968.2,579.9 970.7,578.6 934.8,561.4" fill="#4d0089" stroke="#4d0089" stroke-width="0.6"/>
<polygon points="928.9,565.8 964.9,581.9 968.2,579.9 932.3,563.2" fill="#4b0085" stroke="#4b0085" stroke-width="0.6"/>
<polygon points="925.6,568.6 961.6,584.1 964.9,581.9 928.9,565.8" fill="#4a0080" stroke="#4a0080" stroke-width="0.6"/>
<polygon points="922.3,571.5 958.3,586.4 961.6,584.1 925.6,568.6" fill="#48007a" stroke="#48007a" stroke-width="0.6"/>
<polygon points="917.3,576.0 953.3,589.9 958.3,586.4 922.3,571.5" fill="#460073" stroke="#460073" stroke-width="0.6"/>
<polygon points="912.3,580.2 948.3,593.5 953.3,589.9 917.3,576.0" fill="#43006a" stroke="#43006a" stroke-width="0.6"/>
<polygon points="905.7,585.3 941.7,598.0 948.3,593.5 912.3,580.2" fill="#3f0060" stroke="#3f0060" stroke-width="0.6"/>
<polygon points="897.4,590.4 933.4,603.0 941.7,598.0 905.7,585.3" fill="#3c0056" stroke="#3c0056" stroke-width="0.6"/>
<polygon points="889.1,594.2 925.0,607.1 933.4,603.0 897.4,590.4" fill="#38004d" stroke="#38004d" stroke-width="0.6"/>
<polygon points="879.1,597.5 915.1,610.9 925.0,607.1 889.1,594.2" fill="#360046" stroke="#360046" stroke-width="0.6"/>
<polygon points="867.5,600.4 903.4,614.3 915.1,610.9 879.1,597.5" fill="#340042" stroke="#340042" stroke-width="0.6"/>
<polygon points="852.5,603.5 888.5,617.8 903.4,614.3 867.5,600.4" fill="#330040" stroke="#330040" stroke-width="0.6"/>
<polygon points="835.9,606.8 871.9,621.1 888.5,617.8 852.5,603.5" fill="#330040" stroke="#330040" stroke-width="0.6"/>
<polygon points="1111.2,574.3 1145.1,587.8 1166.7,583.7 1132.8,570.1" fill="#330040" stroke="#330040" stroke-width="0.6"/>
<polygon points="1094.5,577.5 1128.5,590.7 1145.1,587.8 1111.2,574.3" fill="#330040" stroke="#330040" stroke-width="0.6"/>
<polygon points="1079.6,579.9 1113.6,592.7 1128.5,590.7 1094.5,577.5" fill="#340042" stroke="#340042" stroke-width="0.6"/>
<polygon points="1067.9,581.0 1101.9,593.4 1113.6,592.7 1079.6,579.9" fill="#350045" stroke="#350045" stroke-width="0.6"/>
<polygon points="1058.0,581.1 1092.0,593.1 1101.9,593.4 1067.9,581.0" fill="#37004a" stroke="#37004a" stroke-width="0.6"/>
<polygon points="1049.7,580.2 1083.7,592.2 1092.0,593.1 1058.0,581.1" fill="#3a0052" stroke="#3a0052" stroke-width="0.6"/>
<polygon points="1041.4,578.5 1075.4,590.8 1083.7,592.2 1049.7,580.2" fill="#3d005b" stroke="#3d005b" stroke-width="0.6"/>
<polygon points="1034.7,576.6 1068.7,589.4 1075.4,590.8 1041.4,578.5" fill="#410064" stroke="#410064" stroke-width="0.6"/>
<polygon points="1029.7,575.0 1063.7,588.3 1068.7,589.4 1034.7,576.6" fill="#43006c" stroke="#43006c" stroke-width="0.6"/>
<polygon points="1024.7,573.4 1058.7,587.3 1063.7,588.3 1029.7,575.0" fill="#460073" stroke="#460073" stroke-width="0.6"/>
<polygon points="1021.4,572.4 1055.4,586.7 1058.7,587.3 1024.7,573.4" fill="#470078" stroke="#470078" stroke-width="0.6"/>
<polygon points="1018.1,571.5 1052.1,586.3 1055.4,586.7 1021.4,572.4" fill="#49007c" stroke="#49007c" stroke-width="0.6"/>
<polygon points="1014.8,570.8 1048.8,585.9 1052.1,586.3 1018.1,571.5" fill="#4a0080" stroke="#4a0080" stroke-width="0.6"/>
<polygon points="1012.3,570.5 1046.3,585.8 1048.8,585.9 1014.8,570.8" fill="#4b0083" stroke="#4b0083" stroke-width="0.6"/>
<polygon points="1009.8,570.2 1043.8,585.8 1046.3,585.8 1012.3,570.5" fill="#4b0085" stroke="#4b0085" stroke-width="0.6"/>
<polygon points="1007.3,570.2 1041.3,585.9 1043.8,585.8 1009.8,570.2" fill="#4c0086" stroke="#4c0086" stroke-width="0.6"/>
<polygon points="1005.6,570.2 1039.6,586.0 1041.3,585.9 1007.3,570.2" fill="#4c0087" stroke="#4c0087" stroke-width="0.6"/>
<polygon points="1004.0,570.3 1038.0,586.2 1039.6,586.0 1005.6,570.2" fill="#4c0088" stroke="#4c0088" stroke-width="0.6"/>
<polygon points="1002.6,570.5 1036.6,586.4 1038.0,586.2 1004.0,570.3" fill="#4c0088" stroke="#4c0088" stroke-width="0.6"/>
<polygon points="1001.5,570.6 1035.5,586.6 1036.6,586.4 1002.6,570.5" fill="#4c0088" stroke="#4c0088" stroke-width="0.6"/>
<polygon points="1000.5,570.8 1034.5,586.8 1035.5,586.6 1001.5,570.6" fill="#4c0088" stroke="#4c0088" stroke-width="0.6"/>
<polygon points="999.0,571.1 1033.0,587.0 1034.5,586.8 1000.5,570.8" fill="#4c0088" stroke="#4c0088" stroke-width="0.6"/>
<polygon points="996.5,571.6 1030.5,587.5 1033.0,587.0 999.0,571.1" fill="#4c0088" stroke="#4c0088" stroke-width="0.6"/>
<polygon points="994.0,572.1 1028.0,588.0 1030.5,587.5 996.5,571.6" fill="#4c0088" stroke="#4c0088" stroke-width="0.6"/>
<polygon points="991.5,572.6 1025.5,588.5 1028.0,588.0 994.0,572.1" fill="#4c0088" stroke="#4c0088" stroke-width="0.6"/>
<polygon points="989.0,573.1 1023.0,589.0 1025.5,588.5 991.5,572.6" fill="#4c0088" stroke="#4c0088" stroke-width="0.6"/>
<polygon points="986.5,573.5 1020.5,589.5 1023.0,589.0 989.0,573.1" fill="#4c0088" stroke="#4c0088" stroke-width="0.6"/>
<polygon points="984.0,574.0 1018.0,590.0 1020.5,589.5 986.5,573.5" fill="#4c0088" stroke="#4c0088" stroke-width="0.6"/>
<polygon points="982.5,574.3 1016.5,590.3 1018.0,590.0 984.0,574.0" fill="#4c0088" stroke="#4c0088" stroke-width="0.6"/>
<polygon points="981.5,574.5 1015.5,590.5 1016.5,590.3 982.5,574.3" fill="#4c0088" stroke="#4c0088" stroke-width="0.6"/>
<polygon points="980.4,574.8 1014.4,590.7 1015.5,590.5 981.5,574.5" fill="#4c0088" stroke="#4c0088" stroke-width="0.6"/>
<polygon points="979.0,575.2 1013.0,591.1 1014.4,590.7 980.4,574.8" fill="#4c0088" stroke="#4c0088" stroke-width="0.6"/>
<polygon points="977.4,575.7 1011.4,591.5 1013.0,591.1 979.0,575.2" fill="#4c0088" stroke="#4c0088" stroke-width="0.6"/>
<polygon points="975.7,576.3 1009.7,592.1 1011.4,591.5 977.4,575.7" fill="#4c0087" stroke="#4c0087" stroke-width="0.6"/>
<polygon points="973.2,577.4 1007.2,593.0 1009.7,592.1 975.7,576.3" fill="#4c0086" stroke="#4c0086" stroke-width="0.6"/>
<polygon points="970.7,578.6 1004.7,593.9 1007.2,593.0 973.2,577.4" fill="#4b0085" stroke="#4b0085" stroke-width="0.6"/>
<polygon points="968.2,579.9 1002.2,595.0 1004.7,593.9 970.7,578.6" fill="#4b0083" stroke="#4b0083" stroke-width="0.6"/>
<polygon points="964.9,581.9 998.9,596.7 1002.2,595.0 968.2,579.9" fill="#4a0080" stroke="#4a0080" stroke-width="0.6"/>
<polygon points="961.6,584.1 995.6,598.4 998.9,596.7 964.9,581.9" fill="#49007c" stroke="#49007c" stroke-width="0.6"/>
<polygon points="958.3,586.4 992.3,600.3 995.6,598.4 961.6,584.1" fill="#470078" stroke="#470078" stroke-width="0.6"/>
<polygon points="953.3,589.9 987.3,603.2 992.3,600.3 958.3,586.4" fill="#460073" stroke="#460073" stroke-width="0.6"/>
<polygon points="948.3,593.5 982.3,606.3 987.3,603.2 953.3,589.9" fill="#43006c" stroke="#43006c" stroke-width="0.6"/>
<polygon points="941.7,598.0 975.7,610.3 982.3,606.3 948.3,593.5" fill="#410064" stroke="#410064" stroke-width="0.6"/>
<polygon points="933.4,603.0 967.3,615.0 975.7,610.3 941.7,598.0" fill="#3d005b" stroke="#3d005b" stroke-width="0.6"/>
<polygon points="925.0,607.1 959.0,619.1 967.3,615.0 933.4,603.0" fill="#3a0052" stroke="#3a0052" stroke-width="0.6"/>
<polygon points="915.1,610.9 949.1,623.3 959.0,619.1 925.0,607.1" fill="#37004a" stroke="#37004a" stroke-width="0.6"/>
<polygon points="903.4,614.3 937.4,627.1 949.1,623.3 915.1,610.9" fill="#350045" stroke="#350045" stroke-width="0.6"/>
<polygon points="888.5,617.8 922.5,631.0 937.4,627.1 903.4,614.3" fill="#340042" stroke="#340042" stroke-width="0.6"/>
<polygon points="871.9,621.1 905.9,634.6 922.5,631.0 888.5,617.8" fill="#330040" stroke="#330040" stroke-width="0.6"/>
<polygon points="850.3,625.4 884.3,638.9 905.9,634.6 871.9,621.1" fill="#330040" stroke="#330040" stroke-width="0.6"/>
<polygon points="1145.1,587.8 1195.1,607.6 1216.7,603.6 1166.7,583.7" fill="#330040" stroke="#330040" stroke-width="0.6"/>
<polygon points="1128.5,590.7 1178.5,610.3 1195.1,607.6 1145.1,587.8" fill="#330041" stroke="#330041" stroke-width="0.6"/>
<polygon points="1113.6,592.7 1163.6,612.1 1178.5,610.3 1128.5,590.7" fill="#340043" stroke="#340043" stroke-width="0.6"/>
<polygon points="1101.9,593.4 1151.9,612.7 1163.6,612.1 1113.6,592.7" fill="#360047" stroke="#360047" stroke-width="0.6"/>
<polygon points="1092.0,593.1 1142.0,612.6 1151.9,612.7 1101.9,593.4" fill="#38004d" stroke="#38004d" stroke-width="0.6"/>
<polygon points="1083.7,592.2 1133.6,612.0 1142.0,612.6 1092.0,593.1" fill="#3b0054" stroke="#3b0054" stroke-width="0.6"/>
<polygon points="1075.4,590.8 1125.3,611.1 1133.6,612.0 1083.7,592.2" fill="#3e005c" stroke="#3e005c" stroke-width="0.6"/>
<polygon points="1068.7,589.4 1118.7,610.3 1125.3,611.1 1075.4,590.8" fill="#410064" stroke="#410064" stroke-width="0.6"/>
<polygon points="1063.7,588.3 1113.7,609.7 1118.7,610.3 1068.7,589.4" fill="#43006b" stroke="#43006b" stroke-width="0.6"/>
<polygon points="1058.7,587.3 1108.7,609.2 1113.7,609.7 1063.7,588.3" fill="#450070" stroke="#450070" stroke-width="0.6"/>
<polygon points="1055.4,586.7 1105.4,609.0 1108.7,609.2 1058.7,587.3" fill="#460074" stroke="#460074" stroke-width="0.6"/>
<polygon points="1052.1,586.3 1102.1,608.8 1105.4,609.0 1055.4,586.7" fill="#470077" stroke="#470077" stroke-width="0.6"/>
<polygon points="1048.8,585.9 1098.7,608.8 1102.1,608.8 1052.1,586.3" fill="#48007a" stroke="#48007a" stroke-width="0.6"/>
<polygon points="1046.3,585.8 1096.3,608.9 1098.7,608.8 1048.8,585.9" fill="#48007c" stroke="#48007c" stroke-width="0.6"/>
<polygon points="1043.8,585.8 1093.8,609.0 1096.3,608.9 1046.3,585.8" fill="#49007d" stroke="#49007d" stroke-width="0.6"/>
<polygon points="1041.3,585.9 1091.3,609.2 1093.8,609.0 1043.8,585.8" fill="#49007e" stroke="#49007e" stroke-width="0.6"/>
<polygon points="1039.6,586.0 1089.6,609.4 1091.3,609.2 1041.3,585.9" fill="#49007f" stroke="#49007f" stroke-width="0.6"/>
<polygon points="1038.0,586.2 1087.9,609.6 1089.6,609.4 1039.6,586.0" fill="#4a007f" stroke="#4a007f" stroke-width="0.6"/>
<polygon points="1036.6,586.4 1086.6,609.8 1087.9,609.6 1038.0,586.2" fill="#4a0080" stroke="#4a0080" stroke-width="0.6"/>
<polygon points="1035.5,586.6 1085.5,610.0 1086.6,609.8 1036.6,586.4" fill="#4a0080" stroke="#4a0080" stroke-width="0.6"/>
<polygon points="1034.5,586.8 1084.5,610.2 1085.5,610.0 1035.5,586.6" fill="#4a0080" stroke="#4a0080" stroke-width="0.6"/>
<polygon points="1033.0,587.0 1083.0,610.5 1084.5,610.2 1034.5,586.8" fill="#4a0080" stroke="#4a0080" stroke-width="0.6"/>
<polygon points="1030.5,587.5 1080.5,611.0 1083.0,610.5 1033.0,587.0" fill="#4a0080" stroke="#4a0080" stroke-width="0.6"/>
<polygon points="1028.0,588.0 1078.0,611.5 1080.5,611.0 1030.5,587.5" fill="#4a0080" stroke="#4a0080" stroke-width="0.6"/>
<polygon points="1025.5,588.5 1075.5,611.9 1078.0,611.5 1028.0,588.0" fill="#4a0080" stroke="#4a0080" stroke-width="0.6"/>
<polygon points="1023.0,589.0 1073.0,612.4 1075.5,611.9 1025.5,588.5" fill="#4a0080" stroke="#4a0080" stroke-width="0.6"/>
<polygon points="1020.5,589.5 1070.5,612.9 1073.0,612.4 1023.0,589.0" fill="#4a0080" stroke="#4a0080" stroke-width="0.6"/>
<polygon points="1018.0,590.0 1068.0,613.4 1070.5,612.9 1020.5,589.5" fill="#4a0080" stroke="#4a0080" stroke-width="0.6"/>
<polygon points="1016.5,590.3 1066.5,613.7 1068.0,613.4 1018.0,590.0" fill="#4a0080" stroke="#4a0080" stroke-width="0.6"/>
<polygon points="1015.5,590.5 1065.5,613.9 1066.5,613.7 1016.5,590.3" fill="#4a0080" stroke="#4a0080" stroke-width="0.6"/>
<polygon points="1014.4,590.7 1064.4,614.2 1065.5,613.9 1015.5,590.5" fill="#4a0080" stroke="#4a0080" stroke-width="0.6"/>
<polygon points="1013.0,591.1 1063.0,614.5 1064.4,614.2 1014.4,590.7" fill="#4a0080" stroke="#4a0080" stroke-width="0.6"/>
<polygon points="1011.4,591.5 1061.4,614.9 1063.0,614.5 1013.0,591.1" fill="#4a007f" stroke="#4a007f" stroke-width="0.6"/>
<polygon points="1009.7,592.1 1059.7,615.4 1061.4,614.9 1011.4,591.5" fill="#49007f" stroke="#49007f" stroke-width="0.6"/>
<polygon points="1007.2,593.0 1057.2,616.1 1059.7,615.4 1009.7,592.1" fill="#49007e" stroke="#49007e" stroke-width="0.6"/>
<polygon points="1004.7,593.9 1054.7,617.0 1057.2,616.1 1007.2,593.0" fill="#49007d" stroke="#49007d" stroke-width="0.6"/>
<polygon points="1002.2,595.0 1052.2,617.9 1054.7,617.0 1004.7,593.9" fill="#48007c" stroke="#48007c" stroke-width="0.6"/>
<polygon points="998.9,596.7 1048.9,619.2 1052.2,617.9 1002.2,595.0" fill="#48007a" stroke="#48007a" stroke-width="0.6"/>
<polygon points="995.6,598.4 1045.6,620.7 1048.9,619.2 998.9,596.7" fill="#470077" stroke="#470077" stroke-width="0.6"/>
<polygon points="992.3,600.3 1042.3,622.2 1045.6,620.7 995.6,598.4" fill="#460074" stroke="#460074" stroke-width="0.6"/>
<polygon points="987.3,603.2 1037.3,624.7 1042.3,622.2 992.3,600.3" fill="#450070" stroke="#450070" stroke-width="0.6"/>
<polygon points="982.3,606.3 1032.3,627.2 1037.3,624.7 987.3,603.2" fill="#43006b" stroke="#43006b" stroke-width="0.6"/>
<polygon points="975.7,610.3 1025.6,630.6 1032.3,627.2 982.3,606.3" fill="#410064" stroke="#410064" stroke-width="0.6"/>
<polygon points="967.3,615.0 1017.3,634.8 1025.6,630.6 975.7,610.3" fill="#3e005c" stroke="#3e005c" stroke-width="0.6"/>
<polygon points="959.0,619.1 1009.0,638.6 1017.3,634.8 967.3,615.0" fill="#3b0054" stroke="#3b0054" stroke-width="0.6"/>
<polygon points="949.1,623.3 999.0,642.6 1009.0,638.6 959.0,619.1" fill="#38004d" stroke="#38004d" stroke-width="0.6"/>
<polygon points="937.4,627.1 987.4,646.6 999.0,642.6 949.1,623.3" fill="#360047" stroke="#360047" stroke-width="0.6"/>
<polygon points="922.5,631.0 972.5,650.6 987.4,646.6 937.4,627.1" fill="#340043" stroke="#340043" stroke-width="0.6"/>
<polygon points="905.9,634.6 955.8,654.4 972.5,650.6 922.5,631.0" fill="#330041" stroke="#330041" stroke-width="0.6"/>
<polygon points="884.3,638.9 934.2,658.8 955.8,654.4 905.9,634.6" fill="#330040" stroke="#330040" stroke-width="0.6"/>
<polygon points="1195.1,607.6 1245.1,627.5 1266.7,623.5 1216.7,603.6" fill="#330040" stroke="#330040" stroke-width="0.6"/>
<polygon points="1178.5,610.3 1228.5,630.1 1245.1,627.5 1195.1,607.6" fill="#340041" stroke="#340041" stroke-width="0.6"/>
<polygon points="1163.6,612.1 1213.5,631.8 1228.5,630.1 1178.5,610.3" fill="#350044" stroke="#350044" stroke-width="0.6"/>
<polygon points="1151.9,612.7 1201.9,632.5 1213.5,631.8 1163.6,612.1" fill="#370048" stroke="#370048" stroke-width="0.6"/>
<polygon points="1142.0,612.6 1191.9,632.6 1201.9,632.5 1151.9,612.7" fill="#39004e" stroke="#39004e" stroke-width="0.6"/>
<polygon points="1133.6,612.0 1183.6,632.3 1191.9,632.6 1142.0,612.6" fill="#3b0054" stroke="#3b0054" stroke-width="0.6"/>
<polygon points="1125.3,611.1 1175.3,631.9 1183.6,632.3 1133.6,612.0" fill="#3e005b" stroke="#3e005b" stroke-width="0.6"/>
<polygon points="1118.7,610.3 1168.7,631.4 1175.3,631.9 1125.3,611.1" fill="#400062" stroke="#400062" stroke-width="0.6"/>
<polygon points="1113.7,609.7 1163.7,631.1 1168.7,631.4 1118.7,610.3" fill="#420067" stroke="#420067" stroke-width="0.6"/>
<polygon points="1108.7,609.2 1158.7,631.0 1163.7,631.1 1113.7,609.7" fill="#43006b" stroke="#43006b" stroke-width="0.6"/>
<polygon points="1105.4,609.0 1155.4,630.9 1158.7,631.0 1108.7,609.2" fill="#44006e" stroke="#44006e" stroke-width="0.6"/>
<polygon points="1102.1,608.8 1152.1,630.9 1155.4,630.9 1105.4,609.0" fill="#450070" stroke="#450070" stroke-width="0.6"/>
<polygon points="1098.7,608.8 1148.7,631.0 1152.1,630.9 1102.1,608.8" fill="#450072" stroke="#450072" stroke-width="0.6"/>
<polygon points="1096.3,608.9 1146.2,631.2 1148.7,631.0 1098.7,608.8" fill="#460074" stroke="#460074" stroke-width="0.6"/>
<polygon points="1093.8,609.0 1143.7,631.4 1146.2,631.2 1096.3,608.9" fill="#460075" stroke="#460075" stroke-width="0.6"/>
<polygon points="1091.3,609.2 1141.3,631.7 1143.7,631.4 1093.8,609.0" fill="#460076" stroke="#460076" stroke-width="0.6"/>
<polygon points="1089.6,609.4 1139.6,631.9 1141.3,631.7 1091.3,609.2" fill="#470076" stroke="#470076" stroke-width="0.6"/>
<polygon points="1087.9,609.6 1137.9,632.1 1139.6,631.9 1089.6,609.4" fill="#470077" stroke="#470077" stroke-width="0.6"/>
<polygon points="1086.6,609.8 1136.6,632.3 1137.9,632.1 1087.9,609.6" fill="#470077" stroke="#470077" stroke-width="0.6"/>
<polygon points="1085.5,610.0 1135.4,632.5 1136.6,632.3 1086.6,609.8" fill="#470077" stroke="#470077" stroke-width="0.6"/>
<polygon points="1084.5,610.2 1134.4,632.7 1135.4,632.5 1085.5,610.0" fill="#470077" stroke="#470077" stroke-width="0.6"/>
<polygon points="1083.0,610.5 1132.9,633.0 1134.4,632.7 1084.5,610.2" fill="#470077" stroke="#470077" stroke-width="0.6"/>
<polygon points="1080.5,611.0 1130.5,633.5 1132.9,633.0 1083.0,610.5" fill="#470077" stroke="#470077" stroke-width="0.6"/>
<polygon points="1078.0,611.5 1128.0,634.0 1130.5,633.5 1080.5,611.0" fill="#470077" stroke="#470077" stroke-width="0.6"/>
<polygon points="1075.5,611.9 1125.5,634.5 1128.0,634.0 1078.0,611.5" fill="#470077" stroke="#470077" stroke-width="0.6"/>
<polygon points="1073.0,612.4 1123.0,635.0 1125.5,634.5 1075.5,611.9" fill="#470077" stroke="#470077" stroke-width="0.6"/>
<polygon points="1070.5,612.9 1120.5,635.5 1123.0,635.0 1073.0,612.4" fill="#470077" stroke="#470077" stroke-width="0.6"/>
<polygon points="1068.0,613.4 1118.0,636.0 1120.5,635.5 1070.5,612.9" fill="#470077" stroke="#470077" stroke-width="0.6"/>
<polygon points="1066.5,613.7 1116.5,636.2 1118.0,636.0 1068.0,613.4" fill="#470077" stroke="#470077" stroke-width="0.6"/>
<polygon points="1065.5,613.9 1115.5,636.4 1116.5,636.2 1066.5,613.7" fill="#470077" stroke="#470077" stroke-width="0.6"/>
<polygon points="1064.4,614.2 1114.3,636.7 1115.5,636.4 1065.5,613.9" fill="#470077" stroke="#470077" stroke-width="0.6"/>
<polygon points="1063.0,614.5 1113.0,637.0 1114.3,636.7 1064.4,614.2" fill="#470077" stroke="#470077" stroke-width="0.6"/>
<polygon points="1061.4,614.9 1111.3,637.4 1113.0,637.0 1063.0,614.5" fill="#470077" stroke="#470077" stroke-width="0.6"/>
<polygon points="1059.7,615.4 1109.7,637.8 1111.3,637.4 1061.4,614.9" fill="#470076" stroke="#470076" stroke-width="0.6"/>
<polygon points="1057.2,616.1 1107.2,638.5 1109.7,637.8 1059.7,615.4" fill="#460076" stroke="#460076" stroke-width="0.6"/>
<polygon points="1054.7,617.0 1104.7,639.3 1107.2,638.5 1057.2,616.1" fill="#460075" stroke="#460075" stroke-width="0.6"/>
<polygon points="1052.2,617.9 1102.2,640.1 1104.7,639.3 1054.7,617.0" fill="#460074" stroke="#460074" stroke-width="0.6"/>
<polygon points="1048.9,619.2 1098.9,641.3 1102.2,640.1 1052.2,617.9" fill="#450072" stroke="#450072" stroke-width="0.6"/>
<polygon points="1045.6,620.7 1095.6,642.6 1098.9,641.3 1048.9,619.2" fill="#450070" stroke="#450070" stroke-width="0.6"/>
<polygon points="1042.3,622.2 1092.2,644.0 1095.6,642.6 1045.6,620.7" fill="#44006e" stroke="#44006e" stroke-width="0.6"/>
<polygon points="1037.3,624.7 1087.2,646.1 1092.2,644.0 1042.3,622.2" fill="#43006b" stroke="#43006b" stroke-width="0.6"/>
<polygon points="1032.3,627.2 1082.3,648.3 1087.2,646.1 1037.3,624.7" fill="#420067" stroke="#420067" stroke-width="0.6"/>
<polygon points="1025.6,630.6 1075.6,651.4 1082.3,648.3 1032.3,627.2" fill="#400062" stroke="#400062" stroke-width="0.6"/>
<polygon points="1017.3,634.8 1067.3,655.1 1075.6,651.4 1025.6,630.6" fill="#3e005b" stroke="#3e005b" stroke-width="0.6"/>
<polygon points="1009.0,638.6 1059.0,658.6 1067.3,655.1 1017.3,634.8" fill="#3b0054" stroke="#3b0054" stroke-width="0.6"/>
<polygon points="999.0,642.6 1049.0,662.4 1059.0,658.6 1009.0,638.6" fill="#39004e" stroke="#39004e" stroke-width="0.6"/>
<polygon points="987.4,646.6 1037.4,666.3 1049.0,662.4 999.0,642.6" fill="#370048" stroke="#370048" stroke-width="0.6"/>
<polygon points="972.5,650.6 1022.4,670.4 1037.4,666.3 987.4,646.6" fill="#350044" stroke="#350044" stroke-width="0.6"/>
<polygon points="955.8,654.4 1005.8,674.3 1022.4,670.4 972.5,650.6" fill="#340041" stroke="#340041" stroke-width="0.6"/>
<polygon points="934.2,658.8 984.2,678.7 1005.8,674.3 955.8,654.4" fill="#330040" stroke="#330040" stroke-width="0.6"/>
<polygon points="1266.7,623.5 1316.7,643.4 1341.6,638.5 1291.6,618.6" fill="#330040" stroke="#330040" stroke-width="0.6"/>
<polygon points="1245.1,627.5 1295.1,647.3 1316.7,643.4 1266.7,623.5" fill="#330040" stroke="#330040" stroke-width="0.6"/>
<polygon points="1228.5,630.1 1278.5,649.9 1295.1,647.3 1245.1,627.5" fill="#340041" stroke="#340041" stroke-width="0.6"/>
<polygon points="1213.5,631.8 1263.5,651.7 1278.5,649.9 1228.5,630.1" fill="#350044" stroke="#350044" stroke-width="0.6"/>
<polygon points="1201.9,632.5 1251.9,652.5 1263.5,651.7 1213.5,631.8" fill="#370049" stroke="#370049" stroke-width="0.6"/>
<polygon points="1191.9,632.6 1241.9,652.9 1251.9,652.5 1201.9,632.5" fill="#39004e" stroke="#39004e" stroke-width="0.6"/>
<polygon points="1183.6,632.3 1233.6,652.9 1241.9,652.9 1191.9,632.6" fill="#3b0053" stroke="#3b0053" stroke-width="0.6"/>
<polygon points="1175.3,631.9 1225.3,652.8 1233.6,652.9 1183.6,632.3" fill="#3d0059" stroke="#3d0059" stroke-width="0.6"/>
<polygon points="1168.7,631.4 1218.7,652.8 1225.3,652.8 1175.3,631.9" fill="#3f005e" stroke="#3f005e" stroke-width="0.6"/>
<polygon points="1163.7,631.1 1213.7,652.7 1218.7,652.8 1168.7,631.4" fill="#400062" stroke="#400062" stroke-width="0.6"/>
<polygon points="1158.7,631.0 1208.7,652.8 1213.7,652.7 1163.7,631.1" fill="#410066" stroke="#410066" stroke-width="0.6"/>
<polygon points="1155.4,630.9 1205.4,652.9 1208.7,652.8 1158.7,631.0" fill="#420068" stroke="#420068" stroke-width="0.6"/>
<polygon points="1152.1,630.9 1202.0,653.1 1205.4,652.9 1155.4,630.9" fill="#43006a" stroke="#43006a" stroke-width="0.6"/>
<polygon points="1148.7,631.0 1198.7,653.3 1202.0,653.1 1152.1,630.9" fill="#43006c" stroke="#43006c" stroke-width="0.6"/>
<polygon points="1146.2,631.2 1196.2,653.6 1198.7,653.3 1148.7,631.0" fill="#44006d" stroke="#44006d" stroke-width="0.6"/>
<polygon points="1143.7,631.4 1193.7,653.8 1196.2,653.6 1146.2,631.2" fill="#44006e" stroke="#44006e" stroke-width="0.6"/>
<polygon points="1141.3,631.7 1191.2,654.1 1193.7,653.8 1143.7,631.4" fill="#44006e" stroke="#44006e" stroke-width="0.6"/>
<polygon points="1139.6,631.9 1189.6,654.4 1191.2,654.1 1141.3,631.7" fill="#44006f" stroke="#44006f" stroke-width="0.6"/>
<polygon points="1137.9,632.1 1187.9,654.7 1189.6,654.4 1139.6,631.9" fill="#44006f" stroke="#44006f" stroke-width="0.6"/>
<polygon points="1136.6,632.3 1186.6,654.9 1187.9,654.7 1137.9,632.1" fill="#44006f" stroke="#44006f" stroke-width="0.6"/>
<polygon points="1135.4,632.5 1185.4,655.1 1186.6,654.9 1136.6,632.3" fill="#44006f" stroke="#44006f" stroke-width="0.6"/>
<polygon points="1134.4,632.7 1184.4,655.3 1185.4,655.1 1135.4,632.5" fill="#44006f" stroke="#44006f" stroke-width="0.6"/>
<polygon points="1132.9,633.0 1182.9,655.6 1184.4,655.3 1134.4,632.7" fill="#44006f" stroke="#44006f" stroke-width="0.6"/>
<polygon points="1130.5,633.5 1180.4,656.1 1182.9,655.6 1132.9,633.0" fill="#44006f" stroke="#44006f" stroke-width="0.6"/>
<polygon points="1128.0,634.0 1177.9,656.6 1180.4,656.1 1130.5,633.5" fill="#44006f" stroke="#44006f" stroke-width="0.6"/>
<polygon points="1125.5,634.5 1175.5,657.0 1177.9,656.6 1128.0,634.0" fill="#44006f" stroke="#44006f" stroke-width="0.6"/>
<polygon points="1123.0,635.0 1173.0,657.5 1175.5,657.0 1125.5,634.5" fill="#44006f" stroke="#44006f" stroke-width="0.6"/>
<polygon points="1120.5,635.5 1170.5,658.0 1173.0,657.5 1123.0,635.0" fill="#44006f" stroke="#44006f" stroke-width="0.6"/>
<polygon points="1118.0,636.0 1168.0,658.5 1170.5,658.0 1120.5,635.5" fill="#44006f" stroke="#44006f" stroke-width="0.6"/>
<polygon points="1116.5,636.2 1166.5,658.8 1168.0,658.5 1118.0,636.0" fill="#44006f" stroke="#44006f" stroke-width="0.6"/>
<polygon points="1115.5,636.4 1165.5,659.0 1166.5,658.8 1116.5,636.2" fill="#44006f" stroke="#44006f" stroke-width="0.6"/>
<polygon points="1114.3,636.7 1164.3,659.2 1165.5,659.0 1115.5,636.4" fill="#44006f" stroke="#44006f" stroke-width="0.6"/>
<polygon points="1113.0,637.0 1163.0,659.5 1164.3,659.2 1114.3,636.7" fill="#44006f" stroke="#44006f" stroke-width="0.6"/>
<polygon points="1111.3,637.4 1161.3,659.9 1163.0,659.5 1113.0,637.0" fill="#44006f" stroke="#44006f" stroke-width="0.6"/>
<polygon points="1109.7,637.8 1159.7,660.3 1161.3,659.9 1111.3,637.4" fill="#44006f" stroke="#44006f" stroke-width="0.6"/>
<polygon points="1107.2,638.5 1157.2,661.0 1159.7,660.3 1109.7,637.8" fill="#44006e" stroke="#44006e" stroke-width="0.6"/>
<polygon points="1104.7,639.3 1154.7,661.7 1157.2,661.0 1107.2,638.5" fill="#44006e" stroke="#44006e" stroke-width="0.6"/>
<polygon points="1102.2,640.1 1152.2,662.4 1154.7,661.7 1104.7,639.3" fill="#44006d" stroke="#44006d" stroke-width="0.6"/>
<polygon points="1098.9,641.3 1148.9,663.5 1152.2,662.4 1102.2,640.1" fill="#43006c" stroke="#43006c" stroke-width="0.6"/>
<polygon points="1095.6,642.6 1145.5,664.6 1148.9,663.5 1098.9,641.3" fill="#43006a" stroke="#43006a" stroke-width="0.6"/>
<polygon points="1092.2,644.0 1142.2,665.8 1145.5,664.6 1095.6,642.6" fill="#420068" stroke="#420068" stroke-width="0.6"/>
<polygon points="1087.2,646.1 1137.2,667.7 1142.2,665.8 1092.2,644.0" fill="#410066" stroke="#410066" stroke-width="0.6"/>
<polygon points="1082.3,648.3 1132.2,669.7 1137.2,667.7 1087.2,646.1" fill="#400062" stroke="#400062" stroke-width="0.6"/>
<polygon points="1075.6,651.4 1125.6,672.3 1132.2,669.7 1082.3,648.3" fill="#3f005e" stroke="#3f005e" stroke-width="0.6"/>
<polygon points="1067.3,655.1 1117.3,675.7 1125.6,672.3 1075.6,651.4" fill="#3d0059" stroke="#3d0059" stroke-width="0.6"/>
<polygon points="1059.0,658.6 1109.0,678.9 1117.3,675.7 1067.3,655.1" fill="#3b0053" stroke="#3b0053" stroke-width="0.6"/>
<polygon points="1049.0,662.4 1099.0,682.4 1109.0,678.9 1059.0,658.6" fill="#39004e" stroke="#39004e" stroke-width="0.6"/>
<polygon points="1037.4,666.3 1087.4,686.1 1099.0,682.4 1049.0,662.4" fill="#370049" stroke="#370049" stroke-width="0.6"/>
<polygon points="1022.4,670.4 1072.4,690.2 1087.4,686.1 1037.4,666.3" fill="#350044" stroke="#350044" stroke-width="0.6"/>
<polygon points="1005.8,674.3 1055.8,694.1 1072.4,690.2 1022.4,670.4" fill="#340041" stroke="#340041" stroke-width="0.6"/>
<polygon points="984.2,678.7 1034.2,698.6 1055.8,694.1 1005.8,674.3" fill="#330040" stroke="#330040" stroke-width="0.6"/>
<polygon points="959.3,683.6 1009.3,703.5 1034.2,698.6 984.2,678.7" fill="#330040" stroke="#330040" stroke-width="0.6"/>
<polygon points="1316.7,643.4 1366.7,663.2 1391.6,658.5 1341.6,638.5" fill="#330040" stroke="#330040" stroke-width="0.6"/>
<polygon points="1295.1,647.3 1345.1,667.1 1366.7,663.2 1316.7,643.4" fill="#330040" stroke="#330040" stroke-width="0.6"/>
<polygon points="1278.5,649.9 1328.5,669.7 1345.1,667.1 1295.1,647.3" fill="#340042" stroke="#340042" stroke-width="0.6"/>
<polygon points="1263.5,651.7 1313.5,671.5 1328.5,669.7 1278.5,649.9" fill="#350045" stroke="#350045" stroke-width="0.6"/>
<polygon points="1251.9,652.5 1301.9,672.4 1313.5,671.5 1263.5,651.7" fill="#370049" stroke="#370049" stroke-width="0.6"/>
<polygon points="1241.9,652.9 1291.9,672.9 1301.9,672.4 1251.9,652.5" fill="#38004d" stroke="#38004d" stroke-width="0.6"/>
<polygon points="1233.6,652.9 1283.6,673.2 1291.9,672.9 1241.9,652.9" fill="#3a0052" stroke="#3a0052" stroke-width="0.6"/>
<polygon points="1225.3,652.8 1275.3,673.3 1283.6,673.2 1233.6,652.9" fill="#3c0057" stroke="#3c0057" stroke-width="0.6"/>
<polygon points="1218.7,652.8 1268.6,673.5 1275.3,673.3 1225.3,652.8" fill="#3e005b" stroke="#3e005b" stroke-width="0.6"/>
<polygon points="1213.7,652.7 1263.7,673.6 1268.6,673.5 1218.7,652.8" fill="#3f005f" stroke="#3f005f" stroke-width="0.6"/>
<polygon points="1208.7,652.8 1258.7,673.9 1263.7,673.6 1213.7,652.7" fill="#400061" stroke="#400061" stroke-width="0.6"/>
<polygon points="1205.4,652.9 1255.3,674.1 1258.7,673.9 1208.7,652.8" fill="#400063" stroke="#400063" stroke-width="0.6"/>
<polygon points="1202.0,653.1 1252.0,674.3 1255.3,674.1 1205.4,652.9" fill="#410065" stroke="#410065" stroke-width="0.6"/>
<polygon points="1198.7,653.3 1248.7,674.7 1252.0,674.3 1202.0,653.1" fill="#410066" stroke="#410066" stroke-width="0.6"/>
<polygon points="1196.2,653.6 1246.2,674.9 1248.7,674.7 1198.7,653.3" fill="#420067" stroke="#420067" stroke-width="0.6"/>
<polygon points="1193.7,653.8 1243.7,675.2 1246.2,674.9 1196.2,653.6" fill="#420068" stroke="#420068" stroke-width="0.6"/>
<polygon points="1191.2,654.1 1241.2,675.6 1243.7,675.2 1193.7,653.8" fill="#420068" stroke="#420068" stroke-width="0.6"/>
<polygon points="1189.6,654.4 1239.6,675.9 1241.2,675.6 1191.2,654.1" fill="#420068" stroke="#420068" stroke-width="0.6"/>
<polygon points="1187.9,654.7 1237.9,676.1 1239.6,675.9 1189.6,654.4" fill="#420069" stroke="#420069" stroke-width="0.6"/>
<polygon points="1186.6,654.9 1236.6,676.4 1237.9,676.1 1187.9,654.7" fill="#420069" stroke="#420069" stroke-width="0.6"/>
<polygon points="1185.4,655.1 1235.4,676.6 1236.6,676.4 1186.6,654.9" fill="#420069" stroke="#420069" stroke-width="0.6"/>
<polygon points="1184.4,655.3 1234.4,676.8 1235.4,676.6 1185.4,655.1" fill="#420069" stroke="#420069" stroke-width="0.6"/>
<polygon points="1182.9,655.6 1232.9,677.1 1234.4,676.8 1184.4,655.3" fill="#420069" stroke="#420069" stroke-width="0.6"/>
<polygon points="1180.4,656.1 1230.4,677.6 1232.9,677.1 1182.9,655.6" fill="#420069" stroke="#420069" stroke-width="0.6"/>
<polygon points="1177.9,656.6 1227.9,678.0 1230.4,677.6 1180.4,656.1" fill="#420069" stroke="#420069" stroke-width="0.6"/>
<polygon points="1175.5,657.0 1225.4,678.5 1227.9,678.0 1177.9,656.6" fill="#420069" stroke="#420069" stroke-width="0.6"/>
<polygon points="1173.0,657.5 1222.9,679.0 1225.4,678.5 1175.5,657.0" fill="#420069" stroke="#420069" stroke-width="0.6"/>
<polygon points="1170.5,658.0 1220.4,679.5 1222.9,679.0 1173.0,657.5" fill="#420069" stroke="#420069" stroke-width="0.6"/>
<polygon points="1168.0,658.5 1218.0,680.0 1220.4,679.5 1170.5,658.0" fill="#420069" stroke="#420069" stroke-width="0.6"/>
<polygon points="1166.5,658.8 1216.5,680.3 1218.0,680.0 1168.0,658.5" fill="#420069" stroke="#420069" stroke-width="0.6"/>
<polygon points="1165.5,659.0 1215.5,680.5 1216.5,680.3 1166.5,658.8" fill="#420069" stroke="#420069" stroke-width="0.6"/>
<polygon points="1164.3,659.2 1214.3,680.7 1215.5,680.5 1165.5,659.0" fill="#420069" stroke="#420069" stroke-width="0.6"/>
<polygon points="1163.0,659.5 1213.0,681.0 1214.3,680.7 1164.3,659.2" fill="#420069" stroke="#420069" stroke-width="0.6"/>
<polygon points="1161.3,659.9 1211.3,681.4 1213.0,681.0 1163.0,659.5" fill="#420069" stroke="#420069" stroke-width="0.6"/>
<polygon points="1159.7,660.3 1209.6,681.8 1211.3,681.4 1161.3,659.9" fill="#420068" stroke="#420068" stroke-width="0.6"/>
<polygon points="1157.2,661.0 1207.2,682.4 1209.6,681.8 1159.7,660.3" fill="#420068" stroke="#420068" stroke-width="0.6"/>
<polygon points="1154.7,661.7 1204.7,683.1 1207.2,682.4 1157.2,661.0" fill="#420068" stroke="#420068" stroke-width="0.6"/>
<polygon points="1152.2,662.4 1202.2,683.8 1204.7,683.1 1154.7,661.7" fill="#420067" stroke="#420067" stroke-width="0.6"/>
<polygon points="1148.9,663.5 1198.8,684.7 1202.2,683.8 1152.2,662.4" fill="#410066" stroke="#410066" stroke-width="0.6"/>
<polygon points="1145.5,664.6 1195.5,685.8 1198.8,684.7 1148.9,663.5" fill="#410065" stroke="#410065" stroke-width="0.6"/>
<polygon points="1142.2,665.8 1192.2,686.9 1195.5,685.8 1145.5,664.6" fill="#400063" stroke="#400063" stroke-width="0.6"/>
<polygon points="1137.2,667.7 1187.2,688.6 1192.2,686.9 1142.2,665.8" fill="#400061" stroke="#400061" stroke-width="0.6"/>
<polygon points="1132.2,669.7 1182.2,690.4 1187.2,688.6 1137.2,667.7" fill="#3f005f" stroke="#3f005f" stroke-width="0.6"/>
<polygon points="1125.6,672.3 1175.6,692.8 1182.2,690.4 1132.2,669.7" fill="#3e005b" stroke="#3e005b" stroke-width="0.6"/>
<polygon points="1117.3,675.7 1167.3,695.9 1175.6,692.8 1125.6,672.3" fill="#3c0057" stroke="#3c0057" stroke-width="0.6"/>
<polygon points="1109.0,678.9 1159.0,698.9 1167.3,695.9 1117.3,675.7" fill="#3a0052" stroke="#3a0052" stroke-width="0.6"/>
<polygon points="1099.0,682.4 1149.0,702.3 1159.0,698.9 1109.0,678.9" fill="#38004d" stroke="#38004d" stroke-width="0.6"/>
<polygon points="1087.4,686.1 1137.4,705.9 1149.0,702.3 1099.0,682.4" fill="#370049" stroke="#370049" stroke-width="0.6"/>
<polygon points="1072.4,690.2 1122.4,710.0 1137.4,705.9 1087.4,686.1" fill="#350045" stroke="#350045" stroke-width="0.6"/>
<polygon points="1055.8,694.1 1105.8,713.9 1122.4,710.0 1072.4,690.2" fill="#340042" stroke="#340042" stroke-width="0.6"/>
<polygon points="1034.2,698.6 1084.2,718.5 1105.8,713.9 1055.8,694.1" fill="#330040" stroke="#330040" stroke-width="0.6"/>
<polygon points="1009.3,703.5 1059.3,723.5 1084.2,718.5 1034.2,698.6" fill="#330040" stroke="#330040" stroke-width="0.6"/>
<polygon points="1366.7,663.2 1416.7,683.1 1441.6,678.4 1391.6,658.5" fill="#330040" stroke="#330040" stroke-width="0.6"/>
<polygon points="1345.1,667.1 1395.1,687.0 1416.7,683.1 1366.7,663.2" fill="#330040" stroke="#330040" stroke-width="0.6"/>
<polygon points="1328.5,669.7 1378.4,689.5 1395.1,687.0 1345.1,667.1" fill="#340042" stroke="#340042" stroke-width="0.6"/>
<polygon points="1313.5,671.5 1363.5,691.4 1378.4,689.5 1328.5,669.7" fill="#350045" stroke="#350045" stroke-width="0.6"/>
<polygon points="1301.9,672.4 1351.9,692.4 1363.5,691.4 1313.5,671.5" fill="#370049" stroke="#370049" stroke-width="0.6"/>
<polygon points="1291.9,672.9 1341.9,693.1 1351.9,692.4 1301.9,672.4" fill="#38004d" stroke="#38004d" stroke-width="0.6"/>
<polygon points="1283.6,673.2 1333.6,693.6 1341.9,693.1 1291.9,672.9" fill="#3a0051" stroke="#3a0051" stroke-width="0.6"/>
<polygon points="1275.3,673.3 1325.3,694.0 1333.6,693.6 1283.6,673.2" fill="#3b0055" stroke="#3b0055" stroke-width="0.6"/>
<polygon points="1268.6,673.5 1318.6,694.3 1325.3,694.0 1275.3,673.3" fill="#3d0059" stroke="#3d0059" stroke-width="0.6"/>
<polygon points="1263.7,673.6 1313.6,694.6 1318.6,694.3 1268.6,673.5" fill="#3e005c" stroke="#3e005c" stroke-width="0.6"/>
<polygon points="1258.7,673.9 1308.7,695.0 1313.6,694.6 1263.7,673.6" fill="#3e005e" stroke="#3e005e" stroke-width="0.6"/>
<polygon points="1255.3,674.1 1305.3,695.3 1308.7,695.0 1258.7,673.9" fill="#3f0060" stroke="#3f0060" stroke-width="0.6"/>
<polygon points="1252.0,674.3 1302.0,695.6 1305.3,695.3 1255.3,674.1" fill="#3f0061" stroke="#3f0061" stroke-width="0.6"/>
<polygon points="1248.7,674.7 1298.7,696.0 1302.0,695.6 1252.0,674.3" fill="#400062" stroke="#400062" stroke-width="0.6"/>
<polygon points="1246.2,674.9 1296.2,696.3 1298.7,696.0 1248.7,674.7" fill="#400063" stroke="#400063" stroke-width="0.6"/>
<polygon points="1243.7,675.2 1293.7,696.7 1296.2,696.3 1246.2,674.9" fill="#400063" stroke="#400063" stroke-width="0.6"/>
<polygon points="1241.2,675.6 1291.2,697.1 1293.7,696.7 1243.7,675.2" fill="#400063" stroke="#400063" stroke-width="0.6"/>
<polygon points="1239.6,675.9 1289.5,697.3 1291.2,697.1 1241.2,675.6" fill="#400064" stroke="#400064" stroke-width="0.6"/>
<polygon points="1237.9,676.1 1287.9,697.6 1289.5,697.3 1239.6,675.9" fill="#410064" stroke="#410064" stroke-width="0.6"/>
<polygon points="1236.6,676.4 1286.6,697.9 1287.9,697.6 1237.9,676.1" fill="#410064" stroke="#410064" stroke-width="0.6"/>
<polygon points="1235.4,676.6 1285.4,698.1 1286.6,697.9 1236.6,676.4" fill="#410064" stroke="#410064" stroke-width="0.6"/>
<polygon points="1234.4,676.8 1284.4,698.3 1285.4,698.1 1235.4,676.6" fill="#410064" stroke="#410064" stroke-width="0.6"/>
<polygon points="1232.9,677.1 1282.9,698.6 1284.4,698.3 1234.4,676.8" fill="#410064" stroke="#410064" stroke-width="0.6"/>
<polygon points="1230.4,677.6 1280.4,699.0 1282.9,698.6 1232.9,677.1" fill="#410064" stroke="#410064" stroke-width="0.6"/>
<polygon points="1227.9,678.0 1277.9,699.5 1280.4,699.0 1230.4,677.6" fill="#410064" stroke="#410064" stroke-width="0.6"/>
<polygon points="1225.4,678.5 1275.4,700.0 1277.9,699.5 1227.9,678.0" fill="#410064" stroke="#410064" stroke-width="0.6"/>
<polygon points="1222.9,679.0 1272.9,700.5 1275.4,700.0 1225.4,678.5" fill="#410064" stroke="#410064" stroke-width="0.6"/>
<polygon points="1220.4,679.5 1270.4,701.0 1272.9,700.5 1222.9,679.0" fill="#410064" stroke="#410064" stroke-width="0.6"/>
<polygon points="1218.0,680.0 1267.9,701.5 1270.4,701.0 1220.4,679.5" fill="#410064" stroke="#410064" stroke-width="0.6"/>
<polygon points="1216.5,680.3 1266.4,701.8 1267.9,701.5 1218.0,680.0" fill="#410064" stroke="#410064" stroke-width="0.6"/>
<polygon points="1215.5,680.5 1265.4,702.0 1266.4,701.8 1216.5,680.3" fill="#410064" stroke="#410064" stroke-width="0.6"/>
<polygon points="1214.3,680.7 1264.3,702.2 1265.4,702.0 1215.5,680.5" fill="#410064" stroke="#410064" stroke-width="0.6"/>
<polygon points="1213.0,681.0 1263.0,702.5 1264.3,702.2 1214.3,680.7" fill="#410064" stroke="#410064" stroke-width="0.6"/>
<polygon points="1211.3,681.4 1261.3,702.9 1263.0,702.5 1213.0,681.0" fill="#410064" stroke="#410064" stroke-width="0.6"/>
<polygon points="1209.6,681.8 1259.6,703.2 1261.3,702.9 1211.3,681.4" fill="#400064" stroke="#400064" stroke-width="0.6"/>
<polygon points="1207.2,682.4 1257.1,703.8 1259.6,703.2 1209.6,681.8" fill="#400063" stroke="#400063" stroke-width="0.6"/>
<polygon points="1204.7,683.1 1254.6,704.5 1257.1,703.8 1207.2,682.4" fill="#400063" stroke="#400063" stroke-width="0.6"/>
<polygon points="1202.2,683.8 1252.2,705.1 1254.6,704.5 1204.7,683.1" fill="#400063" stroke="#400063" stroke-width="0.6"/>
<polygon points="1198.8,684.7 1248.8,706.0 1252.2,705.1 1202.2,683.8" fill="#400062" stroke="#400062" stroke-width="0.6"/>
<polygon points="1195.5,685.8 1245.5,707.0 1248.8,706.0 1198.8,684.7" fill="#3f0061" stroke="#3f0061" stroke-width="0.6"/>
<polygon points="1192.2,686.9 1242.2,708.0 1245.5,707.0 1195.5,685.8" fill="#3f0060" stroke="#3f0060" stroke-width="0.6"/>
<polygon points="1187.2,688.6 1237.2,709.6 1242.2,708.0 1192.2,686.9" fill="#3e005e" stroke="#3e005e" stroke-width="0.6"/>
<polygon points="1182.2,690.4 1232.2,711.2 1237.2,709.6 1187.2,688.6" fill="#3e005c" stroke="#3e005c" stroke-width="0.6"/>
<polygon points="1175.6,692.8 1225.6,713.5 1232.2,711.2 1182.2,690.4" fill="#3d0059" stroke="#3d0059" stroke-width="0.6"/>
<polygon points="1167.3,695.9 1217.3,716.3 1225.6,713.5 1175.6,692.8" fill="#3b0055" stroke="#3b0055" stroke-width="0.6"/>
<polygon points="1159.0,698.9 1209.0,719.1 1217.3,716.3 1167.3,695.9" fill="#3a0051" stroke="#3a0051" stroke-width="0.6"/>
<polygon points="1149.0,702.3 1199.0,722.3 1209.0,719.1 1159.0,698.9" fill="#38004d" stroke="#38004d" stroke-width="0.6"/>
<polygon points="1137.4,705.9 1187.3,725.8 1199.0,722.3 1149.0,702.3" fill="#370049" stroke="#370049" stroke-width="0.6"/>
<polygon points="1122.4,710.0 1172.4,729.8 1187.3,725.8 1137.4,705.9" fill="#350045" stroke="#350045" stroke-width="0.6"/>
<polygon points="1105.8,713.9 1155.8,733.8 1172.4,729.8 1122.4,710.0" fill="#340042" stroke="#340042" stroke-width="0.6"/>
<polygon points="1084.2,718.5 1134.2,738.4 1155.8,733.8 1105.8,713.9" fill="#330040" stroke="#330040" stroke-width="0.6"/>
<polygon points="1059.3,723.5 1109.3,743.4 1134.2,738.4 1084.2,718.5" fill="#330040" stroke="#330040" stroke-width="0.6"/>
<polygon points="1416.7,683.1 1469.6,704.2 1494.6,699.5 1441.6,678.4" fill="#330040" stroke="#330040" stroke-width="0.6"/>
<polygon points="1395.1,687.0 1448.0,708.0 1469.6,704.2 1416.7,683.1" fill="#330041" stroke="#330041" stroke-width="0.6"/>
<polygon points="1378.4,689.5 1431.4,710.6 1448.0,708.0 1395.1,687.0" fill="#340042" stroke="#340042" stroke-width="0.6"/>
<polygon points="1363.5,691.4 1416.5,712.5 1431.4,710.6 1378.4,689.5" fill="#350045" stroke="#350045" stroke-width="0.6"/>
<polygon points="1351.9,692.4 1404.8,713.8 1416.5,712.5 1363.5,691.4" fill="#370048" stroke="#370048" stroke-width="0.6"/>
<polygon points="1341.9,693.1 1394.9,714.6 1404.8,713.8 1351.9,692.4" fill="#38004c" stroke="#38004c" stroke-width="0.6"/>
<polygon points="1333.6,693.6 1386.6,715.3 1394.9,714.6 1341.9,693.1" fill="#390050" stroke="#390050" stroke-width="0.6"/>
<polygon points="1325.3,694.0 1378.2,715.9 1386.6,715.3 1333.6,693.6" fill="#3b0053" stroke="#3b0053" stroke-width="0.6"/>
<polygon points="1318.6,694.3 1371.6,716.5 1378.2,715.9 1325.3,694.0" fill="#3c0056" stroke="#3c0056" stroke-width="0.6"/>
<polygon points="1313.6,694.6 1366.6,716.9 1371.6,716.5 1318.6,694.3" fill="#3d0058" stroke="#3d0058" stroke-width="0.6"/>
<polygon points="1308.7,695.0 1361.6,717.4 1366.6,716.9 1313.6,694.6" fill="#3d005a" stroke="#3d005a" stroke-width="0.6"/>
<polygon points="1305.3,695.3 1358.3,717.8 1361.6,717.4 1308.7,695.0" fill="#3e005c" stroke="#3e005c" stroke-width="0.6"/>
<polygon points="1302.0,695.6 1355.0,718.2 1358.3,717.8 1305.3,695.3" fill="#3e005c" stroke="#3e005c" stroke-width="0.6"/>
<polygon points="1298.7,696.0 1351.7,718.7 1355.0,718.2 1302.0,695.6" fill="#3e005d" stroke="#3e005d" stroke-width="0.6"/>
<polygon points="1296.2,696.3 1349.2,719.0 1351.7,718.7 1298.7,696.0" fill="#3e005e" stroke="#3e005e" stroke-width="0.6"/>
<polygon points="1293.7,696.7 1346.7,719.4 1349.2,719.0 1296.2,696.3" fill="#3f005e" stroke="#3f005e" stroke-width="0.6"/>
<polygon points="1291.2,697.1 1344.2,719.8 1346.7,719.4 1293.7,696.7" fill="#3f005f" stroke="#3f005f" stroke-width="0.6"/>
<polygon points="1289.5,697.3 1342.5,720.1 1344.2,719.8 1291.2,697.1" fill="#3f005f" stroke="#3f005f" stroke-width="0.6"/>
<polygon points="1287.9,697.6 1340.9,720.4 1342.5,720.1 1289.5,697.3" fill="#3f005f" stroke="#3f005f" stroke-width="0.6"/>
<polygon points="1286.6,697.9 1339.5,720.6 1340.9,720.4 1287.9,697.6" fill="#3f005f" stroke="#3f005f" stroke-width="0.6"/>
<polygon points="1285.4,698.1 1338.4,720.9 1339.5,720.6 1286.6,697.9" fill="#3f005f" stroke="#3f005f" stroke-width="0.6"/>
<polygon points="1284.4,698.3 1337.4,721.0 1338.4,720.9 1285.4,698.1" fill="#3f005f" stroke="#3f005f" stroke-width="0.6"/>
<polygon points="1282.9,698.6 1335.9,721.3 1337.4,721.0 1284.4,698.3" fill="#3f005f" stroke="#3f005f" stroke-width="0.6"/>
<polygon points="1280.4,699.0 1333.4,721.8 1335.9,721.3 1282.9,698.6" fill="#3f005f" stroke="#3f005f" stroke-width="0.6"/>
<polygon points="1277.9,699.5 1330.9,722.3 1333.4,721.8 1280.4,699.0" fill="#3f005f" stroke="#3f005f" stroke-width="0.6"/>
<polygon points="1275.4,700.0 1328.4,722.8 1330.9,722.3 1277.9,699.5" fill="#3f005f" stroke="#3f005f" stroke-width="0.6"/>
<polygon points="1272.9,700.5 1325.9,723.3 1328.4,722.8 1275.4,700.0" fill="#3f005f" stroke="#3f005f" stroke-width="0.6"/>
<polygon points="1270.4,701.0 1323.4,723.8 1325.9,723.3 1272.9,700.5" fill="#3f005f" stroke="#3f005f" stroke-width="0.6"/>
<polygon points="1267.9,701.5 1320.9,724.3 1323.4,723.8 1270.4,701.0" fill="#3f005f" stroke="#3f005f" stroke-width="0.6"/>
<polygon points="1266.4,701.8 1319.4,724.6 1320.9,724.3 1267.9,701.5" fill="#3f005f" stroke="#3f005f" stroke-width="0.6"/>
<polygon points="1265.4,702.0 1318.4,724.8 1319.4,724.6 1266.4,701.8" fill="#3f005f" stroke="#3f005f" stroke-width="0.6"/>
<polygon points="1264.3,702.2 1317.3,725.0 1318.4,724.8 1265.4,702.0" fill="#3f005f" stroke="#3f005f" stroke-width="0.6"/>
<polygon points="1263.0,702.5 1315.9,725.3 1317.3,725.0 1264.3,702.2" fill="#3f005f" stroke="#3f005f" stroke-width="0.6"/>
<polygon points="1261.3,702.9 1314.3,725.6 1315.9,725.3 1263.0,702.5" fill="#3f005f" stroke="#3f005f" stroke-width="0.6"/>
<polygon points="1259.6,703.2 1312.6,726.0 1314.3,725.6 1261.3,702.9" fill="#3f005f" stroke="#3f005f" stroke-width="0.6"/>
<polygon points="1257.1,703.8 1310.1,726.6 1312.6,726.0 1259.6,703.2" fill="#3f005f" stroke="#3f005f" stroke-width="0.6"/>
<polygon points="1254.6,704.5 1307.6,727.1 1310.1,726.6 1257.1,703.8" fill="#3f005e" stroke="#3f005e" stroke-width="0.6"/>
<polygon points="1252.2,705.1 1305.1,727.8 1307.6,727.1 1254.6,704.5" fill="#3e005e" stroke="#3e005e" stroke-width="0.6"/>
<polygon points="1248.8,706.0 1301.8,728.6 1305.1,727.8 1252.2,705.1" fill="#3e005d" stroke="#3e005d" stroke-width="0.6"/>
<polygon points="1245.5,707.0 1298.5,729.5 1301.8,728.6 1248.8,706.0" fill="#3e005c" stroke="#3e005c" stroke-width="0.6"/>
<polygon points="1242.2,708.0 1295.2,730.4 1298.5,729.5 1245.5,707.0" fill="#3e005c" stroke="#3e005c" stroke-width="0.6"/>
<polygon points="1237.2,709.6 1290.2,731.9 1295.2,730.4 1242.2,708.0" fill="#3d005a" stroke="#3d005a" stroke-width="0.6"/>
<polygon points="1232.2,711.2 1285.2,733.4 1290.2,731.9 1237.2,709.6" fill="#3d0058" stroke="#3d0058" stroke-width="0.6"/>
<polygon points="1225.6,713.5 1278.5,735.4 1285.2,733.4 1232.2,711.2" fill="#3c0056" stroke="#3c0056" stroke-width="0.6"/>
<polygon points="1217.3,716.3 1270.2,738.1 1278.5,735.4 1225.6,713.5" fill="#3b0053" stroke="#3b0053" stroke-width="0.6"/>
<polygon points="1209.0,719.1 1261.9,740.6 1270.2,738.1 1217.3,716.3" fill="#390050" stroke="#390050" stroke-width="0.6"/>
<polygon points="1199.0,722.3 1252.0,743.7 1261.9,740.6 1209.0,719.1" fill="#38004c" stroke="#38004c" stroke-width="0.6"/>
<polygon points="1187.3,725.8 1240.3,747.0 1252.0,743.7 1199.0,722.3" fill="#370048" stroke="#370048" stroke-width="0.6"/>
<polygon points="1172.4,729.8 1225.4,750.9 1240.3,747.0 1187.3,725.8" fill="#350045" stroke="#350045" stroke-width="0.6"/>
<polygon points="1155.8,733.8 1208.8,754.8 1225.4,750.9 1172.4,729.8" fill="#340042" stroke="#340042" stroke-width="0.6"/>
<polygon points="1134.2,738.4 1187.2,759.4 1208.8,754.8 1155.8,733.8" fill="#330041" stroke="#330041" stroke-width="0.6"/>
<polygon points="1109.3,743.4 1162.2,764.5 1187.2,759.4 1134.2,738.4" fill="#330040" stroke="#330040" stroke-width="0.6"/>
</g>
<g id="front">
<line x1="178.50" y1="590.00" x2="875.00" y2="867.00" stroke="#000" stroke-width="6.2" stroke-linecap="round" />
<line x1="875.00" y1="867.00" x2="1872.00" y2="675.00" stroke="#000" stroke-width="6.2" stroke-linecap="round" />
<line x1="1041.17" y1="835.00" x2="1025.37" y2="828.72" stroke="#000" stroke-width="5.5" stroke-linecap="butt" />
<line x1="1207.33" y1="803.00" x2="1191.54" y2="796.72" stroke="#000" stroke-width="5.5" stroke-linecap="butt" />
<line x1="1373.50" y1="771.00" x2="1357.70" y2="764.72" stroke="#000" stroke-width="5.5" stroke-linecap="butt" />
<line x1="1539.67" y1="739.00" x2="1523.87" y2="732.72" stroke="#000" stroke-width="5.5" stroke-linecap="butt" />
<line x1="1705.83" y1="707.00" x2="1690.04" y2="700.72" stroke="#000" stroke-width="5.5" stroke-linecap="butt" />
<line x1="178.50" y1="593.00" x2="178.50" y2="105.70" stroke="#000" stroke-width="6.4" stroke-linecap="butt" />
<line x1="176.00" y1="590.00" x2="208.00" y2="590.00" stroke="#000" stroke-width="5.2" stroke-linecap="butt" />
<line x1="176.00" y1="546.20" x2="208.00" y2="546.20" stroke="#000" stroke-width="5.2" stroke-linecap="butt" />
<line x1="176.00" y1="502.40" x2="208.00" y2="502.40" stroke="#000" stroke-width="5.2" stroke-linecap="butt" />
<line x1="176.00" y1="458.60" x2="208.00" y2="458.60" stroke="#000" stroke-width="5.2" stroke-linecap="butt" />
<line x1="176.00" y1="414.80" x2="208.00" y2="414.80" stroke="#000" stroke-width="5.2" stroke-linecap="butt" />
<line x1="176.00" y1="371.00" x2="208.00" y2="371.00" stroke="#000" stroke-width="5.2" stroke-linecap="butt" />
<line x1="176.00" y1="327.20" x2="208.00" y2="327.20" stroke="#000" stroke-width="5.2" stroke-linecap="butt" />
<line x1="176.00" y1="283.40" x2="208.00" y2="283.40" stroke="#000" stroke-width="5.2" stroke-linecap="butt" />
<line x1="176.00" y1="239.60" x2="208.00" y2="239.60" stroke="#000" stroke-width="5.2" stroke-linecap="butt" />
<line x1="176.00" y1="195.80" x2="208.00" y2="195.80" stroke="#000" stroke-width="5.2" stroke-linecap="butt" />
<line x1="176.00" y1="152.00" x2="208.00" y2="152.00" stroke="#000" stroke-width="5.2" stroke-linecap="butt" />
<line x1="176.00" y1="108.20" x2="208.00" y2="108.20" stroke="#000" stroke-width="5.2" stroke-linecap="butt" />
</g>
<text transform="matrix(0.7789 0 0 0.7134 64.14 127.09)" font-size="100" fill="#000">46</text>
<text transform="matrix(0.8108 0 0 0.7121 64.08 210.00)" font-size="100" fill="#000">42</text>
<text transform="matrix(0.7802 0 0 0.7096 64.80 302.99)" font-size="100" fill="#000">38</text>
<text transform="matrix(0.7754 0 0 0.7164 64.82 396.28)" font-size="100" fill="#000">34</text>
<text transform="matrix(0.7967 0 0 0.7111 64.72 479.49)" font-size="100" fill="#000">30</text>
<text transform="matrix(0.7838 0 0 0.6985 63.67 571.10)" font-size="100" fill="#000">26</text>
<text transform="matrix(0.7966 0 0 0.7096 148.13 673.89)" font-size="100" fill="#000">10</text>
<text transform="matrix(0.7912 0 0 0.7304 345.84 753.87)" font-size="100" fill="#000">30</text>
<text transform="matrix(0.8144 0 0 0.7274 543.91 832.27)" font-size="100" fill="#000">50</text>
<text transform="matrix(0.8346 0 0 0.7096 742.57 912.59)" font-size="100" fill="#000">70</text>
<text transform="matrix(0.7915 0 0 0.6800 981.64 881.02)" font-size="100" fill="#000"><tspan dy="8">−</tspan><tspan dy="-8">2000</tspan></text>
<text transform="matrix(0.7919 0 0 0.6963 1155.04 856.30)" font-size="100" fill="#000"><tspan dy="8">−</tspan><tspan dy="-8">1000</tspan></text>
<text transform="matrix(0.8381 0 0 0.7126 1391.55 831.29)" font-size="100" fill="#000">0</text>
<text transform="matrix(0.7701 0 0 0.7111 1541.07 778.29)" font-size="100" fill="#000">1000</text>
<text transform="matrix(0.7906 0 0 0.7111 1710.74 752.89)" font-size="100" fill="#000">2000</text>
<text transform="matrix(0.79500 0.40300 -0.45100 0.69800 83.70 779.70)" font-size="100" fill="#000">Time (in ns)</text>
<text transform="matrix(0.88600 -0.16800 0.16950 0.79200 923.10 1010.30)" font-size="100" fill="#000">Distance along y<tspan dy="7">−</tspan><tspan dy="-7">axis (in nm)</tspan></text>
<text transform="matrix(0.5275 0 0 0.5022 1054.13 1099.45)" font-size="100" fill="#000">(a)</text>
<defs><linearGradient id="cba" x1="0" y1="98.25" x2="0" y2="477.45" gradientUnits="userSpaceOnUse"><stop offset="0.0000" stop-color="#ffff00"/><stop offset="0.0114" stop-color="#fef600"/><stop offset="0.0227" stop-color="#fcee00"/><stop offset="0.0341" stop-color="#fbe600"/><stop offset="0.0455" stop-color="#f9de00"/><stop offset="0.0568" stop-color="#f8d600"/><stop offset="0.0682" stop-color="#f6ce00"/><stop offset="0.0795" stop-color="#f5c700"/><stop offset="0.0909" stop-color="#f3c000"/><stop offset="0.1023" stop-color="#f2b800"/><stop offset="0.1136" stop-color="#f0b200"/><stop offset="0.1250" stop-color="#efab00"/><stop offset="0.1364" stop-color="#eda400"/><stop offset="0.1477" stop-color="#eb9e00"/><stop offset="0.1591" stop-color="#ea9800"/><stop offset="0.1705" stop-color="#e89200"/><stop offset="0.1818" stop-color="#e78c00"/><stop offset="0.1932" stop-color="#e58600"/><stop offset="0.2045" stop-color="#e38000"/><stop offset="0.2159" stop-color="#e27b00"/><stop offset="0.2273" stop-color="#e07600"/><stop offset="0.2386" stop-color="#df7100"/><stop offset="0.2500" stop-color="#dd6c00"/><stop offset="0.2614" stop-color="#db6700"/><stop offset="0.2727" stop-color="#d96200"/><stop offset="0.2841" stop-color="#d85e00"/><stop offset="0.2955" stop-color="#d65900"/><stop offset="0.3068" stop-color="#d45500"/><stop offset="0.3182" stop-color="#d35100"/><stop offset="0.3295" stop-color="#d14d00"/><stop offset="0.3409" stop-color="#cf4900"/><stop offset="0.3523" stop-color="#cd4500"/><stop offset="0.3636" stop-color="#cb4200"/><stop offset="0.3750" stop-color="#ca3e00"/><stop offset="0.3864" stop-color="#c83b00"/><stop offset="0.3977" stop-color="#c63800"/><stop offset="0.4091" stop-color="#c43500"/><stop offset="0.4205" stop-color="#c23200"/><stop offset="0.4318" stop-color="#c02f00"/><stop offset="0.4432" stop-color="#be2c00"/><stop offset="0.4545" stop-color="#bc2900"/><stop offset="0.4659" stop-color="#ba2700"/><stop offset="0.4773" stop-color="#b82400"/><stop offset="0.4886" stop-color="#b62200"/><stop offset="0.5000" stop-color="#b42000"/><stop offset="0.5114" stop-color="#b21e12"/><stop offset="0.5227" stop-color="#b01c24"/><stop offset="0.5341" stop-color="#ae1a36"/><stop offset="0.5455" stop-color="#ac1848"/><stop offset="0.5568" stop-color="#aa1659"/><stop offset="0.5682" stop-color="#a8156a"/><stop offset="0.5795" stop-color="#a5137a"/><stop offset="0.5909" stop-color="#a3118a"/><stop offset="0.6023" stop-color="#a11099"/><stop offset="0.6136" stop-color="#9f0fa7"/><stop offset="0.6250" stop-color="#9c0db4"/><stop offset="0.6364" stop-color="#9a0cc1"/><stop offset="0.6477" stop-color="#970bcc"/><stop offset="0.6591" stop-color="#950ad7"/><stop offset="0.6705" stop-color="#9209e0"/><stop offset="0.6818" stop-color="#9008e8"/><stop offset="0.6932" stop-color="#8d07ef"/><stop offset="0.7045" stop-color="#8b07f5"/><stop offset="0.7159" stop-color="#8806f9"/><stop offset="0.7273" stop-color="#8505fc"/><stop offset="0.7386" stop-color="#8205fe"/><stop offset="0.7500" stop-color="#8004ff"/><stop offset="0.7614" stop-color="#7d03fe"/><stop offset="0.7727" stop-color="#7a03fc"/><stop offset="0.7841" stop-color="#7603f9"/><stop offset="0.7955" stop-color="#7302f5"/><stop offset="0.8068" stop-color="#7002ef"/><stop offset="0.8182" stop-color="#6d02e8"/><stop offset="0.8295" stop-color="#6901e0"/><stop offset="0.8409" stop-color="#6601d7"/><stop offset="0.8523" stop-color="#6201cc"/><stop offset="0.8636" stop-color="#5e01c1"/><stop offset="0.8750" stop-color="#5a00b4"/><stop offset="0.8864" stop-color="#5600a7"/><stop offset="0.8977" stop-color="#520099"/><stop offset="0.9091" stop-color="#4d008a"/><stop offset="0.9205" stop-color="#48007a"/><stop offset="0.9318" stop-color="#43006a"/><stop offset="0.9432" stop-color="#3d0059"/><stop offset="0.9545" stop-color="#360048"/><stop offset="0.9659" stop-color="#2f0036"/><stop offset="0.9773" stop-color="#260024"/><stop offset="0.9886" stop-color="#1b0012"/><stop offset="1.0000" stop-color="#000000"/></linearGradient></defs>
<rect x="1887.35" y="98.25" width="83.5" height="379.2" fill="url(#cba)" stroke="#000" stroke-width="6.3"/>
<line x1="1887.35" y1="132.60" x2="1916.70" y2="132.60" stroke="#000" stroke-width="5.5" stroke-linecap="butt" />
<line x1="1941.30" y1="132.60" x2="1970.85" y2="132.60" stroke="#000" stroke-width="5.5" stroke-linecap="butt" />
<line x1="1887.35" y1="167.12" x2="1916.70" y2="167.12" stroke="#000" stroke-width="5.5" stroke-linecap="butt" />
<line x1="1941.30" y1="167.12" x2="1970.85" y2="167.12" stroke="#000" stroke-width="5.5" stroke-linecap="butt" />
<line x1="1887.35" y1="201.64" x2="1916.70" y2="201.64" stroke="#000" stroke-width="5.5" stroke-linecap="butt" />
<line x1="1941.30" y1="201.64" x2="1970.85" y2="201.64" stroke="#000" stroke-width="5.5" stroke-linecap="butt" />
<line x1="1887.35" y1="236.16" x2="1916.70" y2="236.16" stroke="#000" stroke-width="5.5" stroke-linecap="butt" />
<line x1="1941.30" y1="236.16" x2="1970.85" y2="236.16" stroke="#000" stroke-width="5.5" stroke-linecap="butt" />
<line x1="1887.35" y1="270.68" x2="1916.70" y2="270.68" stroke="#000" stroke-width="5.5" stroke-linecap="butt" />
<line x1="1941.30" y1="270.68" x2="1970.85" y2="270.68" stroke="#000" stroke-width="5.5" stroke-linecap="butt" />
<line x1="1887.35" y1="305.20" x2="1916.70" y2="305.20" stroke="#000" stroke-width="5.5" stroke-linecap="butt" />
<line x1="1941.30" y1="305.20" x2="1970.85" y2="305.20" stroke="#000" stroke-width="5.5" stroke-linecap="butt" />
<line x1="1887.35" y1="339.72" x2="1916.70" y2="339.72" stroke="#000" stroke-width="5.5" stroke-linecap="butt" />
<line x1="1941.30" y1="339.72" x2="1970.85" y2="339.72" stroke="#000" stroke-width="5.5" stroke-linecap="butt" />
<line x1="1887.35" y1="374.24" x2="1916.70" y2="374.24" stroke="#000" stroke-width="5.5" stroke-linecap="butt" />
<line x1="1941.30" y1="374.24" x2="1970.85" y2="374.24" stroke="#000" stroke-width="5.5" stroke-linecap="butt" />
<line x1="1887.35" y1="408.76" x2="1916.70" y2="408.76" stroke="#000" stroke-width="5.5" stroke-linecap="butt" />
<line x1="1941.30" y1="408.76" x2="1970.85" y2="408.76" stroke="#000" stroke-width="5.5" stroke-linecap="butt" />
<line x1="1887.35" y1="443.28" x2="1916.70" y2="443.28" stroke="#000" stroke-width="5.5" stroke-linecap="butt" />
<line x1="1941.30" y1="443.28" x2="1970.85" y2="443.28" stroke="#000" stroke-width="5.5" stroke-linecap="butt" />
<text transform="matrix(0.7874 0 0 0.6866 2024.13 116.31)" font-size="100" fill="#000">46</text>
<text transform="matrix(0.7874 0 0 0.6924 2024.13 189.00)" font-size="100" fill="#000">42</text>
<text transform="matrix(0.7874 0 0 0.6756 2021.76 260.52)" font-size="100" fill="#000">38</text>
<text transform="matrix(0.7874 0 0 0.7015 2021.76 321.30)" font-size="100" fill="#000">34</text>
<text transform="matrix(0.7874 0 0 0.6830 2021.76 394.92)" font-size="100" fill="#000">30</text>
<text transform="matrix(0.7874 0 0 0.6836 2022.16 457.12)" font-size="100" fill="#000">26</text>
<text transform="matrix(0.7004 0 0 0.6500 1843.85 73.85)" font-size="100" fill="#000">(in C)</text>
<rect x="369.0" y="1276.0" width="1468.2" height="691.8" fill="#33003f"/>
<defs>
<linearGradient id="hb0" x1="0" y1="1530.0" x2="0" y2="1715.0" gradientUnits="userSpaceOnUse"><stop offset="0.0000" stop-color="#350044"/><stop offset="0.0216" stop-color="#350044"/><stop offset="0.0270" stop-color="#350045"/><stop offset="0.0486" stop-color="#350045"/><stop offset="0.0541" stop-color="#360046"/><stop offset="0.0649" stop-color="#360046"/><stop offset="0.0703" stop-color="#360047"/><stop offset="0.0811" stop-color="#360047"/><stop offset="0.0865" stop-color="#360048"/><stop offset="0.0919" stop-color="#360048"/><stop offset="0.0973" stop-color="#370049"/><stop offset="0.1081" stop-color="#370049"/><stop offset="0.1135" stop-color="#37004a"/><stop offset="0.1189" stop-color="#37004b"/><stop offset="0.1243" stop-color="#38004b"/><stop offset="0.1297" stop-color="#38004c"/><stop offset="0.1351" stop-color="#38004c"/><stop offset="0.1405" stop-color="#38004d"/><stop offset="0.1459" stop-color="#39004e"/><stop offset="0.1514" stop-color="#39004e"/><stop offset="0.1568" stop-color="#39004f"/><stop offset="0.1622" stop-color="#3a0050"/><stop offset="0.1676" stop-color="#3a0051"/><stop offset="0.1730" stop-color="#3a0052"/><stop offset="0.1784" stop-color="#3b0053"/><stop offset="0.1838" stop-color="#3b0054"/><stop offset="0.1892" stop-color="#3c0056"/><stop offset="0.1946" stop-color="#3c0057"/><stop offset="0.2000" stop-color="#3d0059"/><stop offset="0.2054" stop-color="#3d005a"/><stop offset="0.2108" stop-color="#3e005c"/><stop offset="0.2162" stop-color="#3e005e"/><stop offset="0.2216" stop-color="#3f0060"/><stop offset="0.2270" stop-color="#400062"/><stop offset="0.2324" stop-color="#410065"/><stop offset="0.2378" stop-color="#420067"/><stop offset="0.2432" stop-color="#43006a"/><stop offset="0.2486" stop-color="#44006e"/><stop offset="0.2541" stop-color="#450071"/><stop offset="0.2595" stop-color="#460075"/><stop offset="0.2649" stop-color="#480079"/><stop offset="0.2703" stop-color="#49007e"/><stop offset="0.2757" stop-color="#4b0083"/><stop offset="0.2811" stop-color="#4d0089"/><stop offset="0.2865" stop-color="#4f008f"/><stop offset="0.2919" stop-color="#510096"/><stop offset="0.2973" stop-color="#53009d"/><stop offset="0.3027" stop-color="#5500a5"/><stop offset="0.3081" stop-color="#5800ae"/><stop offset="0.3135" stop-color="#5b01b7"/><stop offset="0.3189" stop-color="#5e01c1"/><stop offset="0.3243" stop-color="#6201cb"/><stop offset="0.3297" stop-color="#6501d5"/><stop offset="0.3351" stop-color="#6901e0"/><stop offset="0.3405" stop-color="#6e02ea"/><stop offset="0.3459" stop-color="#7202f3"/><stop offset="0.3514" stop-color="#7703fa"/><stop offset="0.3568" stop-color="#7d03fe"/><stop offset="0.3622" stop-color="#8205fe"/><stop offset="0.3676" stop-color="#8906f8"/><stop offset="0.3730" stop-color="#8f08e9"/><stop offset="0.3784" stop-color="#970bd0"/><stop offset="0.3838" stop-color="#9e0fa8"/><stop offset="0.3892" stop-color="#a71471"/><stop offset="0.3946" stop-color="#af1b2a"/><stop offset="0.4000" stop-color="#b92500"/><stop offset="0.4054" stop-color="#c33300"/><stop offset="0.4108" stop-color="#ce4700"/><stop offset="0.4162" stop-color="#da6300"/><stop offset="0.4216" stop-color="#e68a00"/><stop offset="0.4270" stop-color="#f4c200"/><stop offset="0.4324" stop-color="#f5c800"/><stop offset="0.5568" stop-color="#f5c800"/><stop offset="0.5622" stop-color="#f2bb00"/><stop offset="0.5676" stop-color="#e58600"/><stop offset="0.5730" stop-color="#d96000"/><stop offset="0.5784" stop-color="#cd4500"/><stop offset="0.5838" stop-color="#c23200"/><stop offset="0.5892" stop-color="#b82400"/><stop offset="0.5946" stop-color="#af1a32"/><stop offset="0.6000" stop-color="#a61377"/><stop offset="0.6054" stop-color="#9e0ead"/><stop offset="0.6108" stop-color="#960ad3"/><stop offset="0.6162" stop-color="#8f08eb"/><stop offset="0.6216" stop-color="#8806f9"/><stop offset="0.6270" stop-color="#8204ff"/><stop offset="0.6324" stop-color="#7c03fe"/><stop offset="0.6378" stop-color="#7703f9"/><stop offset="0.6432" stop-color="#7202f2"/><stop offset="0.6486" stop-color="#6d02e9"/><stop offset="0.6541" stop-color="#6901df"/><stop offset="0.6595" stop-color="#6501d4"/><stop offset="0.6649" stop-color="#6101ca"/><stop offset="0.6703" stop-color="#5e01c0"/><stop offset="0.6757" stop-color="#5b01b6"/><stop offset="0.6811" stop-color="#5800ad"/><stop offset="0.6865" stop-color="#5500a4"/><stop offset="0.6919" stop-color="#53009d"/><stop offset="0.6973" stop-color="#500095"/><stop offset="0.7027" stop-color="#4e008f"/><stop offset="0.7081" stop-color="#4c0088"/><stop offset="0.7135" stop-color="#4b0083"/><stop offset="0.7189" stop-color="#49007e"/><stop offset="0.7243" stop-color="#480079"/><stop offset="0.7297" stop-color="#460075"/><stop offset="0.7351" stop-color="#450071"/><stop offset="0.7405" stop-color="#44006d"/><stop offset="0.7459" stop-color="#43006a"/><stop offset="0.7514" stop-color="#420067"/><stop offset="0.7568" stop-color="#410064"/><stop offset="0.7622" stop-color="#400062"/><stop offset="0.7676" stop-color="#3f0060"/><stop offset="0.7730" stop-color="#3e005e"/><stop offset="0.7784" stop-color="#3e005c"/><stop offset="0.7838" stop-color="#3d005a"/><stop offset="0.7892" stop-color="#3d0058"/><stop offset="0.7946" stop-color="#3c0057"/><stop offset="0.8000" stop-color="#3b0056"/><stop offset="0.8054" stop-color="#3b0054"/><stop offset="0.8108" stop-color="#3b0053"/><stop offset="0.8162" stop-color="#3a0052"/><stop offset="0.8216" stop-color="#3a0051"/><stop offset="0.8270" stop-color="#390050"/><stop offset="0.8324" stop-color="#39004f"/><stop offset="0.8378" stop-color="#39004e"/><stop offset="0.8432" stop-color="#39004e"/><stop offset="0.8486" stop-color="#38004d"/><stop offset="0.8541" stop-color="#38004c"/><stop offset="0.8595" stop-color="#38004c"/><stop offset="0.8649" stop-color="#38004b"/><stop offset="0.8703" stop-color="#37004a"/><stop offset="0.8757" stop-color="#37004a"/><stop offset="0.8811" stop-color="#370049"/><stop offset="0.8919" stop-color="#370049"/><stop offset="0.8973" stop-color="#360048"/><stop offset="0.9027" stop-color="#360048"/><stop offset="0.9081" stop-color="#360047"/><stop offset="0.9189" stop-color="#360047"/><stop offset="0.9243" stop-color="#360046"/><stop offset="0.9351" stop-color="#360046"/><stop offset="0.9405" stop-color="#350045"/><stop offset="0.9568" stop-color="#350045"/><stop offset="0.9622" stop-color="#350044"/><stop offset="0.9892" stop-color="#350044"/><stop offset="0.9946" stop-color="#350043"/><stop offset="1.0000" stop-color="#350043"/></linearGradient>
<linearGradient id="hb1" x1="0" y1="1530.0" x2="0" y2="1715.0" gradientUnits="userSpaceOnUse"><stop offset="0.0000" stop-color="#340043"/><stop offset="0.0054" stop-color="#350043"/><stop offset="0.0108" stop-color="#350043"/><stop offset="0.0162" stop-color="#350044"/><stop offset="0.0378" stop-color="#350044"/><stop offset="0.0432" stop-color="#350045"/><stop offset="0.0595" stop-color="#350045"/><stop offset="0.0649" stop-color="#360046"/><stop offset="0.0757" stop-color="#360046"/><stop offset="0.0811" stop-color="#360047"/><stop offset="0.0919" stop-color="#360047"/><stop offset="0.0973" stop-color="#360048"/><stop offset="0.1027" stop-color="#360048"/><stop offset="0.1081" stop-color="#370049"/><stop offset="0.1135" stop-color="#370049"/><stop offset="0.1189" stop-color="#37004a"/><stop offset="0.1243" stop-color="#37004a"/><stop offset="0.1297" stop-color="#37004b"/><stop offset="0.1351" stop-color="#38004b"/><stop offset="0.1405" stop-color="#38004c"/><stop offset="0.1459" stop-color="#38004d"/><stop offset="0.1514" stop-color="#39004d"/><stop offset="0.1568" stop-color="#39004e"/><stop offset="0.1622" stop-color="#39004f"/><stop offset="0.1676" stop-color="#390050"/><stop offset="0.1730" stop-color="#3a0051"/><stop offset="0.1784" stop-color="#3a0052"/><stop offset="0.1838" stop-color="#3b0053"/><stop offset="0.1892" stop-color="#3b0055"/><stop offset="0.1946" stop-color="#3c0056"/><stop offset="0.2000" stop-color="#3c0057"/><stop offset="0.2054" stop-color="#3d0059"/><stop offset="0.2108" stop-color="#3d005b"/><stop offset="0.2162" stop-color="#3e005d"/><stop offset="0.2216" stop-color="#3f005f"/><stop offset="0.2270" stop-color="#400061"/><stop offset="0.2324" stop-color="#400064"/><stop offset="0.2378" stop-color="#410066"/><stop offset="0.2432" stop-color="#420069"/><stop offset="0.2486" stop-color="#44006d"/><stop offset="0.2541" stop-color="#450070"/><stop offset="0.2595" stop-color="#460074"/><stop offset="0.2649" stop-color="#470078"/><stop offset="0.2703" stop-color="#49007d"/><stop offset="0.2757" stop-color="#4a0082"/><stop offset="0.2811" stop-color="#4c0088"/><stop offset="0.2865" stop-color="#4e008e"/><stop offset="0.2919" stop-color="#500094"/><stop offset="0.2973" stop-color="#52009c"/><stop offset="0.3027" stop-color="#5500a3"/><stop offset="0.3081" stop-color="#5700ac"/><stop offset="0.3135" stop-color="#5a00b4"/><stop offset="0.3189" stop-color="#5d01be"/><stop offset="0.3243" stop-color="#6001c8"/><stop offset="0.3297" stop-color="#6401d2"/><stop offset="0.3351" stop-color="#6801dc"/><stop offset="0.3405" stop-color="#6c01e6"/><stop offset="0.3459" stop-color="#7002ef"/><stop offset="0.3514" stop-color="#7502f7"/><stop offset="0.3568" stop-color="#7a03fd"/><stop offset="0.3622" stop-color="#7f04ff"/><stop offset="0.3676" stop-color="#8505fd"/><stop offset="0.3730" stop-color="#8b07f4"/><stop offset="0.3784" stop-color="#9209e2"/><stop offset="0.3838" stop-color="#990cc6"/><stop offset="0.3892" stop-color="#a0109d"/><stop offset="0.3946" stop-color="#a81565"/><stop offset="0.4000" stop-color="#b11c1f"/><stop offset="0.4054" stop-color="#ba2600"/><stop offset="0.4108" stop-color="#c43400"/><stop offset="0.4162" stop-color="#ce4700"/><stop offset="0.4216" stop-color="#d96100"/><stop offset="0.4270" stop-color="#e58500"/><stop offset="0.4324" stop-color="#e68900"/><stop offset="0.5568" stop-color="#e68900"/><stop offset="0.5622" stop-color="#e48100"/><stop offset="0.5676" stop-color="#d85e00"/><stop offset="0.5730" stop-color="#cd4500"/><stop offset="0.5784" stop-color="#c33200"/><stop offset="0.5838" stop-color="#b92500"/><stop offset="0.5892" stop-color="#b01b26"/><stop offset="0.5946" stop-color="#a7146b"/><stop offset="0.6000" stop-color="#9f0fa1"/><stop offset="0.6054" stop-color="#980bc9"/><stop offset="0.6108" stop-color="#9109e4"/><stop offset="0.6162" stop-color="#8a07f5"/><stop offset="0.6216" stop-color="#8405fd"/><stop offset="0.6270" stop-color="#7f04ff"/><stop offset="0.6324" stop-color="#7903fc"/><stop offset="0.6378" stop-color="#7402f6"/><stop offset="0.6432" stop-color="#7002ee"/><stop offset="0.6486" stop-color="#6b01e5"/><stop offset="0.6541" stop-color="#6701db"/><stop offset="0.6595" stop-color="#6401d1"/><stop offset="0.6649" stop-color="#6001c7"/><stop offset="0.6703" stop-color="#5d01bd"/><stop offset="0.6757" stop-color="#5a00b4"/><stop offset="0.6811" stop-color="#5700ab"/><stop offset="0.6865" stop-color="#5500a3"/><stop offset="0.6919" stop-color="#52009b"/><stop offset="0.6973" stop-color="#500094"/><stop offset="0.7027" stop-color="#4e008d"/><stop offset="0.7081" stop-color="#4c0087"/><stop offset="0.7135" stop-color="#4a0082"/><stop offset="0.7189" stop-color="#49007d"/><stop offset="0.7243" stop-color="#470078"/><stop offset="0.7297" stop-color="#460074"/><stop offset="0.7351" stop-color="#450070"/><stop offset="0.7405" stop-color="#43006c"/><stop offset="0.7459" stop-color="#420069"/><stop offset="0.7514" stop-color="#410066"/><stop offset="0.7568" stop-color="#400063"/><stop offset="0.7622" stop-color="#400061"/><stop offset="0.7676" stop-color="#3f005f"/><stop offset="0.7730" stop-color="#3e005d"/><stop offset="0.7784" stop-color="#3d005b"/><stop offset="0.7838" stop-color="#3d0059"/><stop offset="0.7892" stop-color="#3c0057"/><stop offset="0.7946" stop-color="#3c0056"/><stop offset="0.8000" stop-color="#3b0054"/><stop offset="0.8054" stop-color="#3b0053"/><stop offset="0.8108" stop-color="#3a0052"/><stop offset="0.8162" stop-color="#3a0051"/><stop offset="0.8216" stop-color="#390050"/><stop offset="0.8270" stop-color="#39004f"/><stop offset="0.8324" stop-color="#39004e"/><stop offset="0.8378" stop-color="#38004d"/><stop offset="0.8432" stop-color="#38004d"/><stop offset="0.8486" stop-color="#38004c"/><stop offset="0.8541" stop-color="#38004b"/><stop offset="0.8595" stop-color="#37004b"/><stop offset="0.8649" stop-color="#37004a"/><stop offset="0.8703" stop-color="#37004a"/><stop offset="0.8757" stop-color="#370049"/><stop offset="0.8811" stop-color="#370049"/><stop offset="0.8865" stop-color="#360048"/><stop offset="0.8919" stop-color="#360048"/><stop offset="0.8973" stop-color="#360047"/><stop offset="0.9081" stop-color="#360047"/><stop offset="0.9135" stop-color="#360046"/><stop offset="0.9243" stop-color="#360046"/><stop offset="0.9297" stop-color="#350045"/><stop offset="0.9459" stop-color="#350045"/><stop offset="0.9514" stop-color="#350044"/><stop offset="0.9730" stop-color="#350044"/><stop offset="0.9784" stop-color="#350043"/><stop offset="0.9838" stop-color="#350043"/><stop offset="0.9892" stop-color="#340043"/><stop offset="1.0000" stop-color="#340043"/></linearGradient>
<linearGradient id="hb2" x1="0" y1="1530.0" x2="0" y2="1715.0" gradientUnits="userSpaceOnUse"><stop offset="0.0000" stop-color="#340043"/><stop offset="0.0162" stop-color="#340043"/><stop offset="0.0216" stop-color="#350043"/><stop offset="0.0270" stop-color="#350043"/><stop offset="0.0324" stop-color="#350044"/><stop offset="0.0541" stop-color="#350044"/><stop offset="0.0595" stop-color="#350045"/><stop offset="0.0703" stop-color="#350045"/><stop offset="0.0757" stop-color="#350046"/><stop offset="0.0811" stop-color="#360046"/><stop offset="0.0865" stop-color="#360046"/><stop offset="0.0919" stop-color="#360047"/><stop offset="0.1027" stop-color="#360047"/><stop offset="0.1081" stop-color="#360048"/><stop offset="0.1135" stop-color="#370048"/><stop offset="0.1189" stop-color="#370049"/><stop offset="0.1243" stop-color="#370049"/><stop offset="0.1297" stop-color="#37004a"/><stop offset="0.1351" stop-color="#37004b"/><stop offset="0.1405" stop-color="#38004b"/><stop offset="0.1459" stop-color="#38004c"/><stop offset="0.1514" stop-color="#38004d"/><stop offset="0.1568" stop-color="#39004e"/><stop offset="0.1622" stop-color="#39004e"/><stop offset="0.1676" stop-color="#39004f"/><stop offset="0.1730" stop-color="#3a0051"/><stop offset="0.1784" stop-color="#3a0052"/><stop offset="0.1838" stop-color="#3b0053"/><stop offset="0.1892" stop-color="#3b0054"/><stop offset="0.1946" stop-color="#3c0056"/><stop offset="0.2000" stop-color="#3c0057"/><stop offset="0.2054" stop-color="#3d0059"/><stop offset="0.2108" stop-color="#3d005b"/><stop offset="0.2162" stop-color="#3e005d"/><stop offset="0.2216" stop-color="#3f005f"/><stop offset="0.2270" stop-color="#400061"/><stop offset="0.2324" stop-color="#410064"/><stop offset="0.2378" stop-color="#420067"/><stop offset="0.2432" stop-color="#43006a"/><stop offset="0.2486" stop-color="#44006d"/><stop offset="0.2541" stop-color="#450071"/><stop offset="0.2595" stop-color="#460075"/><stop offset="0.2649" stop-color="#480079"/><stop offset="0.2703" stop-color="#49007e"/><stop offset="0.2757" stop-color="#4b0083"/><stop offset="0.2811" stop-color="#4c0088"/><stop offset="0.2865" stop-color="#4e008e"/><stop offset="0.2919" stop-color="#500094"/><stop offset="0.2973" stop-color="#52009b"/><stop offset="0.3027" stop-color="#5500a3"/><stop offset="0.3081" stop-color="#5700aa"/><stop offset="0.3135" stop-color="#5a00b3"/><stop offset="0.3189" stop-color="#5c01bb"/><stop offset="0.3243" stop-color="#5f01c5"/><stop offset="0.3297" stop-color="#6301ce"/><stop offset="0.3351" stop-color="#6601d7"/><stop offset="0.3405" stop-color="#6a01e1"/><stop offset="0.3459" stop-color="#6e02ea"/><stop offset="0.3514" stop-color="#7202f2"/><stop offset="0.3568" stop-color="#7603f9"/><stop offset="0.3622" stop-color="#7b03fd"/><stop offset="0.3676" stop-color="#8004ff"/><stop offset="0.3730" stop-color="#8505fc"/><stop offset="0.3784" stop-color="#8b07f4"/><stop offset="0.3838" stop-color="#9109e5"/><stop offset="0.3892" stop-color="#970bcd"/><stop offset="0.3946" stop-color="#9e0eab"/><stop offset="0.4000" stop-color="#a5137d"/><stop offset="0.4054" stop-color="#ad1843"/><stop offset="0.4108" stop-color="#b52000"/><stop offset="0.4162" stop-color="#bd2a00"/><stop offset="0.4216" stop-color="#c63800"/><stop offset="0.4270" stop-color="#cf4a00"/><stop offset="0.4324" stop-color="#d04c00"/><stop offset="0.5568" stop-color="#d04c00"/><stop offset="0.5622" stop-color="#ce4800"/><stop offset="0.5676" stop-color="#c53600"/><stop offset="0.5730" stop-color="#bc2900"/><stop offset="0.5784" stop-color="#b41f05"/><stop offset="0.5838" stop-color="#ac1849"/><stop offset="0.5892" stop-color="#a41282"/><stop offset="0.5946" stop-color="#9d0eaf"/><stop offset="0.6000" stop-color="#960bd0"/><stop offset="0.6054" stop-color="#9008e7"/><stop offset="0.6108" stop-color="#8a06f5"/><stop offset="0.6162" stop-color="#8505fd"/><stop offset="0.6216" stop-color="#7f04ff"/><stop offset="0.6270" stop-color="#7a03fd"/><stop offset="0.6324" stop-color="#7602f8"/><stop offset="0.6378" stop-color="#7102f1"/><stop offset="0.6432" stop-color="#6d02e9"/><stop offset="0.6486" stop-color="#6901e0"/><stop offset="0.6541" stop-color="#6601d7"/><stop offset="0.6595" stop-color="#6201cd"/><stop offset="0.6649" stop-color="#5f01c4"/><stop offset="0.6703" stop-color="#5c01bb"/><stop offset="0.6757" stop-color="#5900b2"/><stop offset="0.6811" stop-color="#5700aa"/><stop offset="0.6865" stop-color="#5400a2"/><stop offset="0.6919" stop-color="#52009a"/><stop offset="0.6973" stop-color="#500094"/><stop offset="0.7027" stop-color="#4e008d"/><stop offset="0.7081" stop-color="#4c0088"/><stop offset="0.7135" stop-color="#4a0082"/><stop offset="0.7189" stop-color="#49007d"/><stop offset="0.7243" stop-color="#470079"/><stop offset="0.7297" stop-color="#460074"/><stop offset="0.7351" stop-color="#450070"/><stop offset="0.7405" stop-color="#44006d"/><stop offset="0.7459" stop-color="#420069"/><stop offset="0.7514" stop-color="#410066"/><stop offset="0.7568" stop-color="#400064"/><stop offset="0.7622" stop-color="#400061"/><stop offset="0.7676" stop-color="#3f005f"/><stop offset="0.7730" stop-color="#3e005d"/><stop offset="0.7784" stop-color="#3d005b"/><stop offset="0.7838" stop-color="#3d0059"/><stop offset="0.7892" stop-color="#3c0057"/><stop offset="0.7946" stop-color="#3b0056"/><stop offset="0.8000" stop-color="#3b0054"/><stop offset="0.8054" stop-color="#3a0053"/><stop offset="0.8108" stop-color="#3a0052"/><stop offset="0.8162" stop-color="#3a0050"/><stop offset="0.8216" stop-color="#39004f"/><stop offset="0.8270" stop-color="#39004e"/><stop offset="0.8324" stop-color="#39004d"/><stop offset="0.8378" stop-color="#38004d"/><stop offset="0.8432" stop-color="#38004c"/><stop offset="0.8486" stop-color="#38004b"/><stop offset="0.8541" stop-color="#37004a"/><stop offset="0.8595" stop-color="#37004a"/><stop offset="0.8649" stop-color="#370049"/><stop offset="0.8703" stop-color="#370049"/><stop offset="0.8757" stop-color="#370048"/><stop offset="0.8811" stop-color="#360048"/><stop offset="0.8865" stop-color="#360047"/><stop offset="0.8973" stop-color="#360047"/><stop offset="0.9027" stop-color="#360046"/><stop offset="0.9081" stop-color="#360046"/><stop offset="0.9135" stop-color="#350045"/><stop offset="0.9297" stop-color="#350045"/><stop offset="0.9351" stop-color="#350044"/><stop offset="0.9568" stop-color="#350044"/><stop offset="0.9622" stop-color="#350043"/><stop offset="0.9676" stop-color="#350043"/><stop offset="0.9730" stop-color="#340043"/><stop offset="0.9892" stop-color="#340043"/><stop offset="0.9946" stop-color="#340042"/><stop offset="1.0000" stop-color="#340042"/></linearGradient>
<linearGradient id="hb3" x1="0" y1="1530.0" x2="0" y2="1715.0" gradientUnits="userSpaceOnUse"><stop offset="0.0000" stop-color="#340042"/><stop offset="0.0054" stop-color="#340042"/><stop offset="0.0108" stop-color="#340043"/><stop offset="0.0270" stop-color="#340043"/><stop offset="0.0324" stop-color="#350043"/><stop offset="0.0378" stop-color="#350043"/><stop offset="0.0432" stop-color="#350044"/><stop offset="0.0595" stop-color="#350044"/><stop offset="0.0649" stop-color="#350045"/><stop offset="0.0757" stop-color="#350045"/><stop offset="0.0811" stop-color="#350046"/><stop offset="0.0865" stop-color="#360046"/><stop offset="0.0919" stop-color="#360046"/><stop offset="0.0973" stop-color="#360047"/><stop offset="0.1027" stop-color="#360047"/><stop offset="0.1081" stop-color="#360048"/><stop offset="0.1135" stop-color="#360048"/><stop offset="0.1189" stop-color="#370049"/><stop offset="0.1243" stop-color="#370049"/><stop offset="0.1297" stop-color="#37004a"/><stop offset="0.1351" stop-color="#37004a"/><stop offset="0.1405" stop-color="#38004b"/><stop offset="0.1459" stop-color="#38004c"/><stop offset="0.1514" stop-color="#38004d"/><stop offset="0.1568" stop-color="#39004e"/><stop offset="0.1622" stop-color="#39004f"/><stop offset="0.1676" stop-color="#390050"/><stop offset="0.1730" stop-color="#3a0051"/><stop offset="0.1784" stop-color="#3a0052"/><stop offset="0.1838" stop-color="#3b0053"/><stop offset="0.1892" stop-color="#3b0055"/><stop offset="0.1946" stop-color="#3c0056"/><stop offset="0.2000" stop-color="#3c0058"/><stop offset="0.2054" stop-color="#3d005a"/><stop offset="0.2108" stop-color="#3e005c"/><stop offset="0.2162" stop-color="#3e005e"/><stop offset="0.2216" stop-color="#3f0060"/><stop offset="0.2270" stop-color="#400062"/><stop offset="0.2324" stop-color="#410065"/><stop offset="0.2378" stop-color="#420068"/><stop offset="0.2432" stop-color="#43006b"/><stop offset="0.2486" stop-color="#44006e"/><stop offset="0.2541" stop-color="#450072"/><stop offset="0.2595" stop-color="#460076"/><stop offset="0.2649" stop-color="#48007a"/><stop offset="0.2703" stop-color="#49007e"/><stop offset="0.2757" stop-color="#4b0083"/><stop offset="0.2811" stop-color="#4d0089"/><stop offset="0.2865" stop-color="#4e008e"/><stop offset="0.2919" stop-color="#500094"/><stop offset="0.2973" stop-color="#52009b"/><stop offset="0.3027" stop-color="#5400a2"/><stop offset="0.3081" stop-color="#5700a9"/><stop offset="0.3135" stop-color="#5900b1"/><stop offset="0.3189" stop-color="#5c01b9"/><stop offset="0.3243" stop-color="#5e01c1"/><stop offset="0.3297" stop-color="#6101ca"/><stop offset="0.3351" stop-color="#6401d3"/><stop offset="0.3405" stop-color="#6801dc"/><stop offset="0.3459" stop-color="#6b01e4"/><stop offset="0.3514" stop-color="#6f02ed"/><stop offset="0.3568" stop-color="#7302f4"/><stop offset="0.3622" stop-color="#7703fa"/><stop offset="0.3676" stop-color="#7b03fe"/><stop offset="0.3730" stop-color="#8004ff"/><stop offset="0.3784" stop-color="#8505fd"/><stop offset="0.3838" stop-color="#8a06f6"/><stop offset="0.3892" stop-color="#8f08e9"/><stop offset="0.3946" stop-color="#950ad6"/><stop offset="0.4000" stop-color="#9b0dba"/><stop offset="0.4054" stop-color="#a21094"/><stop offset="0.4108" stop-color="#a81565"/><stop offset="0.4162" stop-color="#af1b2b"/><stop offset="0.4216" stop-color="#b72300"/><stop offset="0.4270" stop-color="#bf2d00"/><stop offset="0.4324" stop-color="#bf2e00"/><stop offset="0.5568" stop-color="#bf2e00"/><stop offset="0.5622" stop-color="#be2b00"/><stop offset="0.5676" stop-color="#b62200"/><stop offset="0.5730" stop-color="#af1a32"/><stop offset="0.5784" stop-color="#a8156a"/><stop offset="0.5838" stop-color="#a11098"/><stop offset="0.5892" stop-color="#9b0dbd"/><stop offset="0.5946" stop-color="#950ad8"/><stop offset="0.6000" stop-color="#8f08eb"/><stop offset="0.6054" stop-color="#8906f7"/><stop offset="0.6108" stop-color="#8405fd"/><stop offset="0.6162" stop-color="#7f04ff"/><stop offset="0.6216" stop-color="#7b03fd"/><stop offset="0.6270" stop-color="#7603f9"/><stop offset="0.6324" stop-color="#7202f3"/><stop offset="0.6378" stop-color="#6e02ec"/><stop offset="0.6432" stop-color="#6b01e4"/><stop offset="0.6486" stop-color="#6701db"/><stop offset="0.6541" stop-color="#6401d2"/><stop offset="0.6595" stop-color="#6101c9"/><stop offset="0.6649" stop-color="#5e01c1"/><stop offset="0.6703" stop-color="#5b01b8"/><stop offset="0.6757" stop-color="#5900b0"/><stop offset="0.6811" stop-color="#5600a8"/><stop offset="0.6865" stop-color="#5400a1"/><stop offset="0.6919" stop-color="#52009a"/><stop offset="0.6973" stop-color="#500094"/><stop offset="0.7027" stop-color="#4e008e"/><stop offset="0.7081" stop-color="#4c0088"/><stop offset="0.7135" stop-color="#4b0083"/><stop offset="0.7189" stop-color="#49007e"/><stop offset="0.7243" stop-color="#48007a"/><stop offset="0.7297" stop-color="#460075"/><stop offset="0.7351" stop-color="#450071"/><stop offset="0.7405" stop-color="#44006e"/><stop offset="0.7459" stop-color="#43006b"/><stop offset="0.7514" stop-color="#420068"/><stop offset="0.7568" stop-color="#410065"/><stop offset="0.7622" stop-color="#400062"/><stop offset="0.7676" stop-color="#3f0060"/><stop offset="0.7730" stop-color="#3e005d"/><stop offset="0.7784" stop-color="#3e005b"/><stop offset="0.7838" stop-color="#3d0059"/><stop offset="0.7892" stop-color="#3c0058"/><stop offset="0.7946" stop-color="#3c0056"/><stop offset="0.8000" stop-color="#3b0055"/><stop offset="0.8054" stop-color="#3b0053"/><stop offset="0.8108" stop-color="#3a0052"/><stop offset="0.8162" stop-color="#3a0051"/><stop offset="0.8216" stop-color="#390050"/><stop offset="0.8270" stop-color="#39004f"/><stop offset="0.8324" stop-color="#39004e"/><stop offset="0.8378" stop-color="#38004d"/><stop offset="0.8432" stop-color="#38004c"/><stop offset="0.8486" stop-color="#38004b"/><stop offset="0.8541" stop-color="#37004a"/><stop offset="0.8595" stop-color="#37004a"/><stop offset="0.8649" stop-color="#370049"/><stop offset="0.8703" stop-color="#370049"/><stop offset="0.8757" stop-color="#360048"/><stop offset="0.8811" stop-color="#360048"/><stop offset="0.8865" stop-color="#360047"/><stop offset="0.8919" stop-color="#360047"/><stop offset="0.8973" stop-color="#360046"/><stop offset="0.9027" stop-color="#360046"/><stop offset="0.9081" stop-color="#350046"/><stop offset="0.9135" stop-color="#350045"/><stop offset="0.9243" stop-color="#350045"/><stop offset="0.9297" stop-color="#350044"/><stop offset="0.9459" stop-color="#350044"/><stop offset="0.9514" stop-color="#350043"/><stop offset="0.9568" stop-color="#350043"/><stop offset="0.9622" stop-color="#340043"/><stop offset="0.9730" stop-color="#340043"/><stop offset="0.9784" stop-color="#340042"/><stop offset="1.0000" stop-color="#340042"/></linearGradient>
<linearGradient id="hb4" x1="0" y1="1530.0" x2="0" y2="1715.0" gradientUnits="userSpaceOnUse"><stop offset="0.0000" stop-color="#340042"/><stop offset="0.0108" stop-color="#340042"/><stop offset="0.0162" stop-color="#340043"/><stop offset="0.0270" stop-color="#340043"/><stop offset="0.0324" stop-color="#350043"/><stop offset="0.0378" stop-color="#350043"/><stop offset="0.0432" stop-color="#350044"/><stop offset="0.0595" stop-color="#350044"/><stop offset="0.0649" stop-color="#350045"/><stop offset="0.0757" stop-color="#350045"/><stop offset="0.0811" stop-color="#360046"/><stop offset="0.0865" stop-color="#360046"/><stop offset="0.0919" stop-color="#360047"/><stop offset="0.1027" stop-color="#360047"/><stop offset="0.1081" stop-color="#360048"/><stop offset="0.1135" stop-color="#370049"/><stop offset="0.1189" stop-color="#370049"/><stop offset="0.1243" stop-color="#37004a"/><stop offset="0.1297" stop-color="#37004a"/><stop offset="0.1351" stop-color="#38004b"/><stop offset="0.1405" stop-color="#38004c"/><stop offset="0.1459" stop-color="#38004d"/><stop offset="0.1514" stop-color="#39004e"/><stop offset="0.1568" stop-color="#39004f"/><stop offset="0.1622" stop-color="#390050"/><stop offset="0.1676" stop-color="#3a0051"/><stop offset="0.1730" stop-color="#3a0052"/><stop offset="0.1784" stop-color="#3b0053"/><stop offset="0.1838" stop-color="#3b0055"/><stop offset="0.1892" stop-color="#3c0056"/><stop offset="0.1946" stop-color="#3c0058"/><stop offset="0.2000" stop-color="#3d005a"/><stop offset="0.2054" stop-color="#3e005b"/><stop offset="0.2108" stop-color="#3e005d"/><stop offset="0.2162" stop-color="#3f0060"/><stop offset="0.2216" stop-color="#400062"/><stop offset="0.2270" stop-color="#410064"/><stop offset="0.2324" stop-color="#420067"/><stop offset="0.2378" stop-color="#43006a"/><stop offset="0.2432" stop-color="#44006d"/><stop offset="0.2486" stop-color="#450071"/><stop offset="0.2541" stop-color="#460074"/><stop offset="0.2595" stop-color="#470078"/><stop offset="0.2649" stop-color="#49007c"/><stop offset="0.2703" stop-color="#4a0081"/><stop offset="0.2757" stop-color="#4c0086"/><stop offset="0.2811" stop-color="#4d008b"/><stop offset="0.2865" stop-color="#4f0090"/><stop offset="0.2919" stop-color="#510096"/><stop offset="0.2973" stop-color="#53009c"/><stop offset="0.3027" stop-color="#5500a3"/><stop offset="0.3081" stop-color="#5700aa"/><stop offset="0.3135" stop-color="#5900b1"/><stop offset="0.3189" stop-color="#5b01b9"/><stop offset="0.3243" stop-color="#5e01c0"/><stop offset="0.3297" stop-color="#6101c8"/><stop offset="0.3351" stop-color="#6401d1"/><stop offset="0.3405" stop-color="#6701d9"/><stop offset="0.3459" stop-color="#6a01e1"/><stop offset="0.3514" stop-color="#6d02e9"/><stop offset="0.3568" stop-color="#7102f0"/><stop offset="0.3622" stop-color="#7402f6"/><stop offset="0.3676" stop-color="#7803fb"/><stop offset="0.3730" stop-color="#7c03fe"/><stop offset="0.3784" stop-color="#8104ff"/><stop offset="0.3838" stop-color="#8505fc"/><stop offset="0.3892" stop-color="#8a06f6"/><stop offset="0.3946" stop-color="#8f08ea"/><stop offset="0.4000" stop-color="#940ad9"/><stop offset="0.4054" stop-color="#9a0cc0"/><stop offset="0.4108" stop-color="#a00fa0"/><stop offset="0.4162" stop-color="#a61377"/><stop offset="0.4216" stop-color="#ac1846"/><stop offset="0.4270" stop-color="#b31e0d"/><stop offset="0.4324" stop-color="#b31f07"/><stop offset="0.5568" stop-color="#b31f07"/><stop offset="0.5622" stop-color="#b21e13"/><stop offset="0.5676" stop-color="#ab184c"/><stop offset="0.5730" stop-color="#a5137c"/><stop offset="0.5784" stop-color="#9f0fa4"/><stop offset="0.5838" stop-color="#990cc3"/><stop offset="0.5892" stop-color="#940adb"/><stop offset="0.5946" stop-color="#8f08ec"/><stop offset="0.6000" stop-color="#8a06f7"/><stop offset="0.6054" stop-color="#8505fd"/><stop offset="0.6108" stop-color="#8004ff"/><stop offset="0.6162" stop-color="#7c03fe"/><stop offset="0.6216" stop-color="#7803fb"/><stop offset="0.6270" stop-color="#7402f6"/><stop offset="0.6324" stop-color="#7002ef"/><stop offset="0.6378" stop-color="#6d02e8"/><stop offset="0.6432" stop-color="#6901e0"/><stop offset="0.6486" stop-color="#6601d8"/><stop offset="0.6541" stop-color="#6301d0"/><stop offset="0.6595" stop-color="#6001c8"/><stop offset="0.6649" stop-color="#5e01c0"/><stop offset="0.6703" stop-color="#5b01b8"/><stop offset="0.6757" stop-color="#5900b0"/><stop offset="0.6811" stop-color="#5700a9"/><stop offset="0.6865" stop-color="#5400a2"/><stop offset="0.6919" stop-color="#52009c"/><stop offset="0.6973" stop-color="#500095"/><stop offset="0.7027" stop-color="#4f0090"/><stop offset="0.7081" stop-color="#4d008a"/><stop offset="0.7135" stop-color="#4b0085"/><stop offset="0.7189" stop-color="#4a0080"/><stop offset="0.7243" stop-color="#48007c"/><stop offset="0.7297" stop-color="#470078"/><stop offset="0.7351" stop-color="#460074"/><stop offset="0.7405" stop-color="#450070"/><stop offset="0.7459" stop-color="#44006d"/><stop offset="0.7514" stop-color="#43006a"/><stop offset="0.7568" stop-color="#420067"/><stop offset="0.7622" stop-color="#410064"/><stop offset="0.7676" stop-color="#400062"/><stop offset="0.7730" stop-color="#3f005f"/><stop offset="0.7784" stop-color="#3e005d"/><stop offset="0.7838" stop-color="#3e005b"/><stop offset="0.7892" stop-color="#3d0059"/><stop offset="0.7946" stop-color="#3c0058"/><stop offset="0.8000" stop-color="#3c0056"/><stop offset="0.8054" stop-color="#3b0055"/><stop offset="0.8108" stop-color="#3b0053"/><stop offset="0.8162" stop-color="#3a0052"/><stop offset="0.8216" stop-color="#3a0051"/><stop offset="0.8270" stop-color="#390050"/><stop offset="0.8324" stop-color="#39004f"/><stop offset="0.8378" stop-color="#39004e"/><stop offset="0.8432" stop-color="#38004d"/><stop offset="0.8486" stop-color="#38004c"/><stop offset="0.8541" stop-color="#38004b"/><stop offset="0.8595" stop-color="#37004a"/><stop offset="0.8649" stop-color="#37004a"/><stop offset="0.8703" stop-color="#370049"/><stop offset="0.8757" stop-color="#370048"/><stop offset="0.8811" stop-color="#360048"/><stop offset="0.8865" stop-color="#360047"/><stop offset="0.8973" stop-color="#360047"/><stop offset="0.9027" stop-color="#360046"/><stop offset="0.9081" stop-color="#360046"/><stop offset="0.9135" stop-color="#350045"/><stop offset="0.9243" stop-color="#350045"/><stop offset="0.9297" stop-color="#350044"/><stop offset="0.9459" stop-color="#350044"/><stop offset="0.9514" stop-color="#350043"/><stop offset="0.9568" stop-color="#350043"/><stop offset="0.9622" stop-color="#340043"/><stop offset="0.9730" stop-color="#340043"/><stop offset="0.9784" stop-color="#340042"/><stop offset="1.0000" stop-color="#340042"/></linearGradient>
<linearGradient id="hb5" x1="0" y1="1530.0" x2="0" y2="1715.0" gradientUnits="userSpaceOnUse"><stop offset="0.0000" stop-color="#340042"/><stop offset="0.0054" stop-color="#340042"/><stop offset="0.0108" stop-color="#340043"/><stop offset="0.0216" stop-color="#340043"/><stop offset="0.0270" stop-color="#350043"/><stop offset="0.0324" stop-color="#350043"/><stop offset="0.0378" stop-color="#350044"/><stop offset="0.0486" stop-color="#350044"/><stop offset="0.0541" stop-color="#350045"/><stop offset="0.0649" stop-color="#350045"/><stop offset="0.0703" stop-color="#350046"/><stop offset="0.0757" stop-color="#360046"/><stop offset="0.0811" stop-color="#360046"/><stop offset="0.0865" stop-color="#360047"/><stop offset="0.0919" stop-color="#360047"/><stop offset="0.0973" stop-color="#360048"/><stop offset="0.1027" stop-color="#370048"/><stop offset="0.1081" stop-color="#370049"/><stop offset="0.1135" stop-color="#370049"/><stop offset="0.1189" stop-color="#37004a"/><stop offset="0.1243" stop-color="#37004b"/><stop offset="0.1297" stop-color="#38004b"/><stop offset="0.1351" stop-color="#38004c"/><stop offset="0.1405" stop-color="#38004d"/><stop offset="0.1459" stop-color="#39004e"/><stop offset="0.1514" stop-color="#39004f"/><stop offset="0.1568" stop-color="#390050"/><stop offset="0.1622" stop-color="#3a0051"/><stop offset="0.1676" stop-color="#3a0052"/><stop offset="0.1730" stop-color="#3b0054"/><stop offset="0.1784" stop-color="#3b0055"/><stop offset="0.1838" stop-color="#3c0056"/><stop offset="0.1892" stop-color="#3c0058"/><stop offset="0.1946" stop-color="#3d005a"/><stop offset="0.2000" stop-color="#3e005c"/><stop offset="0.2054" stop-color="#3e005e"/><stop offset="0.2108" stop-color="#3f0060"/><stop offset="0.2162" stop-color="#400062"/><stop offset="0.2216" stop-color="#410064"/><stop offset="0.2270" stop-color="#420067"/><stop offset="0.2324" stop-color="#42006a"/><stop offset="0.2378" stop-color="#43006d"/><stop offset="0.2432" stop-color="#450070"/><stop offset="0.2486" stop-color="#460073"/><stop offset="0.2541" stop-color="#470077"/><stop offset="0.2595" stop-color="#48007b"/><stop offset="0.2649" stop-color="#49007f"/><stop offset="0.2703" stop-color="#4b0083"/><stop offset="0.2757" stop-color="#4c0088"/><stop offset="0.2811" stop-color="#4e008d"/><stop offset="0.2865" stop-color="#4f0092"/><stop offset="0.2919" stop-color="#510098"/><stop offset="0.2973" stop-color="#53009e"/><stop offset="0.3027" stop-color="#5500a4"/><stop offset="0.3081" stop-color="#5700ab"/><stop offset="0.3135" stop-color="#5900b1"/><stop offset="0.3189" stop-color="#5b01b9"/><stop offset="0.3243" stop-color="#5e01c0"/><stop offset="0.3297" stop-color="#6001c7"/><stop offset="0.3351" stop-color="#6301cf"/><stop offset="0.3405" stop-color="#6601d7"/><stop offset="0.3459" stop-color="#6901de"/><stop offset="0.3514" stop-color="#6c01e6"/><stop offset="0.3568" stop-color="#6f02ed"/><stop offset="0.3622" stop-color="#7202f3"/><stop offset="0.3676" stop-color="#7602f8"/><stop offset="0.3730" stop-color="#7a03fc"/><stop offset="0.3784" stop-color="#7e04ff"/><stop offset="0.3838" stop-color="#8204ff"/><stop offset="0.3892" stop-color="#8605fc"/><stop offset="0.3946" stop-color="#8a06f5"/><stop offset="0.4000" stop-color="#8f08ea"/><stop offset="0.4054" stop-color="#940adb"/><stop offset="0.4108" stop-color="#990cc5"/><stop offset="0.4162" stop-color="#9e0fa9"/><stop offset="0.4216" stop-color="#a41285"/><stop offset="0.4270" stop-color="#aa165a"/><stop offset="0.4324" stop-color="#aa1756"/><stop offset="0.5568" stop-color="#aa1756"/><stop offset="0.5622" stop-color="#a9165f"/><stop offset="0.5676" stop-color="#a31289"/><stop offset="0.5730" stop-color="#9e0eac"/><stop offset="0.5784" stop-color="#980cc7"/><stop offset="0.5838" stop-color="#9309dc"/><stop offset="0.5892" stop-color="#8e08ec"/><stop offset="0.5946" stop-color="#8a06f6"/><stop offset="0.6000" stop-color="#8505fc"/><stop offset="0.6054" stop-color="#8104ff"/><stop offset="0.6108" stop-color="#7d04ff"/><stop offset="0.6162" stop-color="#7903fc"/><stop offset="0.6216" stop-color="#7602f8"/><stop offset="0.6270" stop-color="#7202f3"/><stop offset="0.6324" stop-color="#6f02ec"/><stop offset="0.6378" stop-color="#6c01e5"/><stop offset="0.6432" stop-color="#6801de"/><stop offset="0.6486" stop-color="#6601d6"/><stop offset="0.6541" stop-color="#6301ce"/><stop offset="0.6595" stop-color="#6001c7"/><stop offset="0.6649" stop-color="#5e01bf"/><stop offset="0.6703" stop-color="#5b01b8"/><stop offset="0.6757" stop-color="#5900b1"/><stop offset="0.6811" stop-color="#5700aa"/><stop offset="0.6865" stop-color="#5500a3"/><stop offset="0.6919" stop-color="#53009d"/><stop offset="0.6973" stop-color="#510097"/><stop offset="0.7027" stop-color="#4f0092"/><stop offset="0.7081" stop-color="#4e008c"/><stop offset="0.7135" stop-color="#4c0087"/><stop offset="0.7189" stop-color="#4b0083"/><stop offset="0.7243" stop-color="#49007e"/><stop offset="0.7297" stop-color="#48007a"/><stop offset="0.7351" stop-color="#470076"/><stop offset="0.7405" stop-color="#460073"/><stop offset="0.7459" stop-color="#44006f"/><stop offset="0.7514" stop-color="#43006c"/><stop offset="0.7568" stop-color="#420069"/><stop offset="0.7622" stop-color="#410067"/><stop offset="0.7676" stop-color="#410064"/><stop offset="0.7730" stop-color="#400062"/><stop offset="0.7784" stop-color="#3f005f"/><stop offset="0.7838" stop-color="#3e005d"/><stop offset="0.7892" stop-color="#3e005b"/><stop offset="0.7946" stop-color="#3d005a"/><stop offset="0.8000" stop-color="#3c0058"/><stop offset="0.8054" stop-color="#3c0056"/><stop offset="0.8108" stop-color="#3b0055"/><stop offset="0.8162" stop-color="#3b0053"/><stop offset="0.8216" stop-color="#3a0052"/><stop offset="0.8270" stop-color="#3a0051"/><stop offset="0.8324" stop-color="#390050"/><stop offset="0.8378" stop-color="#39004f"/><stop offset="0.8432" stop-color="#39004e"/><stop offset="0.8486" stop-color="#38004d"/><stop offset="0.8541" stop-color="#38004c"/><stop offset="0.8595" stop-color="#38004b"/><stop offset="0.8649" stop-color="#37004b"/><stop offset="0.8703" stop-color="#37004a"/><stop offset="0.8757" stop-color="#370049"/><stop offset="0.8811" stop-color="#370049"/><stop offset="0.8865" stop-color="#360048"/><stop offset="0.8919" stop-color="#360048"/><stop offset="0.8973" stop-color="#360047"/><stop offset="0.9027" stop-color="#360047"/><stop offset="0.9081" stop-color="#360046"/><stop offset="0.9135" stop-color="#360046"/><stop offset="0.9189" stop-color="#350045"/><stop offset="0.9351" stop-color="#350045"/><stop offset="0.9405" stop-color="#350044"/><stop offset="0.9514" stop-color="#350044"/><stop offset="0.9568" stop-color="#350043"/><stop offset="0.9622" stop-color="#350043"/><stop offset="0.9676" stop-color="#340043"/><stop offset="0.9784" stop-color="#340043"/><stop offset="0.9838" stop-color="#340042"/><stop offset="1.0000" stop-color="#340042"/></linearGradient>
<linearGradient id="hb6" x1="0" y1="1530.0" x2="0" y2="1715.0" gradientUnits="userSpaceOnUse"><stop offset="0.0000" stop-color="#340043"/><stop offset="0.0108" stop-color="#340043"/><stop offset="0.0162" stop-color="#350043"/><stop offset="0.0216" stop-color="#350043"/><stop offset="0.0270" stop-color="#350044"/><stop offset="0.0432" stop-color="#350044"/><stop offset="0.0486" stop-color="#350045"/><stop offset="0.0595" stop-color="#350045"/><stop offset="0.0649" stop-color="#360046"/><stop offset="0.0703" stop-color="#360046"/><stop offset="0.0757" stop-color="#360047"/><stop offset="0.0811" stop-color="#360047"/><stop offset="0.0865" stop-color="#360048"/><stop offset="0.0919" stop-color="#360048"/><stop offset="0.0973" stop-color="#370049"/><stop offset="0.1027" stop-color="#370049"/><stop offset="0.1081" stop-color="#37004a"/><stop offset="0.1135" stop-color="#37004a"/><stop offset="0.1189" stop-color="#38004b"/><stop offset="0.1243" stop-color="#38004c"/><stop offset="0.1297" stop-color="#38004d"/><stop offset="0.1351" stop-color="#39004e"/><stop offset="0.1405" stop-color="#39004e"/><stop offset="0.1459" stop-color="#39004f"/><stop offset="0.1514" stop-color="#3a0050"/><stop offset="0.1568" stop-color="#3a0052"/><stop offset="0.1622" stop-color="#3a0053"/><stop offset="0.1676" stop-color="#3b0054"/><stop offset="0.1730" stop-color="#3b0055"/><stop offset="0.1784" stop-color="#3c0057"/><stop offset="0.1838" stop-color="#3d0058"/><stop offset="0.1892" stop-color="#3d005a"/><stop offset="0.1946" stop-color="#3e005c"/><stop offset="0.2000" stop-color="#3e005e"/><stop offset="0.2054" stop-color="#3f0060"/><stop offset="0.2108" stop-color="#400062"/><stop offset="0.2162" stop-color="#410064"/><stop offset="0.2216" stop-color="#410067"/><stop offset="0.2270" stop-color="#420069"/><stop offset="0.2324" stop-color="#43006c"/><stop offset="0.2378" stop-color="#44006f"/><stop offset="0.2432" stop-color="#450072"/><stop offset="0.2486" stop-color="#460076"/><stop offset="0.2541" stop-color="#480079"/><stop offset="0.2595" stop-color="#49007d"/><stop offset="0.2649" stop-color="#4a0081"/><stop offset="0.2703" stop-color="#4b0085"/><stop offset="0.2757" stop-color="#4d008a"/><stop offset="0.2811" stop-color="#4e008f"/><stop offset="0.2865" stop-color="#500094"/><stop offset="0.2919" stop-color="#520099"/><stop offset="0.2973" stop-color="#53009f"/><stop offset="0.3027" stop-color="#5500a5"/><stop offset="0.3081" stop-color="#5700ab"/><stop offset="0.3135" stop-color="#5900b1"/><stop offset="0.3189" stop-color="#5b01b8"/><stop offset="0.3243" stop-color="#5e01bf"/><stop offset="0.3297" stop-color="#6001c6"/><stop offset="0.3351" stop-color="#6201cd"/><stop offset="0.3405" stop-color="#6501d4"/><stop offset="0.3459" stop-color="#6801dc"/><stop offset="0.3514" stop-color="#6a01e3"/><stop offset="0.3568" stop-color="#6d02e9"/><stop offset="0.3622" stop-color="#7002f0"/><stop offset="0.3676" stop-color="#7402f5"/><stop offset="0.3730" stop-color="#7703fa"/><stop offset="0.3784" stop-color="#7b03fd"/><stop offset="0.3838" stop-color="#7e04ff"/><stop offset="0.3892" stop-color="#8204ff"/><stop offset="0.3946" stop-color="#8605fc"/><stop offset="0.4000" stop-color="#8a06f6"/><stop offset="0.4054" stop-color="#8e08ec"/><stop offset="0.4108" stop-color="#9309de"/><stop offset="0.4162" stop-color="#980bcb"/><stop offset="0.4216" stop-color="#9d0eb2"/><stop offset="0.4270" stop-color="#a21193"/><stop offset="0.4324" stop-color="#a21190"/><stop offset="0.5568" stop-color="#a21190"/><stop offset="0.5622" stop-color="#a11097"/><stop offset="0.5676" stop-color="#9c0db5"/><stop offset="0.5730" stop-color="#970bcd"/><stop offset="0.5784" stop-color="#9309df"/><stop offset="0.5838" stop-color="#8e08ed"/><stop offset="0.5892" stop-color="#8a06f6"/><stop offset="0.5946" stop-color="#8605fc"/><stop offset="0.6000" stop-color="#8204ff"/><stop offset="0.6054" stop-color="#7e04ff"/><stop offset="0.6108" stop-color="#7a03fd"/><stop offset="0.6162" stop-color="#7703f9"/><stop offset="0.6216" stop-color="#7302f5"/><stop offset="0.6270" stop-color="#7002ef"/><stop offset="0.6324" stop-color="#6d02e9"/><stop offset="0.6378" stop-color="#6a01e2"/><stop offset="0.6432" stop-color="#6701db"/><stop offset="0.6486" stop-color="#6501d4"/><stop offset="0.6541" stop-color="#6201cc"/><stop offset="0.6595" stop-color="#6001c5"/><stop offset="0.6649" stop-color="#5d01be"/><stop offset="0.6703" stop-color="#5b01b7"/><stop offset="0.6757" stop-color="#5900b1"/><stop offset="0.6811" stop-color="#5700aa"/><stop offset="0.6865" stop-color="#5500a4"/><stop offset="0.6919" stop-color="#53009e"/><stop offset="0.6973" stop-color="#510099"/><stop offset="0.7027" stop-color="#500093"/><stop offset="0.7081" stop-color="#4e008e"/><stop offset="0.7135" stop-color="#4d0089"/><stop offset="0.7189" stop-color="#4b0085"/><stop offset="0.7243" stop-color="#4a0081"/><stop offset="0.7297" stop-color="#49007d"/><stop offset="0.7351" stop-color="#470079"/><stop offset="0.7405" stop-color="#460075"/><stop offset="0.7459" stop-color="#450072"/><stop offset="0.7514" stop-color="#44006f"/><stop offset="0.7568" stop-color="#43006c"/><stop offset="0.7622" stop-color="#420069"/><stop offset="0.7676" stop-color="#410066"/><stop offset="0.7730" stop-color="#410064"/><stop offset="0.7784" stop-color="#400062"/><stop offset="0.7838" stop-color="#3f005f"/><stop offset="0.7892" stop-color="#3e005d"/><stop offset="0.7946" stop-color="#3e005c"/><stop offset="0.8000" stop-color="#3d005a"/><stop offset="0.8054" stop-color="#3c0058"/><stop offset="0.8108" stop-color="#3c0057"/><stop offset="0.8162" stop-color="#3b0055"/><stop offset="0.8216" stop-color="#3b0054"/><stop offset="0.8270" stop-color="#3a0053"/><stop offset="0.8324" stop-color="#3a0051"/><stop offset="0.8378" stop-color="#3a0050"/><stop offset="0.8432" stop-color="#39004f"/><stop offset="0.8486" stop-color="#39004e"/><stop offset="0.8541" stop-color="#39004d"/><stop offset="0.8595" stop-color="#38004d"/><stop offset="0.8649" stop-color="#38004c"/><stop offset="0.8703" stop-color="#38004b"/><stop offset="0.8757" stop-color="#37004a"/><stop offset="0.8811" stop-color="#37004a"/><stop offset="0.8865" stop-color="#370049"/><stop offset="0.8919" stop-color="#370048"/><stop offset="0.8973" stop-color="#360048"/><stop offset="0.9027" stop-color="#360047"/><stop offset="0.9135" stop-color="#360047"/><stop offset="0.9189" stop-color="#360046"/><stop offset="0.9243" stop-color="#360046"/><stop offset="0.9297" stop-color="#350045"/><stop offset="0.9405" stop-color="#350045"/><stop offset="0.9459" stop-color="#350044"/><stop offset="0.9622" stop-color="#350044"/><stop offset="0.9676" stop-color="#350043"/><stop offset="0.9730" stop-color="#350043"/><stop offset="0.9784" stop-color="#340043"/><stop offset="0.9892" stop-color="#340043"/><stop offset="0.9946" stop-color="#340042"/><stop offset="1.0000" stop-color="#340042"/></linearGradient>
<linearGradient id="hb7" x1="0" y1="1530.0" x2="0" y2="1715.0" gradientUnits="userSpaceOnUse"><stop offset="0.0000" stop-color="#340043"/><stop offset="0.0054" stop-color="#350043"/><stop offset="0.0108" stop-color="#350043"/><stop offset="0.0162" stop-color="#350044"/><stop offset="0.0324" stop-color="#350044"/><stop offset="0.0378" stop-color="#350045"/><stop offset="0.0486" stop-color="#350045"/><stop offset="0.0541" stop-color="#360046"/><stop offset="0.0595" stop-color="#360046"/><stop offset="0.0649" stop-color="#360047"/><stop offset="0.0757" stop-color="#360047"/><stop offset="0.0811" stop-color="#360048"/><stop offset="0.0865" stop-color="#370048"/><stop offset="0.0919" stop-color="#370049"/><stop offset="0.0973" stop-color="#37004a"/><stop offset="0.1027" stop-color="#37004a"/><stop offset="0.1081" stop-color="#38004b"/><stop offset="0.1135" stop-color="#38004c"/><stop offset="0.1189" stop-color="#38004c"/><stop offset="0.1243" stop-color="#38004d"/><stop offset="0.1297" stop-color="#39004e"/><stop offset="0.1351" stop-color="#39004f"/><stop offset="0.1405" stop-color="#390050"/><stop offset="0.1459" stop-color="#3a0051"/><stop offset="0.1514" stop-color="#3a0052"/><stop offset="0.1568" stop-color="#3b0053"/><stop offset="0.1622" stop-color="#3b0055"/><stop offset="0.1676" stop-color="#3c0056"/><stop offset="0.1730" stop-color="#3c0057"/><stop offset="0.1784" stop-color="#3d0059"/><stop offset="0.1838" stop-color="#3d005a"/><stop offset="0.1892" stop-color="#3e005c"/><stop offset="0.1946" stop-color="#3f005e"/><stop offset="0.2000" stop-color="#3f0060"/><stop offset="0.2054" stop-color="#400062"/><stop offset="0.2108" stop-color="#410064"/><stop offset="0.2162" stop-color="#410067"/><stop offset="0.2216" stop-color="#420069"/><stop offset="0.2270" stop-color="#43006c"/><stop offset="0.2324" stop-color="#44006e"/><stop offset="0.2378" stop-color="#450071"/><stop offset="0.2432" stop-color="#460075"/><stop offset="0.2486" stop-color="#470078"/><stop offset="0.2541" stop-color="#48007b"/><stop offset="0.2595" stop-color="#4a007f"/><stop offset="0.2649" stop-color="#4b0083"/><stop offset="0.2703" stop-color="#4c0087"/><stop offset="0.2757" stop-color="#4d008c"/><stop offset="0.2811" stop-color="#4f0090"/><stop offset="0.2865" stop-color="#500095"/><stop offset="0.2919" stop-color="#52009a"/><stop offset="0.2973" stop-color="#5400a0"/><stop offset="0.3027" stop-color="#5500a5"/><stop offset="0.3081" stop-color="#5700ab"/><stop offset="0.3135" stop-color="#5900b1"/><stop offset="0.3189" stop-color="#5b01b8"/><stop offset="0.3243" stop-color="#5d01be"/><stop offset="0.3297" stop-color="#6001c5"/><stop offset="0.3351" stop-color="#6201cc"/><stop offset="0.3405" stop-color="#6401d2"/><stop offset="0.3459" stop-color="#6701d9"/><stop offset="0.3514" stop-color="#6901e0"/><stop offset="0.3568" stop-color="#6c01e6"/><stop offset="0.3622" stop-color="#6f02ec"/><stop offset="0.3676" stop-color="#7202f2"/><stop offset="0.3730" stop-color="#7502f7"/><stop offset="0.3784" stop-color="#7803fb"/><stop offset="0.3838" stop-color="#7b03fe"/><stop offset="0.3892" stop-color="#7f04ff"/><stop offset="0.3946" stop-color="#8205fe"/><stop offset="0.4000" stop-color="#8605fb"/><stop offset="0.4054" stop-color="#8a06f6"/><stop offset="0.4108" stop-color="#8e08ed"/><stop offset="0.4162" stop-color="#9209e0"/><stop offset="0.4216" stop-color="#970bcf"/><stop offset="0.4270" stop-color="#9b0db9"/><stop offset="0.4324" stop-color="#9c0db7"/><stop offset="0.5568" stop-color="#9c0db7"/><stop offset="0.5622" stop-color="#9b0dbc"/><stop offset="0.5676" stop-color="#960bd1"/><stop offset="0.5730" stop-color="#9209e2"/><stop offset="0.5784" stop-color="#8e08ee"/><stop offset="0.5838" stop-color="#8a06f6"/><stop offset="0.5892" stop-color="#8605fc"/><stop offset="0.5946" stop-color="#8204fe"/><stop offset="0.6000" stop-color="#7e04ff"/><stop offset="0.6054" stop-color="#7b03fe"/><stop offset="0.6108" stop-color="#7803fb"/><stop offset="0.6162" stop-color="#7502f7"/><stop offset="0.6216" stop-color="#7102f2"/><stop offset="0.6270" stop-color="#6f02ec"/><stop offset="0.6324" stop-color="#6c01e6"/><stop offset="0.6378" stop-color="#6901df"/><stop offset="0.6432" stop-color="#6601d9"/><stop offset="0.6486" stop-color="#6401d2"/><stop offset="0.6541" stop-color="#6201cb"/><stop offset="0.6595" stop-color="#5f01c4"/><stop offset="0.6649" stop-color="#5d01be"/><stop offset="0.6703" stop-color="#5b01b7"/><stop offset="0.6757" stop-color="#5900b1"/><stop offset="0.6811" stop-color="#5700ab"/><stop offset="0.6865" stop-color="#5500a5"/><stop offset="0.6919" stop-color="#54009f"/><stop offset="0.6973" stop-color="#52009a"/><stop offset="0.7027" stop-color="#500095"/><stop offset="0.7081" stop-color="#4f0090"/><stop offset="0.7135" stop-color="#4d008b"/><stop offset="0.7189" stop-color="#4c0087"/><stop offset="0.7243" stop-color="#4b0083"/><stop offset="0.7297" stop-color="#49007f"/><stop offset="0.7351" stop-color="#48007b"/><stop offset="0.7405" stop-color="#470078"/><stop offset="0.7459" stop-color="#460074"/><stop offset="0.7514" stop-color="#450071"/><stop offset="0.7568" stop-color="#44006e"/><stop offset="0.7622" stop-color="#43006b"/><stop offset="0.7676" stop-color="#420069"/><stop offset="0.7730" stop-color="#410066"/><stop offset="0.7784" stop-color="#410064"/><stop offset="0.7838" stop-color="#400062"/><stop offset="0.7892" stop-color="#3f0060"/><stop offset="0.7946" stop-color="#3e005e"/><stop offset="0.8000" stop-color="#3e005c"/><stop offset="0.8054" stop-color="#3d005a"/><stop offset="0.8108" stop-color="#3d0059"/><stop offset="0.8162" stop-color="#3c0057"/><stop offset="0.8216" stop-color="#3c0056"/><stop offset="0.8270" stop-color="#3b0054"/><stop offset="0.8324" stop-color="#3b0053"/><stop offset="0.8378" stop-color="#3a0052"/><stop offset="0.8432" stop-color="#3a0051"/><stop offset="0.8486" stop-color="#390050"/><stop offset="0.8541" stop-color="#39004f"/><stop offset="0.8595" stop-color="#39004e"/><stop offset="0.8649" stop-color="#38004d"/><stop offset="0.8703" stop-color="#38004c"/><stop offset="0.8757" stop-color="#38004c"/><stop offset="0.8811" stop-color="#38004b"/><stop offset="0.8865" stop-color="#37004a"/><stop offset="0.8919" stop-color="#37004a"/><stop offset="0.8973" stop-color="#370049"/><stop offset="0.9027" stop-color="#370048"/><stop offset="0.9081" stop-color="#360048"/><stop offset="0.9135" stop-color="#360047"/><stop offset="0.9243" stop-color="#360047"/><stop offset="0.9297" stop-color="#360046"/><stop offset="0.9351" stop-color="#360046"/><stop offset="0.9405" stop-color="#350045"/><stop offset="0.9514" stop-color="#350045"/><stop offset="0.9568" stop-color="#350044"/><stop offset="0.9730" stop-color="#350044"/><stop offset="0.9784" stop-color="#350043"/><stop offset="0.9838" stop-color="#350043"/><stop offset="0.9892" stop-color="#340043"/><stop offset="1.0000" stop-color="#340043"/></linearGradient>
<linearGradient id="hb8" x1="0" y1="1530.0" x2="0" y2="1715.0" gradientUnits="userSpaceOnUse"><stop offset="0.0000" stop-color="#340043"/><stop offset="0.0054" stop-color="#340043"/><stop offset="0.0108" stop-color="#350043"/><stop offset="0.0162" stop-color="#350044"/><stop offset="0.0324" stop-color="#350044"/><stop offset="0.0378" stop-color="#350045"/><stop offset="0.0486" stop-color="#350045"/><stop offset="0.0541" stop-color="#350046"/><stop offset="0.0595" stop-color="#360046"/><stop offset="0.0649" stop-color="#360046"/><stop offset="0.0703" stop-color="#360047"/><stop offset="0.0757" stop-color="#360047"/><stop offset="0.0811" stop-color="#360048"/><stop offset="0.0865" stop-color="#370048"/><stop offset="0.0919" stop-color="#370049"/><stop offset="0.0973" stop-color="#370049"/><stop offset="0.1027" stop-color="#37004a"/><stop offset="0.1081" stop-color="#37004b"/><stop offset="0.1135" stop-color="#38004b"/><stop offset="0.1189" stop-color="#38004c"/><stop offset="0.1243" stop-color="#38004d"/><stop offset="0.1297" stop-color="#39004e"/><stop offset="0.1351" stop-color="#39004e"/><stop offset="0.1405" stop-color="#39004f"/><stop offset="0.1459" stop-color="#3a0050"/><stop offset="0.1514" stop-color="#3a0051"/><stop offset="0.1568" stop-color="#3a0052"/><stop offset="0.1622" stop-color="#3b0054"/><stop offset="0.1676" stop-color="#3b0055"/><stop offset="0.1730" stop-color="#3c0056"/><stop offset="0.1784" stop-color="#3c0058"/><stop offset="0.1838" stop-color="#3d0059"/><stop offset="0.1892" stop-color="#3d005b"/><stop offset="0.1946" stop-color="#3e005c"/><stop offset="0.2000" stop-color="#3f005e"/><stop offset="0.2054" stop-color="#3f0060"/><stop offset="0.2108" stop-color="#400062"/><stop offset="0.2162" stop-color="#410064"/><stop offset="0.2216" stop-color="#410067"/><stop offset="0.2270" stop-color="#420069"/><stop offset="0.2324" stop-color="#43006c"/><stop offset="0.2378" stop-color="#44006e"/><stop offset="0.2432" stop-color="#450071"/><stop offset="0.2486" stop-color="#460074"/><stop offset="0.2541" stop-color="#470078"/><stop offset="0.2595" stop-color="#48007b"/><stop offset="0.2649" stop-color="#49007f"/><stop offset="0.2703" stop-color="#4b0083"/><stop offset="0.2757" stop-color="#4c0087"/><stop offset="0.2811" stop-color="#4d008b"/><stop offset="0.2865" stop-color="#4f008f"/><stop offset="0.2919" stop-color="#500094"/><stop offset="0.2973" stop-color="#520099"/><stop offset="0.3027" stop-color="#53009e"/><stop offset="0.3081" stop-color="#5500a4"/><stop offset="0.3135" stop-color="#5700a9"/><stop offset="0.3189" stop-color="#5800af"/><stop offset="0.3243" stop-color="#5a01b5"/><stop offset="0.3297" stop-color="#5c01bb"/><stop offset="0.3351" stop-color="#5e01c2"/><stop offset="0.3405" stop-color="#6101c8"/><stop offset="0.3459" stop-color="#6301cf"/><stop offset="0.3514" stop-color="#6501d5"/><stop offset="0.3568" stop-color="#6801dc"/><stop offset="0.3622" stop-color="#6a01e2"/><stop offset="0.3676" stop-color="#6d02e9"/><stop offset="0.3730" stop-color="#7002ee"/><stop offset="0.3784" stop-color="#7302f4"/><stop offset="0.3838" stop-color="#7602f8"/><stop offset="0.3892" stop-color="#7903fc"/><stop offset="0.3946" stop-color="#7c03fe"/><stop offset="0.4000" stop-color="#7f04ff"/><stop offset="0.4054" stop-color="#8305fe"/><stop offset="0.4108" stop-color="#8706fb"/><stop offset="0.4162" stop-color="#8a07f5"/><stop offset="0.4216" stop-color="#8e08ec"/><stop offset="0.4270" stop-color="#9209e0"/><stop offset="0.4324" stop-color="#9309de"/><stop offset="0.5568" stop-color="#9309de"/><stop offset="0.5622" stop-color="#9209e1"/><stop offset="0.5676" stop-color="#8e08ed"/><stop offset="0.5730" stop-color="#8a06f6"/><stop offset="0.5784" stop-color="#8605fb"/><stop offset="0.5838" stop-color="#8305fe"/><stop offset="0.5892" stop-color="#7f04ff"/><stop offset="0.5946" stop-color="#7c03fe"/><stop offset="0.6000" stop-color="#7903fb"/><stop offset="0.6054" stop-color="#7502f8"/><stop offset="0.6108" stop-color="#7202f3"/><stop offset="0.6162" stop-color="#7002ee"/><stop offset="0.6216" stop-color="#6d02e8"/><stop offset="0.6270" stop-color="#6a01e2"/><stop offset="0.6324" stop-color="#6801db"/><stop offset="0.6378" stop-color="#6501d5"/><stop offset="0.6432" stop-color="#6301ce"/><stop offset="0.6486" stop-color="#6001c8"/><stop offset="0.6541" stop-color="#5e01c1"/><stop offset="0.6595" stop-color="#5c01bb"/><stop offset="0.6649" stop-color="#5a00b4"/><stop offset="0.6703" stop-color="#5800ae"/><stop offset="0.6757" stop-color="#5600a9"/><stop offset="0.6811" stop-color="#5500a3"/><stop offset="0.6865" stop-color="#53009e"/><stop offset="0.6919" stop-color="#510098"/><stop offset="0.6973" stop-color="#500094"/><stop offset="0.7027" stop-color="#4e008f"/><stop offset="0.7081" stop-color="#4d008a"/><stop offset="0.7135" stop-color="#4c0086"/><stop offset="0.7189" stop-color="#4a0082"/><stop offset="0.7243" stop-color="#49007e"/><stop offset="0.7297" stop-color="#48007b"/><stop offset="0.7351" stop-color="#470077"/><stop offset="0.7405" stop-color="#460074"/><stop offset="0.7459" stop-color="#450071"/><stop offset="0.7514" stop-color="#44006e"/><stop offset="0.7568" stop-color="#43006b"/><stop offset="0.7622" stop-color="#420069"/><stop offset="0.7676" stop-color="#410066"/><stop offset="0.7730" stop-color="#410064"/><stop offset="0.7784" stop-color="#400062"/><stop offset="0.7838" stop-color="#3f0060"/><stop offset="0.7892" stop-color="#3f005e"/><stop offset="0.7946" stop-color="#3e005c"/><stop offset="0.8000" stop-color="#3d005b"/><stop offset="0.8054" stop-color="#3d0059"/><stop offset="0.8108" stop-color="#3c0057"/><stop offset="0.8162" stop-color="#3c0056"/><stop offset="0.8216" stop-color="#3b0055"/><stop offset="0.8270" stop-color="#3b0054"/><stop offset="0.8324" stop-color="#3a0052"/><stop offset="0.8378" stop-color="#3a0051"/><stop offset="0.8432" stop-color="#3a0050"/><stop offset="0.8486" stop-color="#39004f"/><stop offset="0.8541" stop-color="#39004e"/><stop offset="0.8595" stop-color="#39004d"/><stop offset="0.8649" stop-color="#38004d"/><stop offset="0.8703" stop-color="#38004c"/><stop offset="0.8757" stop-color="#38004b"/><stop offset="0.8811" stop-color="#37004a"/><stop offset="0.8865" stop-color="#37004a"/><stop offset="0.8919" stop-color="#370049"/><stop offset="0.8973" stop-color="#370049"/><stop offset="0.9027" stop-color="#360048"/><stop offset="0.9081" stop-color="#360048"/><stop offset="0.9135" stop-color="#360047"/><stop offset="0.9189" stop-color="#360047"/><stop offset="0.9243" stop-color="#360046"/><stop offset="0.9297" stop-color="#360046"/><stop offset="0.9351" stop-color="#350046"/><stop offset="0.9405" stop-color="#350045"/><stop offset="0.9514" stop-color="#350045"/><stop offset="0.9568" stop-color="#350044"/><stop offset="0.9730" stop-color="#350044"/><stop offset="0.9784" stop-color="#350043"/><stop offset="0.9838" stop-color="#340043"/><stop offset="0.9946" stop-color="#340043"/><stop offset="1.0000" stop-color="#340042"/></linearGradient>
<linearGradient id="hb9" x1="0" y1="1530.0" x2="0" y2="1715.0" gradientUnits="userSpaceOnUse"><stop offset="0.0000" stop-color="#340043"/><stop offset="0.0054" stop-color="#340043"/><stop offset="0.0108" stop-color="#350043"/><stop offset="0.0162" stop-color="#350043"/><stop offset="0.0216" stop-color="#350044"/><stop offset="0.0378" stop-color="#350044"/><stop offset="0.0432" stop-color="#350045"/><stop offset="0.0541" stop-color="#350045"/><stop offset="0.0595" stop-color="#360046"/><stop offset="0.0649" stop-color="#360046"/><stop offset="0.0703" stop-color="#360047"/><stop offset="0.0811" stop-color="#360047"/><stop offset="0.0865" stop-color="#360048"/><stop offset="0.0919" stop-color="#370048"/><stop offset="0.0973" stop-color="#370049"/><stop offset="0.1027" stop-color="#37004a"/><stop offset="0.1081" stop-color="#37004a"/><stop offset="0.1135" stop-color="#37004b"/><stop offset="0.1189" stop-color="#38004b"/><stop offset="0.1243" stop-color="#38004c"/><stop offset="0.1297" stop-color="#38004d"/><stop offset="0.1351" stop-color="#39004e"/><stop offset="0.1405" stop-color="#39004f"/><stop offset="0.1459" stop-color="#390050"/><stop offset="0.1514" stop-color="#3a0051"/><stop offset="0.1568" stop-color="#3a0052"/><stop offset="0.1622" stop-color="#3a0053"/><stop offset="0.1676" stop-color="#3b0054"/><stop offset="0.1730" stop-color="#3b0055"/><stop offset="0.1784" stop-color="#3c0056"/><stop offset="0.1838" stop-color="#3c0058"/><stop offset="0.1892" stop-color="#3d0059"/><stop offset="0.1946" stop-color="#3d005b"/><stop offset="0.2000" stop-color="#3e005c"/><stop offset="0.2054" stop-color="#3f005e"/><stop offset="0.2108" stop-color="#3f0060"/><stop offset="0.2162" stop-color="#400062"/><stop offset="0.2216" stop-color="#410064"/><stop offset="0.2270" stop-color="#410066"/><stop offset="0.2324" stop-color="#420069"/><stop offset="0.2378" stop-color="#43006b"/><stop offset="0.2432" stop-color="#44006e"/><stop offset="0.2486" stop-color="#450071"/><stop offset="0.2541" stop-color="#460074"/><stop offset="0.2595" stop-color="#470077"/><stop offset="0.2649" stop-color="#48007a"/><stop offset="0.2703" stop-color="#49007e"/><stop offset="0.2757" stop-color="#4a0081"/><stop offset="0.2811" stop-color="#4b0085"/><stop offset="0.2865" stop-color="#4d0089"/><stop offset="0.2919" stop-color="#4e008e"/><stop offset="0.2973" stop-color="#4f0092"/><stop offset="0.3027" stop-color="#510097"/><stop offset="0.3081" stop-color="#52009c"/><stop offset="0.3135" stop-color="#5400a1"/><stop offset="0.3189" stop-color="#5600a6"/><stop offset="0.3243" stop-color="#5800ac"/><stop offset="0.3297" stop-color="#5900b2"/><stop offset="0.3351" stop-color="#5b01b8"/><stop offset="0.3405" stop-color="#5d01be"/><stop offset="0.3459" stop-color="#5f01c4"/><stop offset="0.3514" stop-color="#6101ca"/><stop offset="0.3568" stop-color="#6401d1"/><stop offset="0.3622" stop-color="#6601d7"/><stop offset="0.3676" stop-color="#6801de"/><stop offset="0.3730" stop-color="#6b01e4"/><stop offset="0.3784" stop-color="#6e02ea"/><stop offset="0.3838" stop-color="#7002ef"/><stop offset="0.3892" stop-color="#7302f4"/><stop offset="0.3946" stop-color="#7603f9"/><stop offset="0.4000" stop-color="#7903fc"/><stop offset="0.4054" stop-color="#7c03fe"/><stop offset="0.4108" stop-color="#8004ff"/><stop offset="0.4162" stop-color="#8305fe"/><stop offset="0.4216" stop-color="#8706fb"/><stop offset="0.4270" stop-color="#8a06f5"/><stop offset="0.4324" stop-color="#8b07f5"/><stop offset="0.5568" stop-color="#8b07f5"/><stop offset="0.5622" stop-color="#8a06f6"/><stop offset="0.5676" stop-color="#8605fb"/><stop offset="0.5730" stop-color="#8305fe"/><stop offset="0.5784" stop-color="#7f04ff"/><stop offset="0.5838" stop-color="#7c03fe"/><stop offset="0.5892" stop-color="#7903fc"/><stop offset="0.5946" stop-color="#7602f8"/><stop offset="0.6000" stop-color="#7302f4"/><stop offset="0.6054" stop-color="#7002ef"/><stop offset="0.6108" stop-color="#6d02e9"/><stop offset="0.6162" stop-color="#6b01e3"/><stop offset="0.6216" stop-color="#6801dd"/><stop offset="0.6270" stop-color="#6601d7"/><stop offset="0.6324" stop-color="#6301d0"/><stop offset="0.6378" stop-color="#6101ca"/><stop offset="0.6432" stop-color="#5f01c3"/><stop offset="0.6486" stop-color="#5d01bd"/><stop offset="0.6541" stop-color="#5b01b7"/><stop offset="0.6595" stop-color="#5900b1"/><stop offset="0.6649" stop-color="#5700ab"/><stop offset="0.6703" stop-color="#5600a6"/><stop offset="0.6757" stop-color="#5400a0"/><stop offset="0.6811" stop-color="#52009b"/><stop offset="0.6865" stop-color="#510096"/><stop offset="0.6919" stop-color="#4f0092"/><stop offset="0.6973" stop-color="#4e008d"/><stop offset="0.7027" stop-color="#4d0089"/><stop offset="0.7081" stop-color="#4b0085"/><stop offset="0.7135" stop-color="#4a0081"/><stop offset="0.7189" stop-color="#49007d"/><stop offset="0.7243" stop-color="#48007a"/><stop offset="0.7297" stop-color="#470077"/><stop offset="0.7351" stop-color="#460073"/><stop offset="0.7405" stop-color="#450071"/><stop offset="0.7459" stop-color="#44006e"/><stop offset="0.7514" stop-color="#43006b"/><stop offset="0.7568" stop-color="#420069"/><stop offset="0.7622" stop-color="#410066"/><stop offset="0.7676" stop-color="#410064"/><stop offset="0.7730" stop-color="#400062"/><stop offset="0.7784" stop-color="#3f0060"/><stop offset="0.7838" stop-color="#3f005e"/><stop offset="0.7892" stop-color="#3e005c"/><stop offset="0.7946" stop-color="#3d005b"/><stop offset="0.8000" stop-color="#3d0059"/><stop offset="0.8054" stop-color="#3c0058"/><stop offset="0.8108" stop-color="#3c0056"/><stop offset="0.8162" stop-color="#3b0055"/><stop offset="0.8216" stop-color="#3b0054"/><stop offset="0.8270" stop-color="#3a0053"/><stop offset="0.8324" stop-color="#3a0051"/><stop offset="0.8378" stop-color="#3a0050"/><stop offset="0.8432" stop-color="#39004f"/><stop offset="0.8486" stop-color="#39004f"/><stop offset="0.8541" stop-color="#39004e"/><stop offset="0.8595" stop-color="#38004d"/><stop offset="0.8649" stop-color="#38004c"/><stop offset="0.8703" stop-color="#38004b"/><stop offset="0.8757" stop-color="#37004b"/><stop offset="0.8811" stop-color="#37004a"/><stop offset="0.8865" stop-color="#370049"/><stop offset="0.8919" stop-color="#370049"/><stop offset="0.8973" stop-color="#370048"/><stop offset="0.9027" stop-color="#360048"/><stop offset="0.9081" stop-color="#360047"/><stop offset="0.9135" stop-color="#360047"/><stop offset="0.9189" stop-color="#360046"/><stop offset="0.9297" stop-color="#360046"/><stop offset="0.9351" stop-color="#350045"/><stop offset="0.9459" stop-color="#350045"/><stop offset="0.9514" stop-color="#350044"/><stop offset="0.9676" stop-color="#350044"/><stop offset="0.9730" stop-color="#350043"/><stop offset="0.9784" stop-color="#350043"/><stop offset="0.9838" stop-color="#340043"/><stop offset="0.9946" stop-color="#340043"/><stop offset="1.0000" stop-color="#340042"/></linearGradient>
</defs>
<rect x="369.0" y="1530.0" width="21.3" height="185.0" fill="url(#hb0)"/>
<rect x="390.0" y="1530.0" width="161.3" height="185.0" fill="url(#hb1)"/>
<rect x="551.0" y="1530.0" width="160.3" height="185.0" fill="url(#hb2)"/>
<rect x="711.0" y="1530.0" width="161.3" height="185.0" fill="url(#hb3)"/>
<rect x="872.0" y="1530.0" width="161.3" height="185.0" fill="url(#hb4)"/>
<rect x="1033.0" y="1530.0" width="160.3" height="185.0" fill="url(#hb5)"/>
<rect x="1193.0" y="1530.0" width="161.3" height="185.0" fill="url(#hb6)"/>
<rect x="1354.0" y="1530.0" width="161.3" height="185.0" fill="url(#hb7)"/>
<rect x="1515.0" y="1530.0" width="161.3" height="185.0" fill="url(#hb8)"/>
<rect x="1676.0" y="1530.0" width="161.5" height="185.0" fill="url(#hb9)"/>
<line x1="336.50" y1="1269.85" x2="336.50" y2="1973.80" stroke="#000" stroke-width="6.8" stroke-linecap="butt" />
<line x1="1861.30" y1="1269.85" x2="1861.30" y2="1973.80" stroke="#000" stroke-width="6.6" stroke-linecap="butt" />
<line x1="333.10" y1="1272.85" x2="1864.60" y2="1272.85" stroke="#000" stroke-width="6.0" stroke-linecap="butt" />
<line x1="333.10" y1="1970.80" x2="1864.60" y2="1970.80" stroke="#000" stroke-width="6.0" stroke-linecap="butt" />
<line x1="368.50" y1="1970.80" x2="368.50" y2="1940.30" stroke="#000" stroke-width="7" stroke-linecap="butt" />
<line x1="368.50" y1="1272.85" x2="368.50" y2="1303.60" stroke="#000" stroke-width="7" stroke-linecap="butt" />
<line x1="530.80" y1="1970.80" x2="530.80" y2="1940.30" stroke="#000" stroke-width="7" stroke-linecap="butt" />
<line x1="530.80" y1="1272.85" x2="530.80" y2="1303.60" stroke="#000" stroke-width="7" stroke-linecap="butt" />
<line x1="693.10" y1="1970.80" x2="693.10" y2="1940.30" stroke="#000" stroke-width="7" stroke-linecap="butt" />
<line x1="693.10" y1="1272.85" x2="693.10" y2="1303.60" stroke="#000" stroke-width="7" stroke-linecap="butt" />
<line x1="855.40" y1="1970.80" x2="855.40" y2="1940.30" stroke="#000" stroke-width="7" stroke-linecap="butt" />
<line x1="855.40" y1="1272.85" x2="855.40" y2="1303.60" stroke="#000" stroke-width="7" stroke-linecap="butt" />
<line x1="1017.70" y1="1970.80" x2="1017.70" y2="1940.30" stroke="#000" stroke-width="7" stroke-linecap="butt" />
<line x1="1017.70" y1="1272.85" x2="1017.70" y2="1303.60" stroke="#000" stroke-width="7" stroke-linecap="butt" />
<line x1="1180.00" y1="1970.80" x2="1180.00" y2="1940.30" stroke="#000" stroke-width="7" stroke-linecap="butt" />
<line x1="1180.00" y1="1272.85" x2="1180.00" y2="1303.60" stroke="#000" stroke-width="7" stroke-linecap="butt" />
<line x1="1342.30" y1="1970.80" x2="1342.30" y2="1940.30" stroke="#000" stroke-width="7" stroke-linecap="butt" />
<line x1="1342.30" y1="1272.85" x2="1342.30" y2="1303.60" stroke="#000" stroke-width="7" stroke-linecap="butt" />
<line x1="1504.60" y1="1970.80" x2="1504.60" y2="1940.30" stroke="#000" stroke-width="7" stroke-linecap="butt" />
<line x1="1504.60" y1="1272.85" x2="1504.60" y2="1303.60" stroke="#000" stroke-width="7" stroke-linecap="butt" />
<line x1="1666.90" y1="1970.80" x2="1666.90" y2="1940.30" stroke="#000" stroke-width="7" stroke-linecap="butt" />
<line x1="1666.90" y1="1272.85" x2="1666.90" y2="1303.60" stroke="#000" stroke-width="7" stroke-linecap="butt" />
<line x1="1829.20" y1="1970.80" x2="1829.20" y2="1940.30" stroke="#000" stroke-width="7" stroke-linecap="butt" />
<line x1="1829.20" y1="1272.85" x2="1829.20" y2="1303.60" stroke="#000" stroke-width="7" stroke-linecap="butt" />
<line x1="336.50" y1="1388.40" x2="373.70" y2="1388.40" stroke="#000" stroke-width="5.2" stroke-linecap="butt" />
<line x1="1825.30" y1="1388.40" x2="1861.30" y2="1388.40" stroke="#000" stroke-width="5.2" stroke-linecap="butt" />
<line x1="336.50" y1="1504.80" x2="373.70" y2="1504.80" stroke="#000" stroke-width="5.2" stroke-linecap="butt" />
<line x1="1825.30" y1="1504.80" x2="1861.30" y2="1504.80" stroke="#000" stroke-width="5.2" stroke-linecap="butt" />
<line x1="336.50" y1="1621.20" x2="373.70" y2="1621.20" stroke="#000" stroke-width="5.2" stroke-linecap="butt" />
<line x1="1825.30" y1="1621.20" x2="1861.30" y2="1621.20" stroke="#000" stroke-width="5.2" stroke-linecap="butt" />
<line x1="336.50" y1="1737.60" x2="373.70" y2="1737.60" stroke="#000" stroke-width="5.2" stroke-linecap="butt" />
<line x1="1825.30" y1="1737.60" x2="1861.30" y2="1737.60" stroke="#000" stroke-width="5.2" stroke-linecap="butt" />
<line x1="336.50" y1="1854.00" x2="373.70" y2="1854.00" stroke="#000" stroke-width="5.2" stroke-linecap="butt" />
<line x1="1825.30" y1="1854.00" x2="1861.30" y2="1854.00" stroke="#000" stroke-width="5.2" stroke-linecap="butt" />
<line x1="337.00" y1="1397.40" x2="1858.00" y2="1397.40" stroke="#00ff00" stroke-width="5.2" stroke-linecap="butt" stroke-dasharray="25.5 23.9"/>
<line x1="337.00" y1="1854.80" x2="1858.00" y2="1854.80" stroke="#00ff00" stroke-width="5.2" stroke-linecap="butt" stroke-dasharray="25.5 23.9"/>
<line x1="337.00" y1="1607.40" x2="1858.00" y2="1607.40" stroke="#008b8b" stroke-width="4.8" stroke-linecap="butt" stroke-dasharray="25.5 23.9"/>
<line x1="337.00" y1="1644.50" x2="1858.00" y2="1644.50" stroke="#008b8b" stroke-width="4.8" stroke-linecap="butt" stroke-dasharray="25.5 23.9"/>
<text transform="matrix(0.6208 0 0 0.5929 878.72 1372.71)" font-size="100" fill="#00ff00">cell’s membrane</text>
<text transform="matrix(0.6116 0 0 0.6056 842.77 1706.08)" font-size="100" fill="#008b8b">nanoparticle limit</text>
<text transform="matrix(0.7524 0 0 0.6637 146.73 1292.14)" font-size="100" fill="#000">1500</text>
<text transform="matrix(0.7492 0 0 0.6504 145.16 1413.15)" font-size="100" fill="#000">1000</text>
<text transform="matrix(0.7707 0 0 0.6607 179.28 1529.34)" font-size="100" fill="#000">500</text>
<text transform="matrix(0.8119 0 0 0.6489 254.45 1644.95)" font-size="100" fill="#000">0</text>
<text transform="matrix(0.7641 0 0 0.6607 137.08 1762.24)" font-size="100" fill="#000"><tspan dy="8">−</tspan><tspan dy="-8">500</tspan></text>
<text transform="matrix(0.7636 0 0 0.6415 98.98 1877.86)" font-size="100" fill="#000"><tspan dy="8">−</tspan><tspan dy="-8">1000</tspan></text>
<text transform="matrix(0.7604 0 0 0.6489 116.00 1974.85)" font-size="100" fill="#000"><tspan dy="8">−</tspan><tspan dy="-8">1500</tspan></text>
<text transform="matrix(0.7625 0 0 0.6812 387.23 2045.62)" font-size="100" fill="#000">5</text>
<text transform="matrix(0.7765 0 0 0.6627 723.81 2045.44)" font-size="100" fill="#000">6</text>
<text transform="matrix(0.8148 0 0 0.6631 1029.50 2046.23)" font-size="100" fill="#000">7</text>
<text transform="matrix(0.7214 0 0 0.6578 1370.11 2045.44)" font-size="100" fill="#000">8</text>
<text transform="matrix(0.7535 0 0 0.6612 1678.84 2045.34)" font-size="100" fill="#000">9</text>
<text transform="matrix(0.8801 0 0 0.6956 882.84 2124.69)" font-size="100" fill="#000">Time (in ns)</text>
<text transform="matrix(0.5200 0 0 0.4956 1042.26 2211.59)" font-size="100" fill="#000">(b)</text>
<text transform="matrix(0.00000 -0.72900 0.88400 0.00000 90.10 2066.20)" font-size="100" fill="#000">Distance along y<tspan dy="7">−</tspan><tspan dy="-7">axis (in nm)</tspan></text>
<defs><linearGradient id="cbb" x1="0" y1="1273.1" x2="0" y2="1970.45" gradientUnits="userSpaceOnUse"><stop offset="0.0000" stop-color="#ffff00"/><stop offset="0.0114" stop-color="#fef600"/><stop offset="0.0227" stop-color="#fcee00"/><stop offset="0.0341" stop-color="#fbe600"/><stop offset="0.0455" stop-color="#f9de00"/><stop offset="0.0568" stop-color="#f8d600"/><stop offset="0.0682" stop-color="#f6ce00"/><stop offset="0.0795" stop-color="#f5c700"/><stop offset="0.0909" stop-color="#f3c000"/><stop offset="0.1023" stop-color="#f2b800"/><stop offset="0.1136" stop-color="#f0b200"/><stop offset="0.1250" stop-color="#efab00"/><stop offset="0.1364" stop-color="#eda400"/><stop offset="0.1477" stop-color="#eb9e00"/><stop offset="0.1591" stop-color="#ea9800"/><stop offset="0.1705" stop-color="#e89200"/><stop offset="0.1818" stop-color="#e78c00"/><stop offset="0.1932" stop-color="#e58600"/><stop offset="0.2045" stop-color="#e38000"/><stop offset="0.2159" stop-color="#e27b00"/><stop offset="0.2273" stop-color="#e07600"/><stop offset="0.2386" stop-color="#df7100"/><stop offset="0.2500" stop-color="#dd6c00"/><stop offset="0.2614" stop-color="#db6700"/><stop offset="0.2727" stop-color="#d96200"/><stop offset="0.2841" stop-color="#d85e00"/><stop offset="0.2955" stop-color="#d65900"/><stop offset="0.3068" stop-color="#d45500"/><stop offset="0.3182" stop-color="#d35100"/><stop offset="0.3295" stop-color="#d14d00"/><stop offset="0.3409" stop-color="#cf4900"/><stop offset="0.3523" stop-color="#cd4500"/><stop offset="0.3636" stop-color="#cb4200"/><stop offset="0.3750" stop-color="#ca3e00"/><stop offset="0.3864" stop-color="#c83b00"/><stop offset="0.3977" stop-color="#c63800"/><stop offset="0.4091" stop-color="#c43500"/><stop offset="0.4205" stop-color="#c23200"/><stop offset="0.4318" stop-color="#c02f00"/><stop offset="0.4432" stop-color="#be2c00"/><stop offset="0.4545" stop-color="#bc2900"/><stop offset="0.4659" stop-color="#ba2700"/><stop offset="0.4773" stop-color="#b82400"/><stop offset="0.4886" stop-color="#b62200"/><stop offset="0.5000" stop-color="#b42000"/><stop offset="0.5114" stop-color="#b21e12"/><stop offset="0.5227" stop-color="#b01c24"/><stop offset="0.5341" stop-color="#ae1a36"/><stop offset="0.5455" stop-color="#ac1848"/><stop offset="0.5568" stop-color="#aa1659"/><stop offset="0.5682" stop-color="#a8156a"/><stop offset="0.5795" stop-color="#a5137a"/><stop offset="0.5909" stop-color="#a3118a"/><stop offset="0.6023" stop-color="#a11099"/><stop offset="0.6136" stop-color="#9f0fa7"/><stop offset="0.6250" stop-color="#9c0db4"/><stop offset="0.6364" stop-color="#9a0cc1"/><stop offset="0.6477" stop-color="#970bcc"/><stop offset="0.6591" stop-color="#950ad7"/><stop offset="0.6705" stop-color="#9209e0"/><stop offset="0.6818" stop-color="#9008e8"/><stop offset="0.6932" stop-color="#8d07ef"/><stop offset="0.7045" stop-color="#8b07f5"/><stop offset="0.7159" stop-color="#8806f9"/><stop offset="0.7273" stop-color="#8505fc"/><stop offset="0.7386" stop-color="#8205fe"/><stop offset="0.7500" stop-color="#8004ff"/><stop offset="0.7614" stop-color="#7d03fe"/><stop offset="0.7727" stop-color="#7a03fc"/><stop offset="0.7841" stop-color="#7603f9"/><stop offset="0.7955" stop-color="#7302f5"/><stop offset="0.8068" stop-color="#7002ef"/><stop offset="0.8182" stop-color="#6d02e8"/><stop offset="0.8295" stop-color="#6901e0"/><stop offset="0.8409" stop-color="#6601d7"/><stop offset="0.8523" stop-color="#6201cc"/><stop offset="0.8636" stop-color="#5e01c1"/><stop offset="0.8750" stop-color="#5a00b4"/><stop offset="0.8864" stop-color="#5600a7"/><stop offset="0.8977" stop-color="#520099"/><stop offset="0.9091" stop-color="#4d008a"/><stop offset="0.9205" stop-color="#48007a"/><stop offset="0.9318" stop-color="#43006a"/><stop offset="0.9432" stop-color="#3d0059"/><stop offset="0.9545" stop-color="#360048"/><stop offset="0.9659" stop-color="#2f0036"/><stop offset="0.9773" stop-color="#260024"/><stop offset="0.9886" stop-color="#1b0012"/><stop offset="1.0000" stop-color="#000000"/></linearGradient></defs>
<rect x="1899.95" y="1273.1" width="75.54999999999995" height="697.3500000000001" fill="url(#cbb)" stroke="#000" stroke-width="6.4"/>
<line x1="1899.95" y1="1336.20" x2="1928.10" y2="1336.20" stroke="#000" stroke-width="5.5" stroke-linecap="butt" />
<line x1="1946.90" y1="1336.20" x2="1975.50" y2="1336.20" stroke="#000" stroke-width="5.5" stroke-linecap="butt" />
<line x1="1899.95" y1="1399.70" x2="1928.10" y2="1399.70" stroke="#000" stroke-width="5.5" stroke-linecap="butt" />
<line x1="1946.90" y1="1399.70" x2="1975.50" y2="1399.70" stroke="#000" stroke-width="5.5" stroke-linecap="butt" />
<line x1="1899.95" y1="1463.20" x2="1928.10" y2="1463.20" stroke="#000" stroke-width="5.5" stroke-linecap="butt" />
<line x1="1946.90" y1="1463.20" x2="1975.50" y2="1463.20" stroke="#000" stroke-width="5.5" stroke-linecap="butt" />
<line x1="1899.95" y1="1526.70" x2="1928.10" y2="1526.70" stroke="#000" stroke-width="5.5" stroke-linecap="butt" />
<line x1="1946.90" y1="1526.70" x2="1975.50" y2="1526.70" stroke="#000" stroke-width="5.5" stroke-linecap="butt" />
<line x1="1899.95" y1="1590.20" x2="1928.10" y2="1590.20" stroke="#000" stroke-width="5.5" stroke-linecap="butt" />
<line x1="1946.90" y1="1590.20" x2="1975.50" y2="1590.20" stroke="#000" stroke-width="5.5" stroke-linecap="butt" />
<line x1="1899.95" y1="1653.70" x2="1928.10" y2="1653.70" stroke="#000" stroke-width="5.5" stroke-linecap="butt" />
<line x1="1946.90" y1="1653.70" x2="1975.50" y2="1653.70" stroke="#000" stroke-width="5.5" stroke-linecap="butt" />
<line x1="1899.95" y1="1717.20" x2="1928.10" y2="1717.20" stroke="#000" stroke-width="5.5" stroke-linecap="butt" />
<line x1="1946.90" y1="1717.20" x2="1975.50" y2="1717.20" stroke="#000" stroke-width="5.5" stroke-linecap="butt" />
<line x1="1899.95" y1="1780.70" x2="1928.10" y2="1780.70" stroke="#000" stroke-width="5.5" stroke-linecap="butt" />
<line x1="1946.90" y1="1780.70" x2="1975.50" y2="1780.70" stroke="#000" stroke-width="5.5" stroke-linecap="butt" />
<line x1="1899.95" y1="1844.20" x2="1928.10" y2="1844.20" stroke="#000" stroke-width="5.5" stroke-linecap="butt" />
<line x1="1946.90" y1="1844.20" x2="1975.50" y2="1844.20" stroke="#000" stroke-width="5.5" stroke-linecap="butt" />
<line x1="1899.95" y1="1907.70" x2="1928.10" y2="1907.70" stroke="#000" stroke-width="5.5" stroke-linecap="butt" />
<line x1="1946.90" y1="1907.70" x2="1975.50" y2="1907.70" stroke="#000" stroke-width="5.5" stroke-linecap="butt" />
<text transform="matrix(0.7642 0 0 0.6567 2026.87 1296.04)" font-size="100" fill="#000">46</text>
<text transform="matrix(0.7849 0 0 0.6576 2026.83 1423.60)" font-size="100" fill="#000">42</text>
<text transform="matrix(0.7495 0 0 0.6489 2027.05 1549.95)" font-size="100" fill="#000">38</text>
<text transform="matrix(0.7615 0 0 0.6537 2026.99 1677.15)" font-size="100" fill="#000">34</text>
<text transform="matrix(0.7912 0 0 0.6593 2026.04 1804.54)" font-size="100" fill="#000">30</text>
<text transform="matrix(0.7730 0 0 0.6478 2026.52 1931.75)" font-size="100" fill="#000">26</text>
<text transform="matrix(0.6982 0 0 0.6622 1856.36 1234.69)" font-size="100" fill="#000">(in C)</text>
</svg></body></html>
